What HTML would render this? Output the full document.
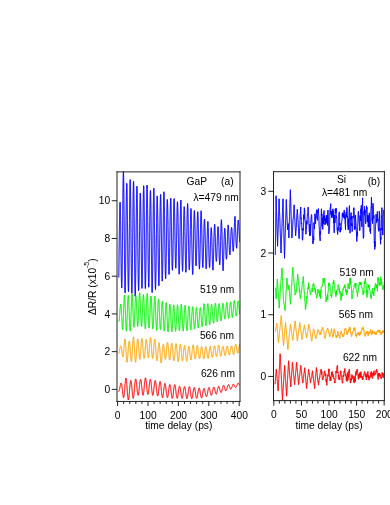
<!DOCTYPE html>
<html><head><meta charset="utf-8"><title>figure</title>
<style>
html,body{margin:0;padding:0;background:#fff;}
body{width:390px;height:505px;overflow:hidden;}
svg{display:block;}
svg text{font-family:"Liberation Sans",sans-serif;font-size:10.25px;fill:#000;}
.ax line,.ax rect{stroke:#222;stroke-width:1.0;}
.tx{will-change:transform;}
</style></head><body>
<svg width="390" height="505" viewBox="0 0 390 505">
<rect width="390" height="505" fill="#fff"/>
<defs>
<clipPath id="cl"><rect x="117.20" y="171.70" width="122.90" height="229.75"/></clipPath>
<clipPath id="cr"><rect x="273.50" y="171.70" width="110.90" height="228.90"/></clipPath>
</defs>
<g clip-path="url(#cl)">
<path d="M118.77,277.20 L118.92,266.95 L119.07,255.10 L119.23,242.60 L119.38,230.43 L119.53,219.56 L119.68,210.85 L119.84,204.98 L119.99,202.40 L120.14,202.21 L120.29,205.20 L120.45,211.52 L120.60,220.67 L120.75,231.92 L120.90,244.36 L121.06,256.92 L121.21,268.54 L121.36,278.15 L121.51,284.87 L121.67,287.99 L121.82,287.36 L121.97,282.72 L122.12,274.14 L122.28,262.15 L122.43,247.58 L122.58,231.49 L122.73,215.10 L122.89,199.70 L123.04,186.52 L123.19,176.67 L123.34,171.00 L123.50,171.25 L123.65,177.05 L123.80,187.12 L123.95,200.66 L124.11,216.62 L124.26,233.74 L124.41,250.68 L124.56,266.12 L124.72,278.88 L124.87,287.99 L125.02,292.78 L125.17,292.77 L125.33,288.04 L125.48,279.17 L125.63,266.96 L125.78,252.41 L125.94,236.75 L126.09,221.24 L126.24,207.14 L126.39,195.58 L126.55,187.46 L126.70,183.41 L126.85,183.41 L127.00,187.33 L127.16,195.29 L127.31,206.64 L127.46,220.47 L127.61,235.68 L127.77,251.04 L127.92,265.32 L128.07,277.35 L128.22,286.18 L128.38,291.07 L128.53,291.67 L128.68,287.95 L128.83,280.10 L128.99,268.73 L129.14,254.73 L129.29,239.20 L129.44,223.38 L129.59,208.53 L129.75,195.83 L129.90,186.32 L130.05,180.76 L130.21,179.67 L130.36,183.25 L130.51,191.06 L130.66,202.48 L130.81,216.59 L130.97,232.29 L131.12,248.32 L131.27,263.40 L131.43,276.34 L131.58,286.11 L131.73,291.94 L131.88,293.38 L132.03,290.36 L132.19,283.08 L132.34,272.11 L132.49,258.35 L132.65,242.89 L132.80,226.98 L132.95,211.90 L133.10,198.85 L133.25,188.91 L133.41,182.86 L133.56,181.22 L133.71,184.26 L133.87,191.61 L134.02,202.67 L134.17,216.59 L134.32,232.26 L134.47,248.44 L134.63,263.86 L134.78,277.29 L134.93,287.70 L135.09,294.25 L135.24,296.45 L135.39,293.76 L135.54,286.83 L135.69,276.24 L135.85,262.86 L136.00,247.79 L136.15,232.23 L136.31,217.42 L136.46,204.54 L136.61,194.60 L136.76,188.35 L136.91,186.25 L137.07,188.52 L137.22,194.85 L137.37,204.69 L137.53,217.24 L137.68,231.45 L137.83,246.19 L137.98,260.28 L138.13,272.61 L138.29,282.22 L138.44,288.37 L138.59,290.61 L138.75,288.97 L138.90,283.48 L139.05,274.61 L139.20,263.08 L139.36,249.86 L139.51,236.01 L139.66,222.66 L139.81,210.86 L139.97,201.55 L140.12,195.46 L140.27,193.07 L140.42,194.01 L140.57,198.60 L140.73,206.61 L140.88,217.39 L141.03,230.07 L141.19,243.64 L141.34,256.99 L141.49,269.03 L141.64,278.78 L141.80,285.43 L141.95,288.40 L142.10,287.51 L142.25,282.74 L142.41,274.38 L142.56,263.09 L142.71,249.72 L142.86,235.32 L143.01,221.03 L143.17,207.97 L143.32,197.20 L143.47,189.57 L143.62,185.71 L143.78,186.14 L143.93,190.75 L144.08,199.06 L144.24,210.41 L144.39,223.90 L144.54,238.44 L144.69,252.88 L144.84,266.06 L145.00,276.93 L145.15,284.62 L145.30,288.50 L145.46,288.22 L145.61,283.80 L145.76,275.64 L145.91,264.39 L146.06,250.93 L146.22,236.35 L146.37,221.80 L146.52,208.43 L146.68,197.33 L146.83,189.35 L146.98,185.14 L147.13,185.16 L147.28,189.41 L147.44,197.39 L147.59,208.43 L147.74,221.66 L147.90,236.01 L148.05,250.33 L148.20,263.50 L148.35,274.49 L148.50,282.43 L148.66,286.72 L148.81,287.18 L148.96,283.85 L149.12,276.84 L149.27,266.73 L149.42,254.35 L149.57,240.71 L149.72,226.92 L149.88,214.09 L150.03,203.27 L150.18,195.35 L150.34,190.97 L150.49,190.40 L150.64,193.57 L150.79,200.50 L150.94,210.67 L151.10,223.28 L151.25,237.35 L151.40,251.77 L151.56,265.38 L151.71,277.11 L151.86,285.99 L152.01,291.31 L152.16,292.53 L152.32,289.35 L152.47,282.30 L152.62,271.93 L152.78,259.06 L152.93,244.72 L153.08,230.04 L153.23,216.18 L153.38,204.25 L153.54,195.18 L153.69,189.68 L153.84,188.25 L154.00,191.30 L154.15,198.17 L154.30,208.29 L154.45,220.84 L154.61,234.81 L154.76,249.06 L154.91,262.49 L155.06,274.03 L155.22,282.80 L155.37,288.13 L155.52,289.64 L155.67,287.22 L155.82,281.14 L155.98,271.94 L156.13,260.39 L156.28,247.45 L156.44,234.16 L156.59,221.58 L156.74,210.73 L156.89,202.45 L157.05,197.38 L157.20,195.88 L157.35,197.64 L157.50,202.91 L157.66,211.25 L157.81,221.97 L157.96,234.21 L158.11,246.97 L158.26,259.23 L158.42,269.99 L158.57,278.41 L158.72,283.79 L158.88,285.71 L159.03,283.99 L159.18,278.78 L159.33,270.52 L159.49,259.84 L159.64,247.61 L159.79,234.78 L159.94,222.38 L160.09,211.38 L160.25,202.64 L160.40,196.84 L160.55,194.43 L160.71,195.52 L160.86,200.05 L161.01,207.65 L161.16,217.69 L161.31,229.36 L161.47,241.70 L161.62,253.72 L161.77,264.45 L161.93,273.01 L162.08,278.73 L162.23,281.12 L162.38,280.08 L162.53,275.61 L162.69,268.05 L162.84,257.99 L162.99,246.21 L163.15,233.65 L163.30,221.30 L163.45,210.15 L163.60,201.07 L163.75,194.77 L163.91,191.77 L164.06,192.60 L164.21,197.01 L164.37,204.48 L164.52,214.40 L164.67,225.94 L164.82,238.20 L164.97,250.19 L165.13,260.98 L165.28,269.74 L165.43,275.78 L165.59,278.68 L165.74,278.20 L165.89,274.43 L166.04,267.76 L166.19,258.77 L166.35,248.20 L166.50,236.93 L166.65,225.86 L166.81,215.88 L166.96,207.77 L167.11,202.16 L167.26,199.47 L167.41,199.67 L167.57,202.73 L167.72,208.57 L167.87,216.73 L168.03,226.52 L168.18,237.16 L168.33,247.77 L168.48,257.52 L168.63,265.60 L168.79,271.38 L168.94,274.38 L169.09,274.38 L169.25,271.36 L169.40,265.57 L169.55,257.47 L169.70,247.71 L169.86,237.06 L170.01,226.37 L170.16,216.47 L170.31,208.14 L170.47,202.03 L170.62,198.61 L170.77,198.16 L170.92,200.72 L171.07,206.01 L171.23,213.58 L171.38,222.81 L171.53,232.94 L171.69,243.17 L171.84,252.66 L171.99,260.66 L172.14,266.53 L172.30,269.81 L172.45,270.28 L172.60,267.94 L172.75,262.93 L172.91,255.65 L173.06,246.69 L173.21,236.76 L173.36,226.66 L173.51,217.18 L173.67,209.08 L173.82,203.00 L173.97,199.41 L174.12,198.61 L174.28,200.72 L174.43,205.45 L174.58,212.43 L174.74,221.07 L174.89,230.67 L175.04,240.48 L175.19,249.70 L175.34,257.61 L175.50,263.60 L175.65,267.19 L175.80,268.17 L175.95,266.76 L176.11,262.75 L176.26,256.47 L176.41,248.43 L176.56,239.29 L176.72,229.79 L176.87,220.70 L177.02,212.77 L177.18,206.65 L177.33,202.87 L177.48,201.73 L177.63,203.16 L177.78,207.28 L177.94,213.80 L178.09,222.23 L178.24,231.92 L178.40,242.10 L178.55,251.98 L178.70,260.76 L178.85,267.73 L179.00,272.34 L179.16,274.18 L179.31,272.72 L179.46,268.43 L179.62,261.67 L179.77,252.97 L179.92,243.01 L180.07,232.59 L180.22,222.53 L180.38,213.63 L180.53,206.58 L180.68,201.94 L180.84,200.06 L180.99,201.42 L181.14,205.58 L181.29,212.17 L181.44,220.62 L181.60,230.25 L181.75,240.29 L181.90,249.94 L182.06,258.44 L182.21,265.15 L182.36,269.55 L182.51,271.33 L182.67,270.53 L182.82,267.15 L182.97,261.44 L183.12,253.90 L183.28,245.15 L183.43,235.91 L183.58,226.94 L183.73,218.95 L183.88,212.60 L184.04,208.39 L184.19,206.66 L184.34,207.21 L184.50,210.20 L184.65,215.54 L184.80,222.80 L184.95,231.41 L185.11,240.69 L185.26,249.89 L185.41,258.26 L185.56,265.14 L185.72,269.96 L185.87,272.30 L186.02,271.87 L186.17,268.72 L186.32,263.16 L186.48,255.61 L186.63,246.66 L186.78,237.01 L186.94,227.43 L187.09,218.67 L187.24,211.42 L187.39,206.26 L187.55,203.57 L187.70,203.80 L187.85,206.85 L188.00,212.29 L188.16,219.68 L188.31,228.41 L188.46,237.77 L188.61,247.03 L188.76,255.44 L188.92,262.36 L189.07,267.25 L189.22,269.75 L189.38,269.85 L189.53,267.57 L189.68,262.95 L189.83,256.39 L189.99,248.41 L190.14,239.67 L190.29,230.90 L190.44,222.81 L190.59,216.06 L190.75,211.21 L190.90,208.66 L191.05,208.58 L191.20,210.97 L191.36,215.73 L191.51,222.51 L191.66,230.79 L191.81,239.91 L191.97,249.18 L192.12,257.85 L192.27,265.24 L192.43,270.77 L192.58,274.01 L192.73,274.50 L192.88,271.99 L193.03,267.13 L193.19,260.32 L193.34,252.13 L193.49,243.21 L193.64,234.27 L193.80,226.01 L193.95,219.07 L194.10,213.95 L194.25,211.04 L194.41,210.50 L194.56,212.30 L194.71,216.29 L194.87,222.09 L195.02,229.20 L195.17,237.03 L195.32,244.93 L195.47,252.25 L195.63,258.41 L195.78,262.92 L195.93,265.45 L196.09,265.89 L196.24,264.59 L196.39,261.20 L196.54,256.01 L196.69,249.43 L196.85,241.98 L197.00,234.27 L197.15,226.93 L197.31,220.54 L197.46,215.64 L197.61,212.62 L197.76,211.74 L197.92,212.99 L198.07,216.39 L198.22,221.68 L198.37,228.45 L198.53,236.19 L198.68,244.26 L198.83,252.05 L198.98,258.91 L199.13,264.31 L199.29,267.80 L199.44,269.10 L199.59,267.88 L199.75,264.44 L199.90,259.06 L200.05,252.17 L200.20,244.30 L200.36,236.10 L200.51,228.20 L200.66,221.23 L200.81,215.74 L200.97,212.18 L201.12,210.80 L201.27,212.10 L201.42,215.61 L201.57,220.99 L201.73,227.79 L201.88,235.48 L202.03,243.43 L202.19,251.02 L202.34,257.66 L202.49,262.86 L202.64,266.24 L202.80,267.57 L202.95,266.91 L203.10,264.25 L203.25,259.83 L203.41,254.04 L203.56,247.38 L203.71,240.40 L203.86,233.67 L204.01,227.75 L204.17,223.12 L204.32,220.15 L204.47,219.06 L204.62,219.74 L204.78,222.27 L204.93,226.52 L205.08,232.16 L205.24,238.74 L205.39,245.74 L205.54,252.60 L205.69,258.80 L205.84,263.83 L206.00,267.31 L206.15,268.98 L206.30,268.60 L206.45,266.28 L206.61,262.26 L206.76,256.86 L206.91,250.54 L207.06,243.81 L207.22,237.19 L207.37,231.23 L207.52,226.39 L207.68,223.05 L207.83,221.47 L207.98,221.86 L208.13,224.15 L208.28,228.07 L208.44,233.28 L208.59,239.36 L208.74,245.83 L208.89,252.17 L209.05,257.88 L209.20,262.54 L209.35,265.80 L209.50,267.42 L209.66,267.42 L209.81,265.82 L209.96,262.68 L210.12,258.29 L210.27,253.00 L210.42,247.28 L210.57,241.59 L210.72,236.40 L210.88,232.13 L211.03,229.15 L211.18,227.69 L211.33,227.68 L211.49,229.08 L211.64,232.05 L211.79,236.36 L211.94,241.69 L212.10,247.62 L212.25,253.67 L212.40,259.36 L212.56,264.23 L212.71,267.87 L212.86,269.97 L213.01,270.16 L213.17,268.24 L213.32,264.72 L213.47,259.86 L213.62,254.06 L213.78,247.75 L213.93,241.42 L214.08,235.56 L214.23,230.60 L214.38,226.91 L214.54,224.73 L214.69,224.28 L214.84,225.67 L215.00,228.53 L215.15,232.59 L215.30,237.50 L215.45,242.82 L215.61,248.11 L215.76,252.93 L215.91,256.92 L216.06,259.75 L216.22,261.22 L216.37,261.36 L216.52,260.51 L216.67,258.30 L216.82,254.92 L216.98,250.64 L217.13,245.81 L217.28,240.84 L217.44,236.12 L217.59,232.04 L217.74,228.95 L217.89,227.11 L218.05,226.61 L218.20,227.21 L218.35,229.25 L218.50,232.60 L218.66,237.00 L218.81,242.13 L218.96,247.57 L219.11,252.88 L219.26,257.63 L219.42,261.40 L219.57,263.85 L219.72,264.77 L219.88,264.13 L220.03,261.83 L220.18,258.01 L220.33,252.94 L220.49,247.00 L220.64,240.64 L220.79,234.37 L220.94,228.70 L221.09,224.12 L221.25,221.01 L221.40,219.67 L221.55,220.92 L221.70,224.03 L221.86,228.75 L222.01,234.71 L222.16,241.47 L222.31,248.51 L222.47,255.29 L222.62,261.30 L222.77,266.10 L222.93,269.32 L223.08,270.75 L223.23,269.62 L223.38,266.68 L223.53,262.32 L223.69,256.94 L223.84,251.00 L223.99,245.01 L224.14,239.42 L224.30,234.68 L224.45,231.11 L224.60,228.95 L224.75,228.29 L224.91,228.67 L225.06,230.34 L225.21,233.20 L225.37,236.99 L225.52,241.36 L225.67,245.91 L225.82,250.26 L225.97,254.04 L226.13,256.93 L226.28,258.70 L226.43,259.19 L226.58,258.62 L226.74,256.88 L226.89,253.99 L227.04,250.18 L227.19,245.73 L227.35,241.00 L227.50,236.33 L227.65,232.10 L227.81,228.62 L227.96,226.16 L228.11,224.90 L228.26,225.10 L228.42,226.65 L228.57,229.29 L228.72,232.80 L228.87,236.86 L229.03,241.15 L229.18,245.32 L229.33,249.03 L229.48,252.01 L229.63,254.01 L229.79,254.92 L229.94,254.68 L230.09,253.33 L230.25,251.00 L230.40,247.88 L230.55,244.25 L230.70,240.39 L230.86,236.61 L231.01,233.22 L231.16,230.48 L231.31,228.58 L231.47,227.66 L231.62,227.46 L231.77,227.96 L231.92,229.45 L232.07,231.81 L232.23,234.85 L232.38,238.29 L232.53,241.85 L232.69,245.22 L232.84,248.08 L232.99,250.16 L233.14,251.25 L233.30,251.21 L233.45,250.00 L233.60,247.65 L233.75,244.30 L233.91,240.15 L234.06,235.52 L234.21,230.73 L234.36,226.14 L234.51,222.11 L234.67,218.95 L234.82,216.92 L234.97,216.39 L235.12,217.64 L235.28,220.09 L235.43,223.53 L235.58,227.66 L235.74,232.15 L235.89,236.64 L236.04,240.76 L236.19,244.20 L236.34,246.71 L236.50,248.09 L236.65,248.25 L236.80,247.14 L236.95,244.95 L237.11,241.89 L237.26,238.23 L237.41,234.26 L237.56,230.31 L237.72,226.69 L237.87,223.67 L238.02,221.48 L238.18,220.26 L238.33,220.05 L238.48,220.69 L238.63,222.27 L238.78,224.64 L238.94,227.59 L239.09,230.87 L239.24,234.18 L239.39,237.27 L239.55,239.88 L239.70,241.80" fill="none" stroke="#0000ff" stroke-width="0.6" stroke-linejoin="round" stroke-linecap="round"/><path d="M118.77,277.20 L118.92,266.95 L119.07,255.10 L119.23,242.60 L119.38,230.43 L119.53,219.56 L119.68,210.85 L119.84,204.98 L119.99,202.40 L120.14,202.21 L120.29,205.20 L120.45,211.52 L120.60,220.67 L120.75,231.92 L120.90,244.36 L121.06,256.92 L121.21,268.54 L121.36,278.15 L121.51,284.87 L121.67,287.99 L121.82,287.36 L121.97,282.72 L122.12,274.14 L122.28,262.15 L122.43,247.58 L122.58,231.49 L122.73,215.10 L122.89,199.70 L123.04,186.52 L123.19,176.67 L123.34,171.00 L123.50,171.25 L123.65,177.05 L123.80,187.12 L123.95,200.66 L124.11,216.62 L124.26,233.74 L124.41,250.68 L124.56,266.12 L124.72,278.88 L124.87,287.99 L125.02,292.78 L125.17,292.77 L125.33,288.04 L125.48,279.17 L125.63,266.96 L125.78,252.41 L125.94,236.75 L126.09,221.24 L126.24,207.14 L126.39,195.58 L126.55,187.46 L126.70,183.41 L126.85,183.41 L127.00,187.33 L127.16,195.29 L127.31,206.64 L127.46,220.47 L127.61,235.68 L127.77,251.04 L127.92,265.32 L128.07,277.35 L128.22,286.18 L128.38,291.07 L128.53,291.67 L128.68,287.95 L128.83,280.10 L128.99,268.73 L129.14,254.73 L129.29,239.20 L129.44,223.38 L129.59,208.53 L129.75,195.83 L129.90,186.32 L130.05,180.76 L130.21,179.67 L130.36,183.25 L130.51,191.06 L130.66,202.48 L130.81,216.59 L130.97,232.29 L131.12,248.32 L131.27,263.40 L131.43,276.34 L131.58,286.11 L131.73,291.94 L131.88,293.38 L132.03,290.36 L132.19,283.08 L132.34,272.11 L132.49,258.35 L132.65,242.89 L132.80,226.98 L132.95,211.90 L133.10,198.85 L133.25,188.91 L133.41,182.86 L133.56,181.22 L133.71,184.26 L133.87,191.61 L134.02,202.67 L134.17,216.59 L134.32,232.26 L134.47,248.44 L134.63,263.86 L134.78,277.29 L134.93,287.70 L135.09,294.25 L135.24,296.45 L135.39,293.76 L135.54,286.83 L135.69,276.24 L135.85,262.86 L136.00,247.79 L136.15,232.23 L136.31,217.42 L136.46,204.54 L136.61,194.60 L136.76,188.35 L136.91,186.25 L137.07,188.52 L137.22,194.85 L137.37,204.69 L137.53,217.24 L137.68,231.45 L137.83,246.19 L137.98,260.28 L138.13,272.61 L138.29,282.22 L138.44,288.37 L138.59,290.61 L138.75,288.97 L138.90,283.48 L139.05,274.61 L139.20,263.08 L139.36,249.86 L139.51,236.01 L139.66,222.66 L139.81,210.86 L139.97,201.55 L140.12,195.46 L140.27,193.07 L140.42,194.01 L140.57,198.60 L140.73,206.61 L140.88,217.39 L141.03,230.07 L141.19,243.64 L141.34,256.99 L141.49,269.03 L141.64,278.78 L141.80,285.43 L141.95,288.40 L142.10,287.51 L142.25,282.74 L142.41,274.38 L142.56,263.09 L142.71,249.72 L142.86,235.32 L143.01,221.03 L143.17,207.97 L143.32,197.20 L143.47,189.57 L143.62,185.71 L143.78,186.14 L143.93,190.75 L144.08,199.06 L144.24,210.41 L144.39,223.90 L144.54,238.44 L144.69,252.88 L144.84,266.06 L145.00,276.93 L145.15,284.62 L145.30,288.50 L145.46,288.22 L145.61,283.80 L145.76,275.64 L145.91,264.39 L146.06,250.93 L146.22,236.35 L146.37,221.80 L146.52,208.43 L146.68,197.33 L146.83,189.35 L146.98,185.14 L147.13,185.16 L147.28,189.41 L147.44,197.39 L147.59,208.43 L147.74,221.66 L147.90,236.01 L148.05,250.33 L148.20,263.50 L148.35,274.49 L148.50,282.43 L148.66,286.72 L148.81,287.18 L148.96,283.85 L149.12,276.84 L149.27,266.73 L149.42,254.35 L149.57,240.71 L149.72,226.92 L149.88,214.09 L150.03,203.27 L150.18,195.35 L150.34,190.97 L150.49,190.40 L150.64,193.57 L150.79,200.50 L150.94,210.67 L151.10,223.28 L151.25,237.35 L151.40,251.77 L151.56,265.38 L151.71,277.11 L151.86,285.99 L152.01,291.31 L152.16,292.53 L152.32,289.35 L152.47,282.30 L152.62,271.93 L152.78,259.06 L152.93,244.72 L153.08,230.04 L153.23,216.18 L153.38,204.25 L153.54,195.18 L153.69,189.68 L153.84,188.25 L154.00,191.30 L154.15,198.17 L154.30,208.29 L154.45,220.84 L154.61,234.81 L154.76,249.06 L154.91,262.49 L155.06,274.03 L155.22,282.80 L155.37,288.13 L155.52,289.64 L155.67,287.22 L155.82,281.14 L155.98,271.94 L156.13,260.39 L156.28,247.45 L156.44,234.16 L156.59,221.58 L156.74,210.73 L156.89,202.45 L157.05,197.38 L157.20,195.88 L157.35,197.64 L157.50,202.91 L157.66,211.25 L157.81,221.97 L157.96,234.21 L158.11,246.97 L158.26,259.23 L158.42,269.99 L158.57,278.41 L158.72,283.79 L158.88,285.71 L159.03,283.99 L159.18,278.78 L159.33,270.52 L159.49,259.84 L159.64,247.61 L159.79,234.78 L159.94,222.38 L160.09,211.38 L160.25,202.64 L160.40,196.84 L160.55,194.43 L160.71,195.52 L160.86,200.05 L161.01,207.65 L161.16,217.69 L161.31,229.36 L161.47,241.70 L161.62,253.72 L161.77,264.45 L161.93,273.01 L162.08,278.73 L162.23,281.12 L162.38,280.08 L162.53,275.61 L162.69,268.05 L162.84,257.99 L162.99,246.21 L163.15,233.65 L163.30,221.30 L163.45,210.15 L163.60,201.07 L163.75,194.77 L163.91,191.77 L164.06,192.60 L164.21,197.01 L164.37,204.48 L164.52,214.40 L164.67,225.94 L164.82,238.20 L164.97,250.19 L165.13,260.98 L165.28,269.74 L165.43,275.78 L165.59,278.68 L165.74,278.20 L165.89,274.43 L166.04,267.76 L166.19,258.77 L166.35,248.20 L166.50,236.93 L166.65,225.86 L166.81,215.88 L166.96,207.77 L167.11,202.16 L167.26,199.47 L167.41,199.67 L167.57,202.73 L167.72,208.57 L167.87,216.73 L168.03,226.52 L168.18,237.16 L168.33,247.77 L168.48,257.52 L168.63,265.60 L168.79,271.38 L168.94,274.38 L169.09,274.38 L169.25,271.36 L169.40,265.57 L169.55,257.47 L169.70,247.71 L169.86,237.06 L170.01,226.37 L170.16,216.47 L170.31,208.14 L170.47,202.03 L170.62,198.61 L170.77,198.16 L170.92,200.72 L171.07,206.01 L171.23,213.58 L171.38,222.81 L171.53,232.94 L171.69,243.17 L171.84,252.66 L171.99,260.66 L172.14,266.53 L172.30,269.81 L172.45,270.28 L172.60,267.94 L172.75,262.93 L172.91,255.65 L173.06,246.69 L173.21,236.76 L173.36,226.66 L173.51,217.18 L173.67,209.08 L173.82,203.00 L173.97,199.41 L174.12,198.61 L174.28,200.72 L174.43,205.45 L174.58,212.43 L174.74,221.07 L174.89,230.67 L175.04,240.48 L175.19,249.70 L175.34,257.61 L175.50,263.60 L175.65,267.19 L175.80,268.17 L175.95,266.76 L176.11,262.75 L176.26,256.47 L176.41,248.43 L176.56,239.29 L176.72,229.79 L176.87,220.70 L177.02,212.77 L177.18,206.65 L177.33,202.87 L177.48,201.73 L177.63,203.16 L177.78,207.28 L177.94,213.80 L178.09,222.23 L178.24,231.92 L178.40,242.10 L178.55,251.98 L178.70,260.76 L178.85,267.73 L179.00,272.34 L179.16,274.18 L179.31,272.72 L179.46,268.43 L179.62,261.67 L179.77,252.97 L179.92,243.01 L180.07,232.59 L180.22,222.53 L180.38,213.63 L180.53,206.58 L180.68,201.94 L180.84,200.06 L180.99,201.42 L181.14,205.58 L181.29,212.17 L181.44,220.62 L181.60,230.25 L181.75,240.29 L181.90,249.94 L182.06,258.44 L182.21,265.15 L182.36,269.55 L182.51,271.33 L182.67,270.53 L182.82,267.15 L182.97,261.44 L183.12,253.90 L183.28,245.15 L183.43,235.91 L183.58,226.94 L183.73,218.95 L183.88,212.60 L184.04,208.39 L184.19,206.66 L184.34,207.21 L184.50,210.20 L184.65,215.54 L184.80,222.80 L184.95,231.41 L185.11,240.69 L185.26,249.89 L185.41,258.26 L185.56,265.14 L185.72,269.96 L185.87,272.30 L186.02,271.87 L186.17,268.72 L186.32,263.16 L186.48,255.61 L186.63,246.66 L186.78,237.01 L186.94,227.43 L187.09,218.67 L187.24,211.42 L187.39,206.26 L187.55,203.57 L187.70,203.80 L187.85,206.85 L188.00,212.29 L188.16,219.68 L188.31,228.41 L188.46,237.77 L188.61,247.03 L188.76,255.44 L188.92,262.36 L189.07,267.25 L189.22,269.75 L189.38,269.85 L189.53,267.57 L189.68,262.95 L189.83,256.39 L189.99,248.41 L190.14,239.67 L190.29,230.90 L190.44,222.81 L190.59,216.06 L190.75,211.21 L190.90,208.66 L191.05,208.58 L191.20,210.97 L191.36,215.73 L191.51,222.51 L191.66,230.79 L191.81,239.91 L191.97,249.18 L192.12,257.85 L192.27,265.24 L192.43,270.77 L192.58,274.01 L192.73,274.50 L192.88,271.99 L193.03,267.13 L193.19,260.32 L193.34,252.13 L193.49,243.21 L193.64,234.27 L193.80,226.01 L193.95,219.07 L194.10,213.95 L194.25,211.04 L194.41,210.50 L194.56,212.30 L194.71,216.29 L194.87,222.09 L195.02,229.20 L195.17,237.03 L195.32,244.93 L195.47,252.25 L195.63,258.41 L195.78,262.92 L195.93,265.45 L196.09,265.89 L196.24,264.59 L196.39,261.20 L196.54,256.01 L196.69,249.43 L196.85,241.98 L197.00,234.27 L197.15,226.93 L197.31,220.54 L197.46,215.64 L197.61,212.62 L197.76,211.74 L197.92,212.99 L198.07,216.39 L198.22,221.68 L198.37,228.45 L198.53,236.19 L198.68,244.26 L198.83,252.05 L198.98,258.91 L199.13,264.31 L199.29,267.80 L199.44,269.10 L199.59,267.88 L199.75,264.44 L199.90,259.06 L200.05,252.17 L200.20,244.30 L200.36,236.10 L200.51,228.20 L200.66,221.23 L200.81,215.74 L200.97,212.18 L201.12,210.80 L201.27,212.10 L201.42,215.61 L201.57,220.99 L201.73,227.79 L201.88,235.48 L202.03,243.43 L202.19,251.02 L202.34,257.66 L202.49,262.86 L202.64,266.24 L202.80,267.57 L202.95,266.91 L203.10,264.25 L203.25,259.83 L203.41,254.04 L203.56,247.38 L203.71,240.40 L203.86,233.67 L204.01,227.75 L204.17,223.12 L204.32,220.15 L204.47,219.06 L204.62,219.74 L204.78,222.27 L204.93,226.52 L205.08,232.16 L205.24,238.74 L205.39,245.74 L205.54,252.60 L205.69,258.80 L205.84,263.83 L206.00,267.31 L206.15,268.98 L206.30,268.60 L206.45,266.28 L206.61,262.26 L206.76,256.86 L206.91,250.54 L207.06,243.81 L207.22,237.19 L207.37,231.23 L207.52,226.39 L207.68,223.05 L207.83,221.47 L207.98,221.86 L208.13,224.15 L208.28,228.07 L208.44,233.28 L208.59,239.36 L208.74,245.83 L208.89,252.17 L209.05,257.88 L209.20,262.54 L209.35,265.80 L209.50,267.42 L209.66,267.42 L209.81,265.82 L209.96,262.68 L210.12,258.29 L210.27,253.00 L210.42,247.28 L210.57,241.59 L210.72,236.40 L210.88,232.13 L211.03,229.15 L211.18,227.69 L211.33,227.68 L211.49,229.08 L211.64,232.05 L211.79,236.36 L211.94,241.69 L212.10,247.62 L212.25,253.67 L212.40,259.36 L212.56,264.23 L212.71,267.87 L212.86,269.97 L213.01,270.16 L213.17,268.24 L213.32,264.72 L213.47,259.86 L213.62,254.06 L213.78,247.75 L213.93,241.42 L214.08,235.56 L214.23,230.60 L214.38,226.91 L214.54,224.73 L214.69,224.28 L214.84,225.67 L215.00,228.53 L215.15,232.59 L215.30,237.50 L215.45,242.82 L215.61,248.11 L215.76,252.93 L215.91,256.92 L216.06,259.75 L216.22,261.22 L216.37,261.36 L216.52,260.51 L216.67,258.30 L216.82,254.92 L216.98,250.64 L217.13,245.81 L217.28,240.84 L217.44,236.12 L217.59,232.04 L217.74,228.95 L217.89,227.11 L218.05,226.61 L218.20,227.21 L218.35,229.25 L218.50,232.60 L218.66,237.00 L218.81,242.13 L218.96,247.57 L219.11,252.88 L219.26,257.63 L219.42,261.40 L219.57,263.85 L219.72,264.77 L219.88,264.13 L220.03,261.83 L220.18,258.01 L220.33,252.94 L220.49,247.00 L220.64,240.64 L220.79,234.37 L220.94,228.70 L221.09,224.12 L221.25,221.01 L221.40,219.67 L221.55,220.92 L221.70,224.03 L221.86,228.75 L222.01,234.71 L222.16,241.47 L222.31,248.51 L222.47,255.29 L222.62,261.30 L222.77,266.10 L222.93,269.32 L223.08,270.75 L223.23,269.62 L223.38,266.68 L223.53,262.32 L223.69,256.94 L223.84,251.00 L223.99,245.01 L224.14,239.42 L224.30,234.68 L224.45,231.11 L224.60,228.95 L224.75,228.29 L224.91,228.67 L225.06,230.34 L225.21,233.20 L225.37,236.99 L225.52,241.36 L225.67,245.91 L225.82,250.26 L225.97,254.04 L226.13,256.93 L226.28,258.70 L226.43,259.19 L226.58,258.62 L226.74,256.88 L226.89,253.99 L227.04,250.18 L227.19,245.73 L227.35,241.00 L227.50,236.33 L227.65,232.10 L227.81,228.62 L227.96,226.16 L228.11,224.90 L228.26,225.10 L228.42,226.65 L228.57,229.29 L228.72,232.80 L228.87,236.86 L229.03,241.15 L229.18,245.32 L229.33,249.03 L229.48,252.01 L229.63,254.01 L229.79,254.92 L229.94,254.68 L230.09,253.33 L230.25,251.00 L230.40,247.88 L230.55,244.25 L230.70,240.39 L230.86,236.61 L231.01,233.22 L231.16,230.48 L231.31,228.58 L231.47,227.66 L231.62,227.46 L231.77,227.96 L231.92,229.45 L232.07,231.81 L232.23,234.85 L232.38,238.29 L232.53,241.85 L232.69,245.22 L232.84,248.08 L232.99,250.16 L233.14,251.25 L233.30,251.21 L233.45,250.00 L233.60,247.65 L233.75,244.30 L233.91,240.15 L234.06,235.52 L234.21,230.73 L234.36,226.14 L234.51,222.11 L234.67,218.95 L234.82,216.92 L234.97,216.39 L235.12,217.64 L235.28,220.09 L235.43,223.53 L235.58,227.66 L235.74,232.15 L235.89,236.64 L236.04,240.76 L236.19,244.20 L236.34,246.71 L236.50,248.09 L236.65,248.25 L236.80,247.14 L236.95,244.95 L237.11,241.89 L237.26,238.23 L237.41,234.26 L237.56,230.31 L237.72,226.69 L237.87,223.67 L238.02,221.48 L238.18,220.26 L238.33,220.05 L238.48,220.69 L238.63,222.27 L238.78,224.64 L238.94,227.59 L239.09,230.87 L239.24,234.18 L239.39,237.27 L239.55,239.88 L239.70,241.80" fill="none" stroke="#0000ff" stroke-width="0.6" stroke-linejoin="round" stroke-linecap="round"/>
<path d="M118.77,321.17 L118.92,321.27 L119.07,320.86 L119.23,319.91 L119.38,318.47 L119.53,316.64 L119.68,314.53 L119.84,312.28 L119.99,310.04 L120.14,307.99 L120.29,306.26 L120.45,304.99 L120.60,304.30 L120.75,304.10 L120.90,304.39 L121.06,305.41 L121.21,307.12 L121.36,309.46 L121.51,312.30 L121.67,315.46 L121.82,318.76 L121.97,321.97 L122.12,324.86 L122.28,327.23 L122.43,328.89 L122.58,329.67 L122.73,329.23 L122.89,327.82 L123.04,325.49 L123.19,322.37 L123.34,318.62 L123.50,314.47 L123.65,310.16 L123.80,305.95 L123.95,302.12 L124.11,298.92 L124.26,296.55 L124.41,295.19 L124.56,295.16 L124.72,296.41 L124.87,298.70 L125.02,301.90 L125.17,305.80 L125.33,310.15 L125.48,314.70 L125.63,319.14 L125.78,323.21 L125.94,326.63 L126.09,329.20 L126.24,330.74 L126.39,331.16 L126.55,330.38 L126.70,328.51 L126.85,325.67 L127.00,322.03 L127.16,317.83 L127.31,313.34 L127.46,308.85 L127.61,304.64 L127.77,300.98 L127.92,298.10 L128.07,296.18 L128.22,295.36 L128.38,295.62 L128.53,297.00 L128.68,299.41 L128.83,302.71 L128.99,306.68 L129.14,311.07 L129.29,315.61 L129.44,319.99 L129.59,323.95 L129.75,327.22 L129.90,329.60 L130.05,330.93 L130.21,331.06 L130.36,329.94 L130.51,327.74 L130.66,324.60 L130.81,320.72 L130.97,316.34 L131.12,311.75 L131.27,307.21 L131.43,303.02 L131.58,299.44 L131.73,296.68 L131.88,294.90 L132.03,294.20 L132.19,294.72 L132.34,296.31 L132.49,298.86 L132.65,302.17 L132.80,306.04 L132.95,310.20 L133.10,314.39 L133.25,318.33 L133.41,321.78 L133.56,324.52 L133.71,326.38 L133.87,327.26 L134.02,327.17 L134.17,326.12 L134.32,324.12 L134.47,321.32 L134.63,317.88 L134.78,314.05 L134.93,310.05 L135.09,306.16 L135.24,302.61 L135.39,299.63 L135.54,297.40 L135.69,296.07 L135.85,295.70 L136.00,296.15 L136.15,297.57 L136.31,299.87 L136.46,302.89 L136.61,306.44 L136.76,310.30 L136.91,314.22 L137.07,317.93 L137.22,321.20 L137.37,323.82 L137.53,325.59 L137.68,326.41 L137.83,326.24 L137.98,325.05 L138.13,322.91 L138.29,319.94 L138.44,316.32 L138.59,312.27 L138.75,308.05 L138.90,303.91 L139.05,300.13 L139.20,296.93 L139.36,294.54 L139.51,293.09 L139.66,292.73 L139.81,293.60 L139.97,295.48 L140.12,298.25 L140.27,301.74 L140.42,305.72 L140.57,309.94 L140.73,314.13 L140.88,318.03 L141.03,321.40 L141.19,324.02 L141.34,325.74 L141.49,326.45 L141.64,326.19 L141.80,324.93 L141.95,322.73 L142.10,319.74 L142.25,316.14 L142.41,312.18 L142.56,308.11 L142.71,304.19 L142.86,300.69 L143.01,297.82 L143.17,295.79 L143.32,294.72 L143.47,294.64 L143.62,295.54 L143.78,297.45 L143.93,300.26 L144.08,303.79 L144.24,307.83 L144.39,312.12 L144.54,316.40 L144.69,320.38 L144.84,323.83 L145.00,326.51 L145.15,328.24 L145.30,328.91 L145.46,328.35 L145.61,326.71 L145.76,324.09 L145.91,320.66 L146.06,316.63 L146.22,312.25 L146.37,307.81 L146.52,303.58 L146.68,299.82 L146.83,296.79 L146.98,294.66 L147.13,293.57 L147.28,293.68 L147.44,294.95 L147.59,297.23 L147.74,300.37 L147.90,304.18 L148.05,308.39 L148.20,312.75 L148.35,316.98 L148.50,320.81 L148.66,324.02 L148.81,326.39 L148.96,327.79 L149.12,328.15 L149.27,327.51 L149.42,325.85 L149.57,323.30 L149.72,320.02 L149.88,316.23 L150.03,312.17 L150.18,308.12 L150.34,304.33 L150.49,301.05 L150.64,298.48 L150.79,296.79 L150.94,296.09 L151.10,296.35 L151.25,297.60 L151.40,299.78 L151.56,302.78 L151.71,306.38 L151.86,310.38 L152.01,314.51 L152.16,318.52 L152.32,322.15 L152.47,325.16 L152.62,327.37 L152.78,328.64 L152.93,328.89 L153.08,328.11 L153.23,326.34 L153.38,323.69 L153.54,320.32 L153.69,316.44 L153.84,312.31 L154.00,308.19 L154.15,304.34 L154.30,301.02 L154.45,298.43 L154.61,296.75 L154.76,296.09 L154.91,296.60 L155.06,298.17 L155.22,300.67 L155.37,303.96 L155.52,307.83 L155.67,312.03 L155.82,316.30 L155.98,320.38 L156.13,324.02 L156.28,326.98 L156.44,329.10 L156.59,330.24 L156.74,330.30 L156.89,329.28 L157.05,327.31 L157.20,324.52 L157.35,321.10 L157.50,317.28 L157.66,313.30 L157.81,309.42 L157.96,305.89 L158.11,302.94 L158.26,300.74 L158.42,299.44 L158.57,299.11 L158.72,299.72 L158.88,301.27 L159.03,303.66 L159.18,306.73 L159.33,310.28 L159.49,314.09 L159.64,317.90 L159.79,321.49 L159.94,324.63 L160.09,327.12 L160.25,328.82 L160.40,329.61 L160.55,329.53 L160.71,328.55 L160.86,326.71 L161.01,324.14 L161.16,321.00 L161.31,317.50 L161.47,313.86 L161.62,310.33 L161.77,307.13 L161.93,304.47 L162.08,302.52 L162.23,301.41 L162.38,301.21 L162.53,301.92 L162.69,303.52 L162.84,305.91 L162.99,308.94 L163.15,312.42 L163.30,316.14 L163.45,319.86 L163.60,323.35 L163.75,326.40 L163.91,328.80 L164.06,330.42 L164.21,331.14 L164.37,330.92 L164.52,329.78 L164.67,327.81 L164.82,325.13 L164.97,321.92 L165.13,318.40 L165.28,314.78 L165.43,311.30 L165.59,308.19 L165.74,305.64 L165.89,303.81 L166.04,302.84 L166.19,302.77 L166.35,303.61 L166.50,305.32 L166.65,307.78 L166.81,310.84 L166.96,314.30 L167.11,317.96 L167.26,321.57 L167.41,324.91 L167.57,327.77 L167.72,329.98 L167.87,331.39 L168.03,331.93 L168.18,331.54 L168.33,330.26 L168.48,328.20 L168.63,325.48 L168.79,322.29 L168.94,318.83 L169.09,315.32 L169.25,311.99 L169.40,309.06 L169.55,306.70 L169.70,305.07 L169.86,304.27 L170.01,304.33 L170.16,305.25 L170.31,306.99 L170.47,309.43 L170.62,312.41 L170.77,315.76 L170.92,319.24 L171.07,322.65 L171.23,325.77 L171.38,328.41 L171.53,330.38 L171.69,331.58 L171.84,331.93 L171.99,331.39 L172.14,330.01 L172.30,327.89 L172.45,325.17 L172.60,322.03 L172.75,318.65 L172.91,315.27 L173.06,312.09 L173.21,309.32 L173.36,307.12 L173.51,305.65 L173.67,304.99 L173.82,305.14 L173.97,306.12 L174.12,307.88 L174.28,310.29 L174.43,313.21 L174.58,316.44 L174.74,319.78 L174.89,323.01 L175.04,325.94 L175.19,328.37 L175.34,330.14 L175.50,331.15 L175.65,331.33 L175.80,330.67 L175.95,329.21 L176.11,327.05 L176.26,324.31 L176.41,321.18 L176.56,317.85 L176.72,314.54 L176.87,311.45 L177.02,308.78 L177.18,306.70 L177.33,305.33 L177.48,304.77 L177.63,305.04 L177.78,306.12 L177.94,307.95 L178.09,310.41 L178.24,313.34 L178.40,316.56 L178.55,319.86 L178.70,323.02 L178.85,325.85 L179.00,328.16 L179.16,329.80 L179.31,330.67 L179.46,330.74 L179.62,329.98 L179.77,328.44 L179.92,326.21 L180.07,323.42 L180.22,320.25 L180.38,316.91 L180.53,313.60 L180.68,310.54 L180.84,307.92 L180.99,305.92 L181.14,304.64 L181.29,304.20 L181.44,304.67 L181.60,305.96 L181.75,308.00 L181.90,310.64 L182.06,313.73 L182.21,317.07 L182.36,320.45 L182.51,323.64 L182.67,326.47 L182.82,328.74 L182.97,330.31 L183.12,331.10 L183.28,331.03 L183.43,330.12 L183.58,328.44 L183.73,326.11 L183.88,323.28 L184.04,320.13 L184.19,316.86 L184.34,313.68 L184.50,310.80 L184.65,308.39 L184.80,306.62 L184.95,305.58 L185.11,305.34 L185.26,305.90 L185.41,307.24 L185.56,309.27 L185.72,311.86 L185.87,314.84 L186.02,318.02 L186.17,321.21 L186.32,324.19 L186.48,326.79 L186.63,328.83 L186.78,330.19 L186.94,330.78 L187.09,330.56 L187.24,329.55 L187.39,327.83 L187.55,325.50 L187.70,322.72 L187.85,319.66 L188.00,316.52 L188.16,313.50 L188.31,310.79 L188.46,308.56 L188.61,306.95 L188.76,306.06 L188.92,305.94 L189.07,306.61 L189.22,308.01 L189.38,310.04 L189.53,312.58 L189.68,315.46 L189.83,318.50 L189.99,321.50 L190.14,324.27 L190.29,326.64 L190.44,328.47 L190.59,329.62 L190.75,330.05 L190.90,329.71 L191.05,328.64 L191.20,326.91 L191.36,324.63 L191.51,321.95 L191.66,319.05 L191.81,316.11 L191.97,313.31 L192.12,310.84 L192.27,308.84 L192.43,307.44 L192.58,306.73 L192.73,306.75 L192.88,307.50 L193.03,308.91 L193.19,310.90 L193.34,313.33 L193.49,316.05 L193.64,318.88 L193.80,321.64 L193.95,324.16 L194.10,326.28 L194.25,327.87 L194.41,328.83 L194.56,329.10 L194.71,328.67 L194.87,327.56 L195.02,325.87 L195.17,323.70 L195.32,321.19 L195.47,318.50 L195.63,315.80 L195.78,313.28 L195.93,311.07 L196.09,309.33 L196.24,308.16 L196.39,307.62 L196.54,307.73 L196.69,308.48 L196.85,309.83 L197.00,311.69 L197.15,313.95 L197.31,316.45 L197.46,319.03 L197.61,321.54 L197.76,323.79 L197.92,325.67 L198.07,327.03 L198.22,327.81 L198.37,327.95 L198.53,327.43 L198.68,326.30 L198.83,324.63 L198.98,322.53 L199.13,320.13 L199.29,317.59 L199.44,315.06 L199.59,312.71 L199.75,310.68 L199.90,309.09 L200.05,308.05 L200.20,307.61 L200.36,307.67 L200.51,308.32 L200.66,309.55 L200.81,311.29 L200.97,313.41 L201.12,315.78 L201.27,318.25 L201.42,320.64 L201.57,322.81 L201.73,324.59 L201.88,325.87 L202.03,326.56 L202.19,326.59 L202.34,325.97 L202.49,324.70 L202.64,322.86 L202.80,320.54 L202.95,317.89 L203.10,315.06 L203.25,312.22 L203.41,309.56 L203.56,307.25 L203.71,305.41 L203.86,304.18 L204.01,303.64 L204.17,303.96 L204.32,304.99 L204.47,306.65 L204.62,308.82 L204.78,311.38 L204.93,314.15 L205.08,316.96 L205.24,319.63 L205.39,321.98 L205.54,323.88 L205.69,325.19 L205.84,325.84 L206.00,325.77 L206.15,325.00 L206.30,323.57 L206.45,321.59 L206.61,319.18 L206.76,316.49 L206.91,313.70 L207.06,310.97 L207.22,308.49 L207.37,306.40 L207.52,304.84 L207.68,303.90 L207.83,303.64 L207.98,304.09 L208.13,305.19 L208.28,306.88 L208.44,309.03 L208.59,311.52 L208.74,314.17 L208.89,316.82 L209.05,319.30 L209.20,321.45 L209.35,323.14 L209.50,324.26 L209.66,324.75 L209.81,324.56 L209.96,323.72 L210.12,322.29 L210.27,320.36 L210.42,318.06 L210.57,315.54 L210.72,312.96 L210.88,310.47 L211.03,308.25 L211.18,306.41 L211.33,305.09 L211.49,304.34 L211.64,304.21 L211.79,304.65 L211.94,305.69 L212.10,307.26 L212.25,309.24 L212.40,311.52 L212.56,313.94 L212.71,316.35 L212.86,318.58 L213.01,320.50 L213.17,321.98 L213.32,322.92 L213.47,323.26 L213.62,322.98 L213.78,322.09 L213.93,320.65 L214.08,318.74 L214.23,316.48 L214.38,314.02 L214.54,311.50 L214.69,309.09 L214.84,306.93 L215.00,305.16 L215.15,303.89 L215.30,303.19 L215.45,303.13 L215.61,303.73 L215.76,304.90 L215.91,306.57 L216.06,308.61 L216.22,310.90 L216.37,313.29 L216.52,315.62 L216.67,317.75 L216.82,319.54 L216.98,320.89 L217.13,321.70 L217.28,321.93 L217.44,321.58 L217.59,320.66 L217.74,319.24 L217.89,317.41 L218.05,315.29 L218.20,313.01 L218.35,310.72 L218.50,308.56 L218.66,306.68 L218.81,305.17 L218.96,304.15 L219.11,303.67 L219.26,303.72 L219.42,304.32 L219.57,305.43 L219.72,306.98 L219.88,308.87 L220.03,310.98 L220.18,313.16 L220.33,315.28 L220.49,317.20 L220.64,318.80 L220.79,319.98 L220.94,320.65 L221.09,320.78 L221.25,320.34 L221.40,319.37 L221.55,317.95 L221.70,316.16 L221.86,314.11 L222.01,311.93 L222.16,309.76 L222.31,307.74 L222.47,305.98 L222.62,304.60 L222.77,303.68 L222.93,303.27 L223.08,303.38 L223.23,304.01 L223.38,305.11 L223.53,306.61 L223.69,308.41 L223.84,310.38 L223.99,312.41 L224.14,314.35 L224.30,316.09 L224.45,317.51 L224.60,318.51 L224.75,319.04 L224.91,319.06 L225.06,318.60 L225.21,317.65 L225.37,316.27 L225.52,314.55 L225.67,312.60 L225.82,310.53 L225.97,308.48 L226.13,306.57 L226.28,304.93 L226.43,303.66 L226.58,302.83 L226.74,302.50 L226.89,302.69 L227.04,303.38 L227.19,304.52 L227.35,306.05 L227.50,307.86 L227.65,309.84 L227.81,311.85 L227.96,313.77 L228.11,315.48 L228.26,316.86 L228.42,317.82 L228.57,318.30 L228.72,318.27 L228.87,317.73 L229.03,316.70 L229.18,315.26 L229.33,313.50 L229.48,311.52 L229.63,309.44 L229.79,307.41 L229.94,305.53 L230.09,303.95 L230.25,302.74 L230.40,301.99 L230.55,301.74 L230.70,301.99 L230.86,302.73 L231.01,303.93 L231.16,305.50 L231.31,307.34 L231.47,309.33 L231.62,311.35 L231.77,313.26 L231.92,314.93 L232.07,316.27 L232.23,317.17 L232.38,317.57 L232.53,317.43 L232.69,316.76 L232.84,315.62 L232.99,314.06 L233.14,312.20 L233.30,310.13 L233.45,308.00 L233.60,305.93 L233.75,304.06 L233.91,302.48 L234.06,301.31 L234.21,300.61 L234.36,300.44 L234.51,300.84 L234.67,301.72 L234.82,303.02 L234.97,304.65 L235.12,306.52 L235.28,308.48 L235.43,310.42 L235.58,312.20 L235.74,313.73 L235.89,314.90 L236.04,315.64 L236.19,315.90 L236.34,315.70 L236.50,315.02 L236.65,313.92 L236.80,312.47 L236.95,310.76 L237.11,308.90 L237.26,307.01 L237.41,305.20 L237.56,303.60 L237.72,302.29 L237.87,301.37 L238.02,300.87 L238.18,300.83 L238.33,301.22 L238.48,302.04 L238.63,303.23 L238.78,304.73 L238.94,306.41 L239.09,308.19 L239.24,309.94 L239.39,311.55 L239.55,312.91 L239.70,313.94" fill="none" stroke="#00f400" stroke-width="0.6" stroke-linejoin="round" stroke-linecap="round"/><path d="M118.77,321.17 L118.92,321.27 L119.07,320.86 L119.23,319.91 L119.38,318.47 L119.53,316.64 L119.68,314.53 L119.84,312.28 L119.99,310.04 L120.14,307.99 L120.29,306.26 L120.45,304.99 L120.60,304.30 L120.75,304.10 L120.90,304.39 L121.06,305.41 L121.21,307.12 L121.36,309.46 L121.51,312.30 L121.67,315.46 L121.82,318.76 L121.97,321.97 L122.12,324.86 L122.28,327.23 L122.43,328.89 L122.58,329.67 L122.73,329.23 L122.89,327.82 L123.04,325.49 L123.19,322.37 L123.34,318.62 L123.50,314.47 L123.65,310.16 L123.80,305.95 L123.95,302.12 L124.11,298.92 L124.26,296.55 L124.41,295.19 L124.56,295.16 L124.72,296.41 L124.87,298.70 L125.02,301.90 L125.17,305.80 L125.33,310.15 L125.48,314.70 L125.63,319.14 L125.78,323.21 L125.94,326.63 L126.09,329.20 L126.24,330.74 L126.39,331.16 L126.55,330.38 L126.70,328.51 L126.85,325.67 L127.00,322.03 L127.16,317.83 L127.31,313.34 L127.46,308.85 L127.61,304.64 L127.77,300.98 L127.92,298.10 L128.07,296.18 L128.22,295.36 L128.38,295.62 L128.53,297.00 L128.68,299.41 L128.83,302.71 L128.99,306.68 L129.14,311.07 L129.29,315.61 L129.44,319.99 L129.59,323.95 L129.75,327.22 L129.90,329.60 L130.05,330.93 L130.21,331.06 L130.36,329.94 L130.51,327.74 L130.66,324.60 L130.81,320.72 L130.97,316.34 L131.12,311.75 L131.27,307.21 L131.43,303.02 L131.58,299.44 L131.73,296.68 L131.88,294.90 L132.03,294.20 L132.19,294.72 L132.34,296.31 L132.49,298.86 L132.65,302.17 L132.80,306.04 L132.95,310.20 L133.10,314.39 L133.25,318.33 L133.41,321.78 L133.56,324.52 L133.71,326.38 L133.87,327.26 L134.02,327.17 L134.17,326.12 L134.32,324.12 L134.47,321.32 L134.63,317.88 L134.78,314.05 L134.93,310.05 L135.09,306.16 L135.24,302.61 L135.39,299.63 L135.54,297.40 L135.69,296.07 L135.85,295.70 L136.00,296.15 L136.15,297.57 L136.31,299.87 L136.46,302.89 L136.61,306.44 L136.76,310.30 L136.91,314.22 L137.07,317.93 L137.22,321.20 L137.37,323.82 L137.53,325.59 L137.68,326.41 L137.83,326.24 L137.98,325.05 L138.13,322.91 L138.29,319.94 L138.44,316.32 L138.59,312.27 L138.75,308.05 L138.90,303.91 L139.05,300.13 L139.20,296.93 L139.36,294.54 L139.51,293.09 L139.66,292.73 L139.81,293.60 L139.97,295.48 L140.12,298.25 L140.27,301.74 L140.42,305.72 L140.57,309.94 L140.73,314.13 L140.88,318.03 L141.03,321.40 L141.19,324.02 L141.34,325.74 L141.49,326.45 L141.64,326.19 L141.80,324.93 L141.95,322.73 L142.10,319.74 L142.25,316.14 L142.41,312.18 L142.56,308.11 L142.71,304.19 L142.86,300.69 L143.01,297.82 L143.17,295.79 L143.32,294.72 L143.47,294.64 L143.62,295.54 L143.78,297.45 L143.93,300.26 L144.08,303.79 L144.24,307.83 L144.39,312.12 L144.54,316.40 L144.69,320.38 L144.84,323.83 L145.00,326.51 L145.15,328.24 L145.30,328.91 L145.46,328.35 L145.61,326.71 L145.76,324.09 L145.91,320.66 L146.06,316.63 L146.22,312.25 L146.37,307.81 L146.52,303.58 L146.68,299.82 L146.83,296.79 L146.98,294.66 L147.13,293.57 L147.28,293.68 L147.44,294.95 L147.59,297.23 L147.74,300.37 L147.90,304.18 L148.05,308.39 L148.20,312.75 L148.35,316.98 L148.50,320.81 L148.66,324.02 L148.81,326.39 L148.96,327.79 L149.12,328.15 L149.27,327.51 L149.42,325.85 L149.57,323.30 L149.72,320.02 L149.88,316.23 L150.03,312.17 L150.18,308.12 L150.34,304.33 L150.49,301.05 L150.64,298.48 L150.79,296.79 L150.94,296.09 L151.10,296.35 L151.25,297.60 L151.40,299.78 L151.56,302.78 L151.71,306.38 L151.86,310.38 L152.01,314.51 L152.16,318.52 L152.32,322.15 L152.47,325.16 L152.62,327.37 L152.78,328.64 L152.93,328.89 L153.08,328.11 L153.23,326.34 L153.38,323.69 L153.54,320.32 L153.69,316.44 L153.84,312.31 L154.00,308.19 L154.15,304.34 L154.30,301.02 L154.45,298.43 L154.61,296.75 L154.76,296.09 L154.91,296.60 L155.06,298.17 L155.22,300.67 L155.37,303.96 L155.52,307.83 L155.67,312.03 L155.82,316.30 L155.98,320.38 L156.13,324.02 L156.28,326.98 L156.44,329.10 L156.59,330.24 L156.74,330.30 L156.89,329.28 L157.05,327.31 L157.20,324.52 L157.35,321.10 L157.50,317.28 L157.66,313.30 L157.81,309.42 L157.96,305.89 L158.11,302.94 L158.26,300.74 L158.42,299.44 L158.57,299.11 L158.72,299.72 L158.88,301.27 L159.03,303.66 L159.18,306.73 L159.33,310.28 L159.49,314.09 L159.64,317.90 L159.79,321.49 L159.94,324.63 L160.09,327.12 L160.25,328.82 L160.40,329.61 L160.55,329.53 L160.71,328.55 L160.86,326.71 L161.01,324.14 L161.16,321.00 L161.31,317.50 L161.47,313.86 L161.62,310.33 L161.77,307.13 L161.93,304.47 L162.08,302.52 L162.23,301.41 L162.38,301.21 L162.53,301.92 L162.69,303.52 L162.84,305.91 L162.99,308.94 L163.15,312.42 L163.30,316.14 L163.45,319.86 L163.60,323.35 L163.75,326.40 L163.91,328.80 L164.06,330.42 L164.21,331.14 L164.37,330.92 L164.52,329.78 L164.67,327.81 L164.82,325.13 L164.97,321.92 L165.13,318.40 L165.28,314.78 L165.43,311.30 L165.59,308.19 L165.74,305.64 L165.89,303.81 L166.04,302.84 L166.19,302.77 L166.35,303.61 L166.50,305.32 L166.65,307.78 L166.81,310.84 L166.96,314.30 L167.11,317.96 L167.26,321.57 L167.41,324.91 L167.57,327.77 L167.72,329.98 L167.87,331.39 L168.03,331.93 L168.18,331.54 L168.33,330.26 L168.48,328.20 L168.63,325.48 L168.79,322.29 L168.94,318.83 L169.09,315.32 L169.25,311.99 L169.40,309.06 L169.55,306.70 L169.70,305.07 L169.86,304.27 L170.01,304.33 L170.16,305.25 L170.31,306.99 L170.47,309.43 L170.62,312.41 L170.77,315.76 L170.92,319.24 L171.07,322.65 L171.23,325.77 L171.38,328.41 L171.53,330.38 L171.69,331.58 L171.84,331.93 L171.99,331.39 L172.14,330.01 L172.30,327.89 L172.45,325.17 L172.60,322.03 L172.75,318.65 L172.91,315.27 L173.06,312.09 L173.21,309.32 L173.36,307.12 L173.51,305.65 L173.67,304.99 L173.82,305.14 L173.97,306.12 L174.12,307.88 L174.28,310.29 L174.43,313.21 L174.58,316.44 L174.74,319.78 L174.89,323.01 L175.04,325.94 L175.19,328.37 L175.34,330.14 L175.50,331.15 L175.65,331.33 L175.80,330.67 L175.95,329.21 L176.11,327.05 L176.26,324.31 L176.41,321.18 L176.56,317.85 L176.72,314.54 L176.87,311.45 L177.02,308.78 L177.18,306.70 L177.33,305.33 L177.48,304.77 L177.63,305.04 L177.78,306.12 L177.94,307.95 L178.09,310.41 L178.24,313.34 L178.40,316.56 L178.55,319.86 L178.70,323.02 L178.85,325.85 L179.00,328.16 L179.16,329.80 L179.31,330.67 L179.46,330.74 L179.62,329.98 L179.77,328.44 L179.92,326.21 L180.07,323.42 L180.22,320.25 L180.38,316.91 L180.53,313.60 L180.68,310.54 L180.84,307.92 L180.99,305.92 L181.14,304.64 L181.29,304.20 L181.44,304.67 L181.60,305.96 L181.75,308.00 L181.90,310.64 L182.06,313.73 L182.21,317.07 L182.36,320.45 L182.51,323.64 L182.67,326.47 L182.82,328.74 L182.97,330.31 L183.12,331.10 L183.28,331.03 L183.43,330.12 L183.58,328.44 L183.73,326.11 L183.88,323.28 L184.04,320.13 L184.19,316.86 L184.34,313.68 L184.50,310.80 L184.65,308.39 L184.80,306.62 L184.95,305.58 L185.11,305.34 L185.26,305.90 L185.41,307.24 L185.56,309.27 L185.72,311.86 L185.87,314.84 L186.02,318.02 L186.17,321.21 L186.32,324.19 L186.48,326.79 L186.63,328.83 L186.78,330.19 L186.94,330.78 L187.09,330.56 L187.24,329.55 L187.39,327.83 L187.55,325.50 L187.70,322.72 L187.85,319.66 L188.00,316.52 L188.16,313.50 L188.31,310.79 L188.46,308.56 L188.61,306.95 L188.76,306.06 L188.92,305.94 L189.07,306.61 L189.22,308.01 L189.38,310.04 L189.53,312.58 L189.68,315.46 L189.83,318.50 L189.99,321.50 L190.14,324.27 L190.29,326.64 L190.44,328.47 L190.59,329.62 L190.75,330.05 L190.90,329.71 L191.05,328.64 L191.20,326.91 L191.36,324.63 L191.51,321.95 L191.66,319.05 L191.81,316.11 L191.97,313.31 L192.12,310.84 L192.27,308.84 L192.43,307.44 L192.58,306.73 L192.73,306.75 L192.88,307.50 L193.03,308.91 L193.19,310.90 L193.34,313.33 L193.49,316.05 L193.64,318.88 L193.80,321.64 L193.95,324.16 L194.10,326.28 L194.25,327.87 L194.41,328.83 L194.56,329.10 L194.71,328.67 L194.87,327.56 L195.02,325.87 L195.17,323.70 L195.32,321.19 L195.47,318.50 L195.63,315.80 L195.78,313.28 L195.93,311.07 L196.09,309.33 L196.24,308.16 L196.39,307.62 L196.54,307.73 L196.69,308.48 L196.85,309.83 L197.00,311.69 L197.15,313.95 L197.31,316.45 L197.46,319.03 L197.61,321.54 L197.76,323.79 L197.92,325.67 L198.07,327.03 L198.22,327.81 L198.37,327.95 L198.53,327.43 L198.68,326.30 L198.83,324.63 L198.98,322.53 L199.13,320.13 L199.29,317.59 L199.44,315.06 L199.59,312.71 L199.75,310.68 L199.90,309.09 L200.05,308.05 L200.20,307.61 L200.36,307.67 L200.51,308.32 L200.66,309.55 L200.81,311.29 L200.97,313.41 L201.12,315.78 L201.27,318.25 L201.42,320.64 L201.57,322.81 L201.73,324.59 L201.88,325.87 L202.03,326.56 L202.19,326.59 L202.34,325.97 L202.49,324.70 L202.64,322.86 L202.80,320.54 L202.95,317.89 L203.10,315.06 L203.25,312.22 L203.41,309.56 L203.56,307.25 L203.71,305.41 L203.86,304.18 L204.01,303.64 L204.17,303.96 L204.32,304.99 L204.47,306.65 L204.62,308.82 L204.78,311.38 L204.93,314.15 L205.08,316.96 L205.24,319.63 L205.39,321.98 L205.54,323.88 L205.69,325.19 L205.84,325.84 L206.00,325.77 L206.15,325.00 L206.30,323.57 L206.45,321.59 L206.61,319.18 L206.76,316.49 L206.91,313.70 L207.06,310.97 L207.22,308.49 L207.37,306.40 L207.52,304.84 L207.68,303.90 L207.83,303.64 L207.98,304.09 L208.13,305.19 L208.28,306.88 L208.44,309.03 L208.59,311.52 L208.74,314.17 L208.89,316.82 L209.05,319.30 L209.20,321.45 L209.35,323.14 L209.50,324.26 L209.66,324.75 L209.81,324.56 L209.96,323.72 L210.12,322.29 L210.27,320.36 L210.42,318.06 L210.57,315.54 L210.72,312.96 L210.88,310.47 L211.03,308.25 L211.18,306.41 L211.33,305.09 L211.49,304.34 L211.64,304.21 L211.79,304.65 L211.94,305.69 L212.10,307.26 L212.25,309.24 L212.40,311.52 L212.56,313.94 L212.71,316.35 L212.86,318.58 L213.01,320.50 L213.17,321.98 L213.32,322.92 L213.47,323.26 L213.62,322.98 L213.78,322.09 L213.93,320.65 L214.08,318.74 L214.23,316.48 L214.38,314.02 L214.54,311.50 L214.69,309.09 L214.84,306.93 L215.00,305.16 L215.15,303.89 L215.30,303.19 L215.45,303.13 L215.61,303.73 L215.76,304.90 L215.91,306.57 L216.06,308.61 L216.22,310.90 L216.37,313.29 L216.52,315.62 L216.67,317.75 L216.82,319.54 L216.98,320.89 L217.13,321.70 L217.28,321.93 L217.44,321.58 L217.59,320.66 L217.74,319.24 L217.89,317.41 L218.05,315.29 L218.20,313.01 L218.35,310.72 L218.50,308.56 L218.66,306.68 L218.81,305.17 L218.96,304.15 L219.11,303.67 L219.26,303.72 L219.42,304.32 L219.57,305.43 L219.72,306.98 L219.88,308.87 L220.03,310.98 L220.18,313.16 L220.33,315.28 L220.49,317.20 L220.64,318.80 L220.79,319.98 L220.94,320.65 L221.09,320.78 L221.25,320.34 L221.40,319.37 L221.55,317.95 L221.70,316.16 L221.86,314.11 L222.01,311.93 L222.16,309.76 L222.31,307.74 L222.47,305.98 L222.62,304.60 L222.77,303.68 L222.93,303.27 L223.08,303.38 L223.23,304.01 L223.38,305.11 L223.53,306.61 L223.69,308.41 L223.84,310.38 L223.99,312.41 L224.14,314.35 L224.30,316.09 L224.45,317.51 L224.60,318.51 L224.75,319.04 L224.91,319.06 L225.06,318.60 L225.21,317.65 L225.37,316.27 L225.52,314.55 L225.67,312.60 L225.82,310.53 L225.97,308.48 L226.13,306.57 L226.28,304.93 L226.43,303.66 L226.58,302.83 L226.74,302.50 L226.89,302.69 L227.04,303.38 L227.19,304.52 L227.35,306.05 L227.50,307.86 L227.65,309.84 L227.81,311.85 L227.96,313.77 L228.11,315.48 L228.26,316.86 L228.42,317.82 L228.57,318.30 L228.72,318.27 L228.87,317.73 L229.03,316.70 L229.18,315.26 L229.33,313.50 L229.48,311.52 L229.63,309.44 L229.79,307.41 L229.94,305.53 L230.09,303.95 L230.25,302.74 L230.40,301.99 L230.55,301.74 L230.70,301.99 L230.86,302.73 L231.01,303.93 L231.16,305.50 L231.31,307.34 L231.47,309.33 L231.62,311.35 L231.77,313.26 L231.92,314.93 L232.07,316.27 L232.23,317.17 L232.38,317.57 L232.53,317.43 L232.69,316.76 L232.84,315.62 L232.99,314.06 L233.14,312.20 L233.30,310.13 L233.45,308.00 L233.60,305.93 L233.75,304.06 L233.91,302.48 L234.06,301.31 L234.21,300.61 L234.36,300.44 L234.51,300.84 L234.67,301.72 L234.82,303.02 L234.97,304.65 L235.12,306.52 L235.28,308.48 L235.43,310.42 L235.58,312.20 L235.74,313.73 L235.89,314.90 L236.04,315.64 L236.19,315.90 L236.34,315.70 L236.50,315.02 L236.65,313.92 L236.80,312.47 L236.95,310.76 L237.11,308.90 L237.26,307.01 L237.41,305.20 L237.56,303.60 L237.72,302.29 L237.87,301.37 L238.02,300.87 L238.18,300.83 L238.33,301.22 L238.48,302.04 L238.63,303.23 L238.78,304.73 L238.94,306.41 L239.09,308.19 L239.24,309.94 L239.39,311.55 L239.55,312.91 L239.70,313.94" fill="none" stroke="#00f400" stroke-width="0.6" stroke-linejoin="round" stroke-linecap="round"/>
<path d="M118.77,353.42 L118.92,353.16 L119.07,352.72 L119.23,352.13 L119.38,351.41 L119.53,350.60 L119.68,349.74 L119.84,348.87 L119.99,348.06 L120.14,347.33 L120.29,346.74 L120.45,346.32 L120.60,346.11 L120.75,345.98 L120.90,345.98 L121.06,346.23 L121.21,346.74 L121.36,347.49 L121.51,348.46 L121.67,349.60 L121.82,350.85 L121.97,352.14 L122.12,353.41 L122.28,354.58 L122.43,355.57 L122.58,356.32 L122.73,356.76 L122.89,356.90 L123.04,356.69 L123.19,356.09 L123.34,355.11 L123.50,353.77 L123.65,352.14 L123.80,350.28 L123.95,348.28 L124.11,346.23 L124.26,344.26 L124.41,342.45 L124.56,340.92 L124.72,339.77 L124.87,339.06 L125.02,339.06 L125.17,339.71 L125.33,340.87 L125.48,342.48 L125.63,344.47 L125.78,346.76 L125.94,349.24 L126.09,351.79 L126.24,354.28 L126.39,356.61 L126.55,358.66 L126.70,360.33 L126.85,361.53 L127.00,362.20 L127.16,362.19 L127.31,361.54 L127.46,360.38 L127.61,358.77 L127.77,356.81 L127.92,354.58 L128.07,352.22 L128.22,349.84 L128.38,347.56 L128.53,345.50 L128.68,343.75 L128.83,342.41 L128.99,341.54 L129.14,341.18 L129.29,341.19 L129.44,341.65 L129.59,342.60 L129.75,344.01 L129.90,345.80 L130.05,347.89 L130.21,350.16 L130.36,352.51 L130.51,354.79 L130.66,356.90 L130.81,358.72 L130.97,360.16 L131.12,361.11 L131.27,361.54 L131.43,361.44 L131.58,360.79 L131.73,359.59 L131.88,357.89 L132.03,355.76 L132.19,353.31 L132.34,350.64 L132.49,347.90 L132.65,345.21 L132.80,342.72 L132.95,340.53 L133.10,338.78 L133.25,337.55 L133.41,336.91 L133.56,337.06 L133.71,337.89 L133.87,339.31 L134.02,341.23 L134.17,343.56 L134.32,346.20 L134.47,348.99 L134.63,351.82 L134.78,354.53 L134.93,356.99 L135.09,359.09 L135.24,360.72 L135.39,361.80 L135.54,362.29 L135.69,362.06 L135.85,361.20 L136.00,359.80 L136.15,357.93 L136.31,355.69 L136.46,353.21 L136.61,350.60 L136.76,348.00 L136.91,345.53 L137.07,343.33 L137.22,341.50 L137.37,340.11 L137.53,339.24 L137.68,338.91 L137.83,339.07 L137.98,339.75 L138.13,340.92 L138.29,342.53 L138.44,344.47 L138.59,346.65 L138.75,348.96 L138.90,351.27 L139.05,353.46 L139.20,355.43 L139.36,357.07 L139.51,358.30 L139.66,359.06 L139.81,359.31 L139.97,359.10 L140.12,358.41 L140.27,357.24 L140.42,355.65 L140.57,353.73 L140.73,351.57 L140.88,349.28 L141.03,346.97 L141.19,344.75 L141.34,342.75 L141.49,341.05 L141.64,339.75 L141.80,338.90 L141.95,338.55 L142.10,338.75 L142.25,339.46 L142.41,340.63 L142.56,342.20 L142.71,344.09 L142.86,346.20 L143.01,348.43 L143.17,350.66 L143.32,352.78 L143.47,354.69 L143.62,356.28 L143.78,357.49 L143.93,358.26 L144.08,358.54 L144.24,358.33 L144.39,357.64 L144.54,356.51 L144.69,355.00 L144.84,353.18 L145.00,351.16 L145.15,349.04 L145.30,346.91 L145.46,344.89 L145.61,343.08 L145.76,341.58 L145.91,340.44 L146.06,339.73 L146.22,339.48 L146.37,339.61 L146.52,340.18 L146.68,341.19 L146.83,342.58 L146.98,344.28 L147.13,346.21 L147.28,348.26 L147.44,350.33 L147.59,352.31 L147.74,354.09 L147.90,355.60 L148.05,356.74 L148.20,357.45 L148.35,357.69 L148.50,357.51 L148.66,356.85 L148.81,355.74 L148.96,354.22 L149.12,352.37 L149.27,350.27 L149.42,348.04 L149.57,345.78 L149.72,343.60 L149.88,341.61 L150.03,339.92 L150.18,338.62 L150.34,337.77 L150.49,337.41 L150.64,337.71 L150.79,338.53 L150.94,339.81 L151.10,341.49 L151.25,343.49 L151.40,345.71 L151.56,348.05 L151.71,350.37 L151.86,352.58 L152.01,354.56 L152.16,356.21 L152.32,357.46 L152.47,358.25 L152.62,358.54 L152.78,358.37 L152.93,357.71 L153.08,356.58 L153.23,355.06 L153.38,353.21 L153.54,351.14 L153.69,348.95 L153.84,346.77 L154.00,344.69 L154.15,342.83 L154.30,341.29 L154.45,340.15 L154.61,339.47 L154.76,339.30 L154.91,339.68 L155.06,340.57 L155.22,341.91 L155.37,343.64 L155.52,345.68 L155.67,347.93 L155.82,350.27 L155.98,352.61 L156.13,354.82 L156.28,356.80 L156.44,358.45 L156.59,359.71 L156.74,360.50 L156.89,360.81 L157.05,360.62 L157.20,359.94 L157.35,358.83 L157.50,357.33 L157.66,355.54 L157.81,353.55 L157.96,351.47 L158.11,349.40 L158.26,347.46 L158.42,345.75 L158.57,344.35 L158.72,343.34 L158.88,342.78 L159.03,342.70 L159.18,343.03 L159.33,343.84 L159.49,345.08 L159.64,346.71 L159.79,348.63 L159.94,350.76 L160.09,353.00 L160.25,355.23 L160.40,357.35 L160.55,359.25 L160.71,360.84 L160.86,362.05 L161.01,362.80 L161.16,363.05 L161.31,362.62 L161.47,361.72 L161.62,360.42 L161.77,358.77 L161.93,356.87 L162.08,354.82 L162.23,352.71 L162.38,350.67 L162.53,348.77 L162.69,347.12 L162.84,345.80 L162.99,344.85 L163.15,344.31 L163.30,344.20 L163.45,344.40 L163.60,345.01 L163.75,345.99 L163.91,347.29 L164.06,348.82 L164.21,350.51 L164.37,352.26 L164.52,353.98 L164.67,355.58 L164.82,356.97 L164.97,358.09 L165.13,358.87 L165.28,359.27 L165.43,359.30 L165.59,359.05 L165.74,358.41 L165.89,357.39 L166.04,356.05 L166.19,354.45 L166.35,352.67 L166.50,350.78 L166.65,348.90 L166.81,347.10 L166.96,345.49 L167.11,344.14 L167.26,343.13 L167.41,342.51 L167.57,342.33 L167.72,342.66 L167.87,343.41 L168.03,344.55 L168.18,346.02 L168.33,347.74 L168.48,349.64 L168.63,351.61 L168.79,353.56 L168.94,355.39 L169.09,357.01 L169.25,358.35 L169.40,359.33 L169.55,359.90 L169.70,360.05 L169.86,359.75 L170.01,359.04 L170.16,357.95 L170.31,356.53 L170.47,354.85 L170.62,353.01 L170.77,351.09 L170.92,349.20 L171.07,347.42 L171.23,345.86 L171.38,344.59 L171.53,343.68 L171.69,343.17 L171.84,343.09 L171.99,343.44 L172.14,344.21 L172.30,345.37 L172.45,346.85 L172.60,348.58 L172.75,350.48 L172.91,352.46 L173.06,354.41 L173.21,356.23 L173.36,357.84 L173.51,359.16 L173.67,360.12 L173.82,360.68 L173.97,360.80 L174.12,360.48 L174.28,359.75 L174.43,358.63 L174.58,357.18 L174.74,355.48 L174.89,353.61 L175.04,351.67 L175.19,349.76 L175.34,347.97 L175.50,346.40 L175.65,345.13 L175.80,344.22 L175.95,343.72 L176.11,343.66 L176.26,344.05 L176.41,344.86 L176.56,346.05 L176.72,347.58 L176.87,349.36 L177.02,351.31 L177.18,353.32 L177.33,355.31 L177.48,357.16 L177.63,358.80 L177.78,360.13 L177.94,361.09 L178.09,361.63 L178.24,361.71 L178.40,361.30 L178.55,360.46 L178.70,359.25 L178.85,357.72 L179.00,355.95 L179.16,354.04 L179.31,352.07 L179.46,350.15 L179.62,348.38 L179.77,346.83 L179.92,345.60 L180.07,344.73 L180.22,344.27 L180.38,344.25 L180.53,344.66 L180.68,345.48 L180.84,346.65 L180.99,348.12 L181.14,349.81 L181.29,351.63 L181.44,353.50 L181.60,355.31 L181.75,356.97 L181.90,358.41 L182.06,359.56 L182.21,360.35 L182.36,360.76 L182.51,360.78 L182.67,360.44 L182.82,359.71 L182.97,358.64 L183.12,357.28 L183.28,355.71 L183.43,354.01 L183.58,352.25 L183.73,350.54 L183.88,348.96 L184.04,347.59 L184.19,346.50 L184.34,345.75 L184.50,345.37 L184.65,345.39 L184.80,345.79 L184.95,346.57 L185.11,347.68 L185.26,349.08 L185.41,350.69 L185.56,352.43 L185.72,354.21 L185.87,355.95 L186.02,357.56 L186.17,358.97 L186.32,360.09 L186.48,360.88 L186.63,361.31 L186.78,361.31 L186.94,360.88 L187.09,360.10 L187.24,359.00 L187.39,357.63 L187.55,356.08 L187.70,354.41 L187.85,352.72 L188.00,351.09 L188.16,349.60 L188.31,348.32 L188.46,347.32 L188.61,346.64 L188.76,346.31 L188.92,346.29 L189.07,346.60 L189.22,347.25 L189.38,348.21 L189.53,349.43 L189.68,350.84 L189.83,352.38 L189.99,353.95 L190.14,355.48 L190.29,356.90 L190.44,358.12 L190.59,359.08 L190.75,359.73 L190.90,360.03 L191.05,359.98 L191.20,359.57 L191.36,358.82 L191.51,357.75 L191.66,356.42 L191.81,354.90 L191.97,353.25 L192.12,351.56 L192.27,349.91 L192.43,348.38 L192.58,347.05 L192.73,345.98 L192.88,345.23 L193.03,344.83 L193.19,344.84 L193.34,345.25 L193.49,346.00 L193.64,347.06 L193.80,348.36 L193.95,349.85 L194.10,351.44 L194.25,353.05 L194.41,354.60 L194.56,356.02 L194.71,357.23 L194.87,358.17 L195.02,358.80 L195.17,359.09 L195.32,359.04 L195.47,358.64 L195.63,357.92 L195.78,356.91 L195.93,355.66 L196.09,354.24 L196.24,352.71 L196.39,351.17 L196.54,349.68 L196.69,348.31 L196.85,347.15 L197.00,346.24 L197.15,345.63 L197.31,345.35 L197.46,345.43 L197.61,345.85 L197.76,346.59 L197.92,347.60 L198.07,348.83 L198.22,350.22 L198.37,351.70 L198.53,353.19 L198.68,354.62 L198.83,355.92 L198.98,357.02 L199.13,357.88 L199.29,358.46 L199.44,358.72 L199.59,358.67 L199.75,358.32 L199.90,357.68 L200.05,356.77 L200.20,355.66 L200.36,354.39 L200.51,353.03 L200.66,351.66 L200.81,350.35 L200.97,349.15 L201.12,348.14 L201.27,347.37 L201.42,346.86 L201.57,346.65 L201.73,346.73 L201.88,347.09 L202.03,347.74 L202.19,348.64 L202.34,349.76 L202.49,351.04 L202.64,352.41 L202.80,353.80 L202.95,355.15 L203.10,356.38 L203.25,357.44 L203.41,358.27 L203.56,358.83 L203.71,359.09 L203.86,359.01 L204.01,358.61 L204.17,357.92 L204.32,356.98 L204.47,355.83 L204.62,354.54 L204.78,353.17 L204.93,351.78 L205.08,350.45 L205.24,349.24 L205.39,348.22 L205.54,347.42 L205.69,346.90 L205.84,346.66 L206.00,346.73 L206.15,347.09 L206.30,347.72 L206.45,348.61 L206.61,349.69 L206.76,350.92 L206.91,352.23 L207.06,353.55 L207.22,354.81 L207.37,355.96 L207.52,356.93 L207.68,357.68 L207.83,358.16 L207.98,358.35 L208.13,358.24 L208.28,357.84 L208.44,357.16 L208.59,356.24 L208.74,355.13 L208.89,353.87 L209.05,352.55 L209.20,351.21 L209.35,349.92 L209.50,348.76 L209.66,347.77 L209.81,347.01 L209.96,346.50 L210.12,346.28 L210.27,346.36 L210.42,346.72 L210.57,347.35 L210.72,348.21 L210.88,349.27 L211.03,350.45 L211.18,351.71 L211.33,352.98 L211.49,354.19 L211.64,355.29 L211.79,356.20 L211.94,356.90 L212.10,357.34 L212.25,357.51 L212.40,357.38 L212.56,356.97 L212.71,356.31 L212.86,355.41 L213.01,354.33 L213.17,353.12 L213.32,351.84 L213.47,350.56 L213.62,349.33 L213.78,348.22 L213.93,347.28 L214.08,346.56 L214.23,346.10 L214.38,345.90 L214.54,345.97 L214.69,346.32 L214.84,346.92 L215.00,347.75 L215.15,348.76 L215.30,349.90 L215.45,351.11 L215.61,352.33 L215.76,353.50 L215.91,354.55 L216.06,355.43 L216.22,356.10 L216.37,356.51 L216.52,356.66 L216.67,356.53 L216.82,356.13 L216.98,355.47 L217.13,354.57 L217.28,353.50 L217.44,352.28 L217.59,351.00 L217.74,349.70 L217.89,348.46 L218.05,347.33 L218.20,346.38 L218.35,345.64 L218.50,345.16 L218.66,344.96 L218.81,345.12 L218.96,345.57 L219.11,346.27 L219.26,347.19 L219.42,348.28 L219.57,349.49 L219.72,350.75 L219.88,352.00 L220.03,353.17 L220.18,354.22 L220.33,355.09 L220.49,355.74 L220.64,356.14 L220.79,356.28 L220.94,356.14 L221.09,355.75 L221.25,355.12 L221.40,354.29 L221.55,353.31 L221.70,352.22 L221.86,351.09 L222.01,349.97 L222.16,348.93 L222.31,348.00 L222.47,347.24 L222.62,346.68 L222.77,346.36 L222.93,346.28 L223.08,346.38 L223.23,346.73 L223.38,347.29 L223.53,348.05 L223.69,348.96 L223.84,349.98 L223.99,351.05 L224.14,352.12 L224.30,353.13 L224.45,354.04 L224.60,354.80 L224.75,355.36 L224.91,355.70 L225.06,355.81 L225.21,355.65 L225.37,355.26 L225.52,354.65 L225.67,353.85 L225.82,352.91 L225.97,351.86 L226.13,350.77 L226.28,349.68 L226.43,348.65 L226.58,347.72 L226.74,346.96 L226.89,346.38 L227.04,346.02 L227.19,345.90 L227.35,346.03 L227.50,346.39 L227.65,346.95 L227.81,347.70 L227.96,348.59 L228.11,349.57 L228.26,350.59 L228.42,351.60 L228.57,352.56 L228.72,353.40 L228.87,354.09 L229.03,354.59 L229.18,354.89 L229.33,354.96 L229.48,354.82 L229.63,354.45 L229.79,353.89 L229.94,353.16 L230.09,352.28 L230.25,351.32 L230.40,350.31 L230.55,349.30 L230.70,348.36 L230.86,347.51 L231.01,346.82 L231.16,346.30 L231.31,345.99 L231.47,345.89 L231.62,345.97 L231.77,346.27 L231.92,346.77 L232.07,347.46 L232.23,348.29 L232.38,349.23 L232.53,350.23 L232.69,351.23 L232.84,352.18 L232.99,353.04 L233.14,353.75 L233.30,354.28 L233.45,354.59 L233.60,354.66 L233.75,354.46 L233.91,354.02 L234.06,353.37 L234.21,352.53 L234.36,351.54 L234.51,350.45 L234.67,349.31 L234.82,348.17 L234.97,347.10 L235.12,346.14 L235.28,345.33 L235.43,344.72 L235.58,344.34 L235.74,344.20 L235.89,344.36 L236.04,344.75 L236.19,345.34 L236.34,346.12 L236.50,347.03 L236.65,348.03 L236.80,349.06 L236.95,350.08 L237.11,351.02 L237.26,351.84 L237.41,352.51 L237.56,352.97 L237.72,353.22 L237.87,353.25 L238.02,353.06 L238.18,352.66 L238.33,352.05 L238.48,351.28 L238.63,350.37 L238.78,349.38 L238.94,348.35 L239.09,347.34 L239.24,346.39 L239.39,345.56 L239.55,344.87 L239.70,344.38" fill="none" stroke="#ffa500" stroke-width="0.6" stroke-linejoin="round" stroke-linecap="round"/><path d="M118.77,353.42 L118.92,353.16 L119.07,352.72 L119.23,352.13 L119.38,351.41 L119.53,350.60 L119.68,349.74 L119.84,348.87 L119.99,348.06 L120.14,347.33 L120.29,346.74 L120.45,346.32 L120.60,346.11 L120.75,345.98 L120.90,345.98 L121.06,346.23 L121.21,346.74 L121.36,347.49 L121.51,348.46 L121.67,349.60 L121.82,350.85 L121.97,352.14 L122.12,353.41 L122.28,354.58 L122.43,355.57 L122.58,356.32 L122.73,356.76 L122.89,356.90 L123.04,356.69 L123.19,356.09 L123.34,355.11 L123.50,353.77 L123.65,352.14 L123.80,350.28 L123.95,348.28 L124.11,346.23 L124.26,344.26 L124.41,342.45 L124.56,340.92 L124.72,339.77 L124.87,339.06 L125.02,339.06 L125.17,339.71 L125.33,340.87 L125.48,342.48 L125.63,344.47 L125.78,346.76 L125.94,349.24 L126.09,351.79 L126.24,354.28 L126.39,356.61 L126.55,358.66 L126.70,360.33 L126.85,361.53 L127.00,362.20 L127.16,362.19 L127.31,361.54 L127.46,360.38 L127.61,358.77 L127.77,356.81 L127.92,354.58 L128.07,352.22 L128.22,349.84 L128.38,347.56 L128.53,345.50 L128.68,343.75 L128.83,342.41 L128.99,341.54 L129.14,341.18 L129.29,341.19 L129.44,341.65 L129.59,342.60 L129.75,344.01 L129.90,345.80 L130.05,347.89 L130.21,350.16 L130.36,352.51 L130.51,354.79 L130.66,356.90 L130.81,358.72 L130.97,360.16 L131.12,361.11 L131.27,361.54 L131.43,361.44 L131.58,360.79 L131.73,359.59 L131.88,357.89 L132.03,355.76 L132.19,353.31 L132.34,350.64 L132.49,347.90 L132.65,345.21 L132.80,342.72 L132.95,340.53 L133.10,338.78 L133.25,337.55 L133.41,336.91 L133.56,337.06 L133.71,337.89 L133.87,339.31 L134.02,341.23 L134.17,343.56 L134.32,346.20 L134.47,348.99 L134.63,351.82 L134.78,354.53 L134.93,356.99 L135.09,359.09 L135.24,360.72 L135.39,361.80 L135.54,362.29 L135.69,362.06 L135.85,361.20 L136.00,359.80 L136.15,357.93 L136.31,355.69 L136.46,353.21 L136.61,350.60 L136.76,348.00 L136.91,345.53 L137.07,343.33 L137.22,341.50 L137.37,340.11 L137.53,339.24 L137.68,338.91 L137.83,339.07 L137.98,339.75 L138.13,340.92 L138.29,342.53 L138.44,344.47 L138.59,346.65 L138.75,348.96 L138.90,351.27 L139.05,353.46 L139.20,355.43 L139.36,357.07 L139.51,358.30 L139.66,359.06 L139.81,359.31 L139.97,359.10 L140.12,358.41 L140.27,357.24 L140.42,355.65 L140.57,353.73 L140.73,351.57 L140.88,349.28 L141.03,346.97 L141.19,344.75 L141.34,342.75 L141.49,341.05 L141.64,339.75 L141.80,338.90 L141.95,338.55 L142.10,338.75 L142.25,339.46 L142.41,340.63 L142.56,342.20 L142.71,344.09 L142.86,346.20 L143.01,348.43 L143.17,350.66 L143.32,352.78 L143.47,354.69 L143.62,356.28 L143.78,357.49 L143.93,358.26 L144.08,358.54 L144.24,358.33 L144.39,357.64 L144.54,356.51 L144.69,355.00 L144.84,353.18 L145.00,351.16 L145.15,349.04 L145.30,346.91 L145.46,344.89 L145.61,343.08 L145.76,341.58 L145.91,340.44 L146.06,339.73 L146.22,339.48 L146.37,339.61 L146.52,340.18 L146.68,341.19 L146.83,342.58 L146.98,344.28 L147.13,346.21 L147.28,348.26 L147.44,350.33 L147.59,352.31 L147.74,354.09 L147.90,355.60 L148.05,356.74 L148.20,357.45 L148.35,357.69 L148.50,357.51 L148.66,356.85 L148.81,355.74 L148.96,354.22 L149.12,352.37 L149.27,350.27 L149.42,348.04 L149.57,345.78 L149.72,343.60 L149.88,341.61 L150.03,339.92 L150.18,338.62 L150.34,337.77 L150.49,337.41 L150.64,337.71 L150.79,338.53 L150.94,339.81 L151.10,341.49 L151.25,343.49 L151.40,345.71 L151.56,348.05 L151.71,350.37 L151.86,352.58 L152.01,354.56 L152.16,356.21 L152.32,357.46 L152.47,358.25 L152.62,358.54 L152.78,358.37 L152.93,357.71 L153.08,356.58 L153.23,355.06 L153.38,353.21 L153.54,351.14 L153.69,348.95 L153.84,346.77 L154.00,344.69 L154.15,342.83 L154.30,341.29 L154.45,340.15 L154.61,339.47 L154.76,339.30 L154.91,339.68 L155.06,340.57 L155.22,341.91 L155.37,343.64 L155.52,345.68 L155.67,347.93 L155.82,350.27 L155.98,352.61 L156.13,354.82 L156.28,356.80 L156.44,358.45 L156.59,359.71 L156.74,360.50 L156.89,360.81 L157.05,360.62 L157.20,359.94 L157.35,358.83 L157.50,357.33 L157.66,355.54 L157.81,353.55 L157.96,351.47 L158.11,349.40 L158.26,347.46 L158.42,345.75 L158.57,344.35 L158.72,343.34 L158.88,342.78 L159.03,342.70 L159.18,343.03 L159.33,343.84 L159.49,345.08 L159.64,346.71 L159.79,348.63 L159.94,350.76 L160.09,353.00 L160.25,355.23 L160.40,357.35 L160.55,359.25 L160.71,360.84 L160.86,362.05 L161.01,362.80 L161.16,363.05 L161.31,362.62 L161.47,361.72 L161.62,360.42 L161.77,358.77 L161.93,356.87 L162.08,354.82 L162.23,352.71 L162.38,350.67 L162.53,348.77 L162.69,347.12 L162.84,345.80 L162.99,344.85 L163.15,344.31 L163.30,344.20 L163.45,344.40 L163.60,345.01 L163.75,345.99 L163.91,347.29 L164.06,348.82 L164.21,350.51 L164.37,352.26 L164.52,353.98 L164.67,355.58 L164.82,356.97 L164.97,358.09 L165.13,358.87 L165.28,359.27 L165.43,359.30 L165.59,359.05 L165.74,358.41 L165.89,357.39 L166.04,356.05 L166.19,354.45 L166.35,352.67 L166.50,350.78 L166.65,348.90 L166.81,347.10 L166.96,345.49 L167.11,344.14 L167.26,343.13 L167.41,342.51 L167.57,342.33 L167.72,342.66 L167.87,343.41 L168.03,344.55 L168.18,346.02 L168.33,347.74 L168.48,349.64 L168.63,351.61 L168.79,353.56 L168.94,355.39 L169.09,357.01 L169.25,358.35 L169.40,359.33 L169.55,359.90 L169.70,360.05 L169.86,359.75 L170.01,359.04 L170.16,357.95 L170.31,356.53 L170.47,354.85 L170.62,353.01 L170.77,351.09 L170.92,349.20 L171.07,347.42 L171.23,345.86 L171.38,344.59 L171.53,343.68 L171.69,343.17 L171.84,343.09 L171.99,343.44 L172.14,344.21 L172.30,345.37 L172.45,346.85 L172.60,348.58 L172.75,350.48 L172.91,352.46 L173.06,354.41 L173.21,356.23 L173.36,357.84 L173.51,359.16 L173.67,360.12 L173.82,360.68 L173.97,360.80 L174.12,360.48 L174.28,359.75 L174.43,358.63 L174.58,357.18 L174.74,355.48 L174.89,353.61 L175.04,351.67 L175.19,349.76 L175.34,347.97 L175.50,346.40 L175.65,345.13 L175.80,344.22 L175.95,343.72 L176.11,343.66 L176.26,344.05 L176.41,344.86 L176.56,346.05 L176.72,347.58 L176.87,349.36 L177.02,351.31 L177.18,353.32 L177.33,355.31 L177.48,357.16 L177.63,358.80 L177.78,360.13 L177.94,361.09 L178.09,361.63 L178.24,361.71 L178.40,361.30 L178.55,360.46 L178.70,359.25 L178.85,357.72 L179.00,355.95 L179.16,354.04 L179.31,352.07 L179.46,350.15 L179.62,348.38 L179.77,346.83 L179.92,345.60 L180.07,344.73 L180.22,344.27 L180.38,344.25 L180.53,344.66 L180.68,345.48 L180.84,346.65 L180.99,348.12 L181.14,349.81 L181.29,351.63 L181.44,353.50 L181.60,355.31 L181.75,356.97 L181.90,358.41 L182.06,359.56 L182.21,360.35 L182.36,360.76 L182.51,360.78 L182.67,360.44 L182.82,359.71 L182.97,358.64 L183.12,357.28 L183.28,355.71 L183.43,354.01 L183.58,352.25 L183.73,350.54 L183.88,348.96 L184.04,347.59 L184.19,346.50 L184.34,345.75 L184.50,345.37 L184.65,345.39 L184.80,345.79 L184.95,346.57 L185.11,347.68 L185.26,349.08 L185.41,350.69 L185.56,352.43 L185.72,354.21 L185.87,355.95 L186.02,357.56 L186.17,358.97 L186.32,360.09 L186.48,360.88 L186.63,361.31 L186.78,361.31 L186.94,360.88 L187.09,360.10 L187.24,359.00 L187.39,357.63 L187.55,356.08 L187.70,354.41 L187.85,352.72 L188.00,351.09 L188.16,349.60 L188.31,348.32 L188.46,347.32 L188.61,346.64 L188.76,346.31 L188.92,346.29 L189.07,346.60 L189.22,347.25 L189.38,348.21 L189.53,349.43 L189.68,350.84 L189.83,352.38 L189.99,353.95 L190.14,355.48 L190.29,356.90 L190.44,358.12 L190.59,359.08 L190.75,359.73 L190.90,360.03 L191.05,359.98 L191.20,359.57 L191.36,358.82 L191.51,357.75 L191.66,356.42 L191.81,354.90 L191.97,353.25 L192.12,351.56 L192.27,349.91 L192.43,348.38 L192.58,347.05 L192.73,345.98 L192.88,345.23 L193.03,344.83 L193.19,344.84 L193.34,345.25 L193.49,346.00 L193.64,347.06 L193.80,348.36 L193.95,349.85 L194.10,351.44 L194.25,353.05 L194.41,354.60 L194.56,356.02 L194.71,357.23 L194.87,358.17 L195.02,358.80 L195.17,359.09 L195.32,359.04 L195.47,358.64 L195.63,357.92 L195.78,356.91 L195.93,355.66 L196.09,354.24 L196.24,352.71 L196.39,351.17 L196.54,349.68 L196.69,348.31 L196.85,347.15 L197.00,346.24 L197.15,345.63 L197.31,345.35 L197.46,345.43 L197.61,345.85 L197.76,346.59 L197.92,347.60 L198.07,348.83 L198.22,350.22 L198.37,351.70 L198.53,353.19 L198.68,354.62 L198.83,355.92 L198.98,357.02 L199.13,357.88 L199.29,358.46 L199.44,358.72 L199.59,358.67 L199.75,358.32 L199.90,357.68 L200.05,356.77 L200.20,355.66 L200.36,354.39 L200.51,353.03 L200.66,351.66 L200.81,350.35 L200.97,349.15 L201.12,348.14 L201.27,347.37 L201.42,346.86 L201.57,346.65 L201.73,346.73 L201.88,347.09 L202.03,347.74 L202.19,348.64 L202.34,349.76 L202.49,351.04 L202.64,352.41 L202.80,353.80 L202.95,355.15 L203.10,356.38 L203.25,357.44 L203.41,358.27 L203.56,358.83 L203.71,359.09 L203.86,359.01 L204.01,358.61 L204.17,357.92 L204.32,356.98 L204.47,355.83 L204.62,354.54 L204.78,353.17 L204.93,351.78 L205.08,350.45 L205.24,349.24 L205.39,348.22 L205.54,347.42 L205.69,346.90 L205.84,346.66 L206.00,346.73 L206.15,347.09 L206.30,347.72 L206.45,348.61 L206.61,349.69 L206.76,350.92 L206.91,352.23 L207.06,353.55 L207.22,354.81 L207.37,355.96 L207.52,356.93 L207.68,357.68 L207.83,358.16 L207.98,358.35 L208.13,358.24 L208.28,357.84 L208.44,357.16 L208.59,356.24 L208.74,355.13 L208.89,353.87 L209.05,352.55 L209.20,351.21 L209.35,349.92 L209.50,348.76 L209.66,347.77 L209.81,347.01 L209.96,346.50 L210.12,346.28 L210.27,346.36 L210.42,346.72 L210.57,347.35 L210.72,348.21 L210.88,349.27 L211.03,350.45 L211.18,351.71 L211.33,352.98 L211.49,354.19 L211.64,355.29 L211.79,356.20 L211.94,356.90 L212.10,357.34 L212.25,357.51 L212.40,357.38 L212.56,356.97 L212.71,356.31 L212.86,355.41 L213.01,354.33 L213.17,353.12 L213.32,351.84 L213.47,350.56 L213.62,349.33 L213.78,348.22 L213.93,347.28 L214.08,346.56 L214.23,346.10 L214.38,345.90 L214.54,345.97 L214.69,346.32 L214.84,346.92 L215.00,347.75 L215.15,348.76 L215.30,349.90 L215.45,351.11 L215.61,352.33 L215.76,353.50 L215.91,354.55 L216.06,355.43 L216.22,356.10 L216.37,356.51 L216.52,356.66 L216.67,356.53 L216.82,356.13 L216.98,355.47 L217.13,354.57 L217.28,353.50 L217.44,352.28 L217.59,351.00 L217.74,349.70 L217.89,348.46 L218.05,347.33 L218.20,346.38 L218.35,345.64 L218.50,345.16 L218.66,344.96 L218.81,345.12 L218.96,345.57 L219.11,346.27 L219.26,347.19 L219.42,348.28 L219.57,349.49 L219.72,350.75 L219.88,352.00 L220.03,353.17 L220.18,354.22 L220.33,355.09 L220.49,355.74 L220.64,356.14 L220.79,356.28 L220.94,356.14 L221.09,355.75 L221.25,355.12 L221.40,354.29 L221.55,353.31 L221.70,352.22 L221.86,351.09 L222.01,349.97 L222.16,348.93 L222.31,348.00 L222.47,347.24 L222.62,346.68 L222.77,346.36 L222.93,346.28 L223.08,346.38 L223.23,346.73 L223.38,347.29 L223.53,348.05 L223.69,348.96 L223.84,349.98 L223.99,351.05 L224.14,352.12 L224.30,353.13 L224.45,354.04 L224.60,354.80 L224.75,355.36 L224.91,355.70 L225.06,355.81 L225.21,355.65 L225.37,355.26 L225.52,354.65 L225.67,353.85 L225.82,352.91 L225.97,351.86 L226.13,350.77 L226.28,349.68 L226.43,348.65 L226.58,347.72 L226.74,346.96 L226.89,346.38 L227.04,346.02 L227.19,345.90 L227.35,346.03 L227.50,346.39 L227.65,346.95 L227.81,347.70 L227.96,348.59 L228.11,349.57 L228.26,350.59 L228.42,351.60 L228.57,352.56 L228.72,353.40 L228.87,354.09 L229.03,354.59 L229.18,354.89 L229.33,354.96 L229.48,354.82 L229.63,354.45 L229.79,353.89 L229.94,353.16 L230.09,352.28 L230.25,351.32 L230.40,350.31 L230.55,349.30 L230.70,348.36 L230.86,347.51 L231.01,346.82 L231.16,346.30 L231.31,345.99 L231.47,345.89 L231.62,345.97 L231.77,346.27 L231.92,346.77 L232.07,347.46 L232.23,348.29 L232.38,349.23 L232.53,350.23 L232.69,351.23 L232.84,352.18 L232.99,353.04 L233.14,353.75 L233.30,354.28 L233.45,354.59 L233.60,354.66 L233.75,354.46 L233.91,354.02 L234.06,353.37 L234.21,352.53 L234.36,351.54 L234.51,350.45 L234.67,349.31 L234.82,348.17 L234.97,347.10 L235.12,346.14 L235.28,345.33 L235.43,344.72 L235.58,344.34 L235.74,344.20 L235.89,344.36 L236.04,344.75 L236.19,345.34 L236.34,346.12 L236.50,347.03 L236.65,348.03 L236.80,349.06 L236.95,350.08 L237.11,351.02 L237.26,351.84 L237.41,352.51 L237.56,352.97 L237.72,353.22 L237.87,353.25 L238.02,353.06 L238.18,352.66 L238.33,352.05 L238.48,351.28 L238.63,350.37 L238.78,349.38 L238.94,348.35 L239.09,347.34 L239.24,346.39 L239.39,345.56 L239.55,344.87 L239.70,344.38" fill="none" stroke="#ffa500" stroke-width="0.6" stroke-linejoin="round" stroke-linecap="round"/>
<path d="M118.77,391.31 L118.92,391.27 L119.07,391.06 L119.23,390.69 L119.38,390.18 L119.53,389.53 L119.68,388.77 L119.84,387.94 L119.99,387.08 L120.14,386.21 L120.29,385.37 L120.45,384.62 L120.60,383.98 L120.75,383.49 L120.90,383.18 L121.06,383.07 L121.21,383.03 L121.36,383.21 L121.51,383.64 L121.67,384.31 L121.82,385.21 L121.97,386.30 L122.12,387.56 L122.28,388.93 L122.43,390.38 L122.58,391.85 L122.73,393.27 L122.89,394.58 L123.04,395.73 L123.19,396.66 L123.34,397.33 L123.50,397.70 L123.65,397.60 L123.80,397.17 L123.95,396.41 L124.11,395.33 L124.26,393.98 L124.41,392.40 L124.56,390.64 L124.72,388.76 L124.87,386.84 L125.02,384.95 L125.17,383.15 L125.33,381.54 L125.48,380.16 L125.63,379.07 L125.78,378.34 L125.94,377.98 L126.09,378.26 L126.24,378.93 L126.39,379.97 L126.55,381.34 L126.70,382.99 L126.85,384.87 L127.00,386.90 L127.16,389.01 L127.31,391.11 L127.46,393.14 L127.61,395.01 L127.77,396.66 L127.92,398.03 L128.07,399.06 L128.22,399.73 L128.38,400.00 L128.53,399.75 L128.68,399.12 L128.83,398.13 L128.99,396.83 L129.14,395.28 L129.29,393.52 L129.44,391.64 L129.59,389.72 L129.75,387.81 L129.90,386.00 L130.05,384.36 L130.21,382.95 L130.36,381.82 L130.51,381.00 L130.66,380.54 L130.81,380.43 L130.97,380.56 L131.12,381.05 L131.27,381.87 L131.43,382.99 L131.58,384.37 L131.73,385.95 L131.88,387.66 L132.03,389.45 L132.19,391.23 L132.34,392.94 L132.49,394.52 L132.65,395.90 L132.80,397.01 L132.95,397.83 L133.10,398.32 L133.25,398.45 L133.41,398.17 L133.56,397.55 L133.71,396.59 L133.87,395.34 L134.02,393.85 L134.17,392.17 L134.32,390.36 L134.47,388.49 L134.63,386.63 L134.78,384.85 L134.93,383.21 L135.09,381.77 L135.24,380.59 L135.39,379.70 L135.54,379.14 L135.69,378.92 L135.85,379.11 L136.00,379.63 L136.15,380.46 L136.31,381.56 L136.46,382.88 L136.61,384.36 L136.76,385.95 L136.91,387.59 L137.07,389.20 L137.22,390.73 L137.37,392.11 L137.53,393.30 L137.68,394.24 L137.83,394.91 L137.98,395.28 L138.13,395.34 L138.29,395.18 L138.44,394.73 L138.59,393.98 L138.75,392.99 L138.90,391.77 L139.05,390.39 L139.20,388.90 L139.36,387.34 L139.51,385.79 L139.66,384.31 L139.81,382.94 L139.97,381.75 L140.12,380.77 L140.27,380.06 L140.42,379.62 L140.57,379.49 L140.73,379.59 L140.88,379.99 L141.03,380.68 L141.19,381.63 L141.34,382.80 L141.49,384.16 L141.64,385.64 L141.80,387.20 L141.95,388.77 L142.10,390.28 L142.25,391.69 L142.41,392.92 L142.56,393.94 L142.71,394.71 L142.86,395.18 L143.01,395.34 L143.17,395.15 L143.32,394.65 L143.47,393.85 L143.62,392.78 L143.78,391.48 L143.93,389.99 L144.08,388.37 L144.24,386.68 L144.39,384.99 L144.54,383.35 L144.69,381.84 L144.84,380.50 L145.00,379.39 L145.15,378.55 L145.30,378.01 L145.46,377.79 L145.61,378.00 L145.76,378.53 L145.91,379.36 L146.06,380.45 L146.22,381.76 L146.37,383.24 L146.52,384.83 L146.68,386.47 L146.83,388.09 L146.98,389.64 L147.13,391.06 L147.28,392.29 L147.44,393.28 L147.59,394.01 L147.74,394.45 L147.90,394.58 L148.05,394.45 L148.20,394.02 L148.35,393.31 L148.50,392.34 L148.66,391.16 L148.81,389.82 L148.96,388.36 L149.12,386.85 L149.27,385.34 L149.42,383.89 L149.57,382.57 L149.72,381.42 L149.88,380.48 L150.03,379.80 L150.18,379.40 L150.34,379.30 L150.49,379.48 L150.64,379.96 L150.79,380.72 L150.94,381.73 L151.10,382.94 L151.25,384.32 L151.40,385.82 L151.56,387.37 L151.71,388.91 L151.86,390.40 L152.01,391.77 L152.16,392.97 L152.32,393.96 L152.47,394.70 L152.62,395.17 L152.78,395.34 L152.93,395.21 L153.08,394.80 L153.23,394.11 L153.38,393.17 L153.54,392.03 L153.69,390.73 L153.84,389.31 L154.00,387.84 L154.15,386.37 L154.30,384.96 L154.45,383.66 L154.61,382.53 L154.76,381.62 L154.91,380.94 L155.06,380.54 L155.22,380.43 L155.37,380.61 L155.52,381.08 L155.67,381.82 L155.82,382.80 L155.98,383.99 L156.13,385.34 L156.28,386.80 L156.44,388.31 L156.59,389.82 L156.74,391.27 L156.89,392.61 L157.05,393.78 L157.20,394.75 L157.35,395.47 L157.50,395.92 L157.66,396.09 L157.81,396.00 L157.96,395.62 L158.11,394.97 L158.26,394.07 L158.42,392.97 L158.57,391.71 L158.72,390.33 L158.88,388.89 L159.03,387.44 L159.18,386.06 L159.33,384.78 L159.49,383.66 L159.64,382.75 L159.79,382.07 L159.94,381.68 L160.09,381.56 L160.25,381.77 L160.40,382.26 L160.55,383.03 L160.71,384.04 L160.86,385.26 L161.01,386.63 L161.16,388.12 L161.31,389.67 L161.47,391.21 L161.62,392.69 L161.77,394.06 L161.93,395.27 L162.08,396.26 L162.23,397.02 L162.38,397.50 L162.53,397.70 L162.69,397.55 L162.84,397.12 L162.99,396.43 L163.15,395.51 L163.30,394.39 L163.45,393.12 L163.60,391.75 L163.75,390.34 L163.91,388.94 L164.06,387.60 L164.21,386.39 L164.37,385.34 L164.52,384.49 L164.67,383.88 L164.82,383.53 L164.97,383.45 L165.13,383.62 L165.28,384.06 L165.43,384.75 L165.59,385.66 L165.74,386.75 L165.89,387.99 L166.04,389.33 L166.19,390.72 L166.35,392.09 L166.50,393.41 L166.65,394.62 L166.81,395.67 L166.96,396.54 L167.11,397.17 L167.26,397.57 L167.41,397.70 L167.57,397.59 L167.72,397.22 L167.87,396.62 L168.03,395.79 L168.18,394.79 L168.33,393.64 L168.48,392.39 L168.63,391.09 L168.79,389.80 L168.94,388.56 L169.09,387.42 L169.25,386.42 L169.40,385.62 L169.55,385.03 L169.70,384.68 L169.86,384.58 L170.01,384.71 L170.16,385.10 L170.31,385.73 L170.47,386.57 L170.62,387.61 L170.77,388.79 L170.92,390.08 L171.07,391.42 L171.23,392.77 L171.38,394.07 L171.53,395.28 L171.69,396.34 L171.84,397.22 L171.99,397.88 L172.14,398.30 L172.30,398.45 L172.45,398.32 L172.60,397.92 L172.75,397.28 L172.91,396.41 L173.06,395.36 L173.21,394.16 L173.36,392.86 L173.51,391.51 L173.67,390.15 L173.82,388.85 L173.97,387.66 L174.12,386.61 L174.28,385.75 L174.43,385.11 L174.58,384.72 L174.74,384.58 L174.89,384.77 L175.04,385.21 L175.19,385.90 L175.34,386.79 L175.50,387.86 L175.65,389.07 L175.80,390.37 L175.95,391.70 L176.11,393.02 L176.26,394.29 L176.41,395.44 L176.56,396.45 L176.72,397.27 L176.87,397.87 L177.02,398.24 L177.18,398.36 L177.33,398.23 L177.48,397.87 L177.63,397.28 L177.78,396.50 L177.94,395.55 L178.09,394.48 L178.24,393.32 L178.40,392.13 L178.55,390.95 L178.70,389.82 L178.85,388.80 L179.00,387.91 L179.16,387.20 L179.31,386.69 L179.46,386.40 L179.62,386.34 L179.77,386.46 L179.92,386.81 L180.07,387.38 L180.22,388.13 L180.38,389.05 L180.53,390.09 L180.68,391.22 L180.84,392.39 L180.99,393.56 L181.14,394.68 L181.29,395.71 L181.44,396.61 L181.60,397.36 L181.75,397.91 L181.90,398.24 L182.06,398.36 L182.21,398.25 L182.36,397.92 L182.51,397.39 L182.67,396.66 L182.82,395.77 L182.97,394.75 L183.12,393.65 L183.28,392.50 L183.43,391.36 L183.58,390.26 L183.73,389.24 L183.88,388.35 L184.04,387.63 L184.19,387.09 L184.34,386.76 L184.50,386.66 L184.65,386.77 L184.80,387.11 L184.95,387.66 L185.11,388.40 L185.26,389.30 L185.41,390.33 L185.56,391.45 L185.72,392.61 L185.87,393.78 L186.02,394.91 L186.17,395.94 L186.32,396.86 L186.48,397.61 L186.63,398.17 L186.78,398.52 L186.94,398.64 L187.09,398.53 L187.24,398.18 L187.39,397.63 L187.55,396.89 L187.70,395.98 L187.85,394.94 L188.00,393.82 L188.16,392.65 L188.31,391.48 L188.46,390.36 L188.61,389.32 L188.76,388.41 L188.92,387.67 L189.07,387.11 L189.22,386.77 L189.38,386.66 L189.53,386.80 L189.68,387.17 L189.83,387.74 L189.99,388.50 L190.14,389.42 L190.29,390.47 L190.44,391.59 L190.59,392.76 L190.75,393.91 L190.90,395.02 L191.05,396.04 L191.20,396.93 L191.36,397.66 L191.51,398.20 L191.66,398.53 L191.81,398.64 L191.97,398.52 L192.12,398.19 L192.27,397.65 L192.43,396.93 L192.58,396.07 L192.73,395.09 L192.88,394.03 L193.03,392.93 L193.19,391.84 L193.34,390.81 L193.49,389.86 L193.64,389.03 L193.80,388.36 L193.95,387.88 L194.10,387.59 L194.25,387.51 L194.41,387.63 L194.56,387.95 L194.71,388.47 L194.87,389.16 L195.02,390.00 L195.17,390.94 L195.32,391.97 L195.47,393.03 L195.63,394.08 L195.78,395.09 L195.93,396.02 L196.09,396.82 L196.24,397.48 L196.39,397.97 L196.54,398.26 L196.69,398.36 L196.85,398.24 L197.00,397.93 L197.15,397.43 L197.31,396.77 L197.46,395.97 L197.61,395.06 L197.76,394.08 L197.92,393.06 L198.07,392.05 L198.22,391.08 L198.37,390.20 L198.53,389.43 L198.68,388.80 L198.83,388.34 L198.98,388.06 L199.13,387.98 L199.29,388.09 L199.44,388.39 L199.59,388.87 L199.75,389.50 L199.90,390.28 L200.05,391.15 L200.20,392.10 L200.36,393.07 L200.51,394.05 L200.66,394.98 L200.81,395.83 L200.97,396.58 L201.12,397.18 L201.27,397.63 L201.42,397.90 L201.57,397.98 L201.73,397.85 L201.88,397.53 L202.03,397.04 L202.19,396.41 L202.34,395.65 L202.49,394.80 L202.64,393.89 L202.80,392.96 L202.95,392.03 L203.10,391.15 L203.25,390.35 L203.41,389.65 L203.56,389.09 L203.71,388.68 L203.86,388.43 L204.01,388.36 L204.17,388.42 L204.32,388.64 L204.47,389.03 L204.62,389.55 L204.78,390.20 L204.93,390.94 L205.08,391.74 L205.24,392.57 L205.39,393.39 L205.54,394.19 L205.69,394.91 L205.84,395.54 L206.00,396.04 L206.15,396.41 L206.30,396.62 L206.45,396.66 L206.61,396.53 L206.76,396.25 L206.91,395.80 L207.06,395.22 L207.22,394.53 L207.37,393.75 L207.52,392.90 L207.68,392.02 L207.83,391.15 L207.98,390.31 L208.13,389.54 L208.28,388.87 L208.44,388.31 L208.59,387.88 L208.74,387.62 L208.89,387.51 L209.05,387.57 L209.20,387.80 L209.35,388.17 L209.50,388.68 L209.66,389.29 L209.81,389.99 L209.96,390.75 L210.12,391.53 L210.27,392.31 L210.42,393.05 L210.57,393.72 L210.72,394.31 L210.88,394.78 L211.03,395.11 L211.18,395.30 L211.33,395.34 L211.49,395.23 L211.64,394.96 L211.79,394.56 L211.94,394.03 L212.10,393.39 L212.25,392.67 L212.40,391.90 L212.56,391.10 L212.71,390.31 L212.86,389.55 L213.01,388.85 L213.17,388.24 L213.32,387.74 L213.47,387.36 L213.62,387.12 L213.78,387.04 L213.93,387.09 L214.08,387.29 L214.23,387.62 L214.38,388.07 L214.54,388.63 L214.69,389.27 L214.84,389.96 L215.00,390.68 L215.15,391.39 L215.30,392.07 L215.45,392.70 L215.61,393.24 L215.76,393.68 L215.91,393.99 L216.06,394.17 L216.22,394.21 L216.37,394.08 L216.52,393.82 L216.67,393.42 L216.82,392.91 L216.98,392.30 L217.13,391.62 L217.28,390.90 L217.44,390.15 L217.59,389.40 L217.74,388.69 L217.89,388.04 L218.05,387.47 L218.20,387.00 L218.35,386.65 L218.50,386.43 L218.66,386.34 L218.81,386.37 L218.96,386.54 L219.11,386.83 L219.26,387.23 L219.42,387.72 L219.57,388.28 L219.72,388.88 L219.88,389.51 L220.03,390.13 L220.18,390.73 L220.33,391.27 L220.49,391.73 L220.64,392.10 L220.79,392.36 L220.94,392.50 L221.09,392.51 L221.25,392.39 L221.40,392.15 L221.55,391.79 L221.70,391.33 L221.86,390.78 L222.01,390.17 L222.16,389.51 L222.31,388.84 L222.47,388.16 L222.62,387.52 L222.77,386.92 L222.93,386.40 L223.08,385.97 L223.23,385.64 L223.38,385.43 L223.53,385.34 L223.69,385.38 L223.84,385.53 L223.99,385.80 L224.14,386.16 L224.30,386.60 L224.45,387.10 L224.60,387.65 L224.75,388.20 L224.91,388.75 L225.06,389.28 L225.21,389.75 L225.37,390.15 L225.52,390.47 L225.67,390.69 L225.82,390.81 L225.97,390.81 L226.13,390.70 L226.28,390.49 L226.43,390.18 L226.58,389.77 L226.74,389.30 L226.89,388.77 L227.04,388.20 L227.19,387.62 L227.35,387.05 L227.50,386.50 L227.65,386.00 L227.81,385.56 L227.96,385.19 L228.11,384.92 L228.26,384.75 L228.42,384.68 L228.57,384.71 L228.72,384.85 L228.87,385.07 L229.03,385.38 L229.18,385.75 L229.33,386.16 L229.48,386.61 L229.63,387.08 L229.79,387.53 L229.94,387.96 L230.09,388.35 L230.25,388.67 L230.40,388.93 L230.55,389.10 L230.70,389.19 L230.86,389.19 L231.01,389.09 L231.16,388.90 L231.31,388.64 L231.47,388.30 L231.62,387.91 L231.77,387.48 L231.92,387.02 L232.07,386.54 L232.23,386.08 L232.38,385.64 L232.53,385.24 L232.69,384.89 L232.84,384.61 L232.99,384.40 L233.14,384.26 L233.30,384.21 L233.45,384.22 L233.60,384.30 L233.75,384.46 L233.91,384.68 L234.06,384.95 L234.21,385.26 L234.36,385.60 L234.51,385.95 L234.67,386.29 L234.82,386.61 L234.97,386.91 L235.12,387.15 L235.28,387.34 L235.43,387.47 L235.58,387.52 L235.74,387.51 L235.89,387.41 L236.04,387.24 L236.19,387.01 L236.34,386.73 L236.50,386.40 L236.65,386.03 L236.80,385.65 L236.95,385.25 L237.11,384.87 L237.26,384.50 L237.41,384.17 L237.56,383.88 L237.72,383.63 L237.87,383.45 L238.02,383.32 L238.18,383.26 L238.33,383.27 L238.48,383.34 L238.63,383.46 L238.78,383.62 L238.94,383.82 L239.09,384.05 L239.24,384.30 L239.39,384.55 L239.55,384.79 L239.70,385.01" fill="none" stroke="#ff0000" stroke-width="0.6" stroke-linejoin="round" stroke-linecap="round"/><path d="M118.77,391.31 L118.92,391.27 L119.07,391.06 L119.23,390.69 L119.38,390.18 L119.53,389.53 L119.68,388.77 L119.84,387.94 L119.99,387.08 L120.14,386.21 L120.29,385.37 L120.45,384.62 L120.60,383.98 L120.75,383.49 L120.90,383.18 L121.06,383.07 L121.21,383.03 L121.36,383.21 L121.51,383.64 L121.67,384.31 L121.82,385.21 L121.97,386.30 L122.12,387.56 L122.28,388.93 L122.43,390.38 L122.58,391.85 L122.73,393.27 L122.89,394.58 L123.04,395.73 L123.19,396.66 L123.34,397.33 L123.50,397.70 L123.65,397.60 L123.80,397.17 L123.95,396.41 L124.11,395.33 L124.26,393.98 L124.41,392.40 L124.56,390.64 L124.72,388.76 L124.87,386.84 L125.02,384.95 L125.17,383.15 L125.33,381.54 L125.48,380.16 L125.63,379.07 L125.78,378.34 L125.94,377.98 L126.09,378.26 L126.24,378.93 L126.39,379.97 L126.55,381.34 L126.70,382.99 L126.85,384.87 L127.00,386.90 L127.16,389.01 L127.31,391.11 L127.46,393.14 L127.61,395.01 L127.77,396.66 L127.92,398.03 L128.07,399.06 L128.22,399.73 L128.38,400.00 L128.53,399.75 L128.68,399.12 L128.83,398.13 L128.99,396.83 L129.14,395.28 L129.29,393.52 L129.44,391.64 L129.59,389.72 L129.75,387.81 L129.90,386.00 L130.05,384.36 L130.21,382.95 L130.36,381.82 L130.51,381.00 L130.66,380.54 L130.81,380.43 L130.97,380.56 L131.12,381.05 L131.27,381.87 L131.43,382.99 L131.58,384.37 L131.73,385.95 L131.88,387.66 L132.03,389.45 L132.19,391.23 L132.34,392.94 L132.49,394.52 L132.65,395.90 L132.80,397.01 L132.95,397.83 L133.10,398.32 L133.25,398.45 L133.41,398.17 L133.56,397.55 L133.71,396.59 L133.87,395.34 L134.02,393.85 L134.17,392.17 L134.32,390.36 L134.47,388.49 L134.63,386.63 L134.78,384.85 L134.93,383.21 L135.09,381.77 L135.24,380.59 L135.39,379.70 L135.54,379.14 L135.69,378.92 L135.85,379.11 L136.00,379.63 L136.15,380.46 L136.31,381.56 L136.46,382.88 L136.61,384.36 L136.76,385.95 L136.91,387.59 L137.07,389.20 L137.22,390.73 L137.37,392.11 L137.53,393.30 L137.68,394.24 L137.83,394.91 L137.98,395.28 L138.13,395.34 L138.29,395.18 L138.44,394.73 L138.59,393.98 L138.75,392.99 L138.90,391.77 L139.05,390.39 L139.20,388.90 L139.36,387.34 L139.51,385.79 L139.66,384.31 L139.81,382.94 L139.97,381.75 L140.12,380.77 L140.27,380.06 L140.42,379.62 L140.57,379.49 L140.73,379.59 L140.88,379.99 L141.03,380.68 L141.19,381.63 L141.34,382.80 L141.49,384.16 L141.64,385.64 L141.80,387.20 L141.95,388.77 L142.10,390.28 L142.25,391.69 L142.41,392.92 L142.56,393.94 L142.71,394.71 L142.86,395.18 L143.01,395.34 L143.17,395.15 L143.32,394.65 L143.47,393.85 L143.62,392.78 L143.78,391.48 L143.93,389.99 L144.08,388.37 L144.24,386.68 L144.39,384.99 L144.54,383.35 L144.69,381.84 L144.84,380.50 L145.00,379.39 L145.15,378.55 L145.30,378.01 L145.46,377.79 L145.61,378.00 L145.76,378.53 L145.91,379.36 L146.06,380.45 L146.22,381.76 L146.37,383.24 L146.52,384.83 L146.68,386.47 L146.83,388.09 L146.98,389.64 L147.13,391.06 L147.28,392.29 L147.44,393.28 L147.59,394.01 L147.74,394.45 L147.90,394.58 L148.05,394.45 L148.20,394.02 L148.35,393.31 L148.50,392.34 L148.66,391.16 L148.81,389.82 L148.96,388.36 L149.12,386.85 L149.27,385.34 L149.42,383.89 L149.57,382.57 L149.72,381.42 L149.88,380.48 L150.03,379.80 L150.18,379.40 L150.34,379.30 L150.49,379.48 L150.64,379.96 L150.79,380.72 L150.94,381.73 L151.10,382.94 L151.25,384.32 L151.40,385.82 L151.56,387.37 L151.71,388.91 L151.86,390.40 L152.01,391.77 L152.16,392.97 L152.32,393.96 L152.47,394.70 L152.62,395.17 L152.78,395.34 L152.93,395.21 L153.08,394.80 L153.23,394.11 L153.38,393.17 L153.54,392.03 L153.69,390.73 L153.84,389.31 L154.00,387.84 L154.15,386.37 L154.30,384.96 L154.45,383.66 L154.61,382.53 L154.76,381.62 L154.91,380.94 L155.06,380.54 L155.22,380.43 L155.37,380.61 L155.52,381.08 L155.67,381.82 L155.82,382.80 L155.98,383.99 L156.13,385.34 L156.28,386.80 L156.44,388.31 L156.59,389.82 L156.74,391.27 L156.89,392.61 L157.05,393.78 L157.20,394.75 L157.35,395.47 L157.50,395.92 L157.66,396.09 L157.81,396.00 L157.96,395.62 L158.11,394.97 L158.26,394.07 L158.42,392.97 L158.57,391.71 L158.72,390.33 L158.88,388.89 L159.03,387.44 L159.18,386.06 L159.33,384.78 L159.49,383.66 L159.64,382.75 L159.79,382.07 L159.94,381.68 L160.09,381.56 L160.25,381.77 L160.40,382.26 L160.55,383.03 L160.71,384.04 L160.86,385.26 L161.01,386.63 L161.16,388.12 L161.31,389.67 L161.47,391.21 L161.62,392.69 L161.77,394.06 L161.93,395.27 L162.08,396.26 L162.23,397.02 L162.38,397.50 L162.53,397.70 L162.69,397.55 L162.84,397.12 L162.99,396.43 L163.15,395.51 L163.30,394.39 L163.45,393.12 L163.60,391.75 L163.75,390.34 L163.91,388.94 L164.06,387.60 L164.21,386.39 L164.37,385.34 L164.52,384.49 L164.67,383.88 L164.82,383.53 L164.97,383.45 L165.13,383.62 L165.28,384.06 L165.43,384.75 L165.59,385.66 L165.74,386.75 L165.89,387.99 L166.04,389.33 L166.19,390.72 L166.35,392.09 L166.50,393.41 L166.65,394.62 L166.81,395.67 L166.96,396.54 L167.11,397.17 L167.26,397.57 L167.41,397.70 L167.57,397.59 L167.72,397.22 L167.87,396.62 L168.03,395.79 L168.18,394.79 L168.33,393.64 L168.48,392.39 L168.63,391.09 L168.79,389.80 L168.94,388.56 L169.09,387.42 L169.25,386.42 L169.40,385.62 L169.55,385.03 L169.70,384.68 L169.86,384.58 L170.01,384.71 L170.16,385.10 L170.31,385.73 L170.47,386.57 L170.62,387.61 L170.77,388.79 L170.92,390.08 L171.07,391.42 L171.23,392.77 L171.38,394.07 L171.53,395.28 L171.69,396.34 L171.84,397.22 L171.99,397.88 L172.14,398.30 L172.30,398.45 L172.45,398.32 L172.60,397.92 L172.75,397.28 L172.91,396.41 L173.06,395.36 L173.21,394.16 L173.36,392.86 L173.51,391.51 L173.67,390.15 L173.82,388.85 L173.97,387.66 L174.12,386.61 L174.28,385.75 L174.43,385.11 L174.58,384.72 L174.74,384.58 L174.89,384.77 L175.04,385.21 L175.19,385.90 L175.34,386.79 L175.50,387.86 L175.65,389.07 L175.80,390.37 L175.95,391.70 L176.11,393.02 L176.26,394.29 L176.41,395.44 L176.56,396.45 L176.72,397.27 L176.87,397.87 L177.02,398.24 L177.18,398.36 L177.33,398.23 L177.48,397.87 L177.63,397.28 L177.78,396.50 L177.94,395.55 L178.09,394.48 L178.24,393.32 L178.40,392.13 L178.55,390.95 L178.70,389.82 L178.85,388.80 L179.00,387.91 L179.16,387.20 L179.31,386.69 L179.46,386.40 L179.62,386.34 L179.77,386.46 L179.92,386.81 L180.07,387.38 L180.22,388.13 L180.38,389.05 L180.53,390.09 L180.68,391.22 L180.84,392.39 L180.99,393.56 L181.14,394.68 L181.29,395.71 L181.44,396.61 L181.60,397.36 L181.75,397.91 L181.90,398.24 L182.06,398.36 L182.21,398.25 L182.36,397.92 L182.51,397.39 L182.67,396.66 L182.82,395.77 L182.97,394.75 L183.12,393.65 L183.28,392.50 L183.43,391.36 L183.58,390.26 L183.73,389.24 L183.88,388.35 L184.04,387.63 L184.19,387.09 L184.34,386.76 L184.50,386.66 L184.65,386.77 L184.80,387.11 L184.95,387.66 L185.11,388.40 L185.26,389.30 L185.41,390.33 L185.56,391.45 L185.72,392.61 L185.87,393.78 L186.02,394.91 L186.17,395.94 L186.32,396.86 L186.48,397.61 L186.63,398.17 L186.78,398.52 L186.94,398.64 L187.09,398.53 L187.24,398.18 L187.39,397.63 L187.55,396.89 L187.70,395.98 L187.85,394.94 L188.00,393.82 L188.16,392.65 L188.31,391.48 L188.46,390.36 L188.61,389.32 L188.76,388.41 L188.92,387.67 L189.07,387.11 L189.22,386.77 L189.38,386.66 L189.53,386.80 L189.68,387.17 L189.83,387.74 L189.99,388.50 L190.14,389.42 L190.29,390.47 L190.44,391.59 L190.59,392.76 L190.75,393.91 L190.90,395.02 L191.05,396.04 L191.20,396.93 L191.36,397.66 L191.51,398.20 L191.66,398.53 L191.81,398.64 L191.97,398.52 L192.12,398.19 L192.27,397.65 L192.43,396.93 L192.58,396.07 L192.73,395.09 L192.88,394.03 L193.03,392.93 L193.19,391.84 L193.34,390.81 L193.49,389.86 L193.64,389.03 L193.80,388.36 L193.95,387.88 L194.10,387.59 L194.25,387.51 L194.41,387.63 L194.56,387.95 L194.71,388.47 L194.87,389.16 L195.02,390.00 L195.17,390.94 L195.32,391.97 L195.47,393.03 L195.63,394.08 L195.78,395.09 L195.93,396.02 L196.09,396.82 L196.24,397.48 L196.39,397.97 L196.54,398.26 L196.69,398.36 L196.85,398.24 L197.00,397.93 L197.15,397.43 L197.31,396.77 L197.46,395.97 L197.61,395.06 L197.76,394.08 L197.92,393.06 L198.07,392.05 L198.22,391.08 L198.37,390.20 L198.53,389.43 L198.68,388.80 L198.83,388.34 L198.98,388.06 L199.13,387.98 L199.29,388.09 L199.44,388.39 L199.59,388.87 L199.75,389.50 L199.90,390.28 L200.05,391.15 L200.20,392.10 L200.36,393.07 L200.51,394.05 L200.66,394.98 L200.81,395.83 L200.97,396.58 L201.12,397.18 L201.27,397.63 L201.42,397.90 L201.57,397.98 L201.73,397.85 L201.88,397.53 L202.03,397.04 L202.19,396.41 L202.34,395.65 L202.49,394.80 L202.64,393.89 L202.80,392.96 L202.95,392.03 L203.10,391.15 L203.25,390.35 L203.41,389.65 L203.56,389.09 L203.71,388.68 L203.86,388.43 L204.01,388.36 L204.17,388.42 L204.32,388.64 L204.47,389.03 L204.62,389.55 L204.78,390.20 L204.93,390.94 L205.08,391.74 L205.24,392.57 L205.39,393.39 L205.54,394.19 L205.69,394.91 L205.84,395.54 L206.00,396.04 L206.15,396.41 L206.30,396.62 L206.45,396.66 L206.61,396.53 L206.76,396.25 L206.91,395.80 L207.06,395.22 L207.22,394.53 L207.37,393.75 L207.52,392.90 L207.68,392.02 L207.83,391.15 L207.98,390.31 L208.13,389.54 L208.28,388.87 L208.44,388.31 L208.59,387.88 L208.74,387.62 L208.89,387.51 L209.05,387.57 L209.20,387.80 L209.35,388.17 L209.50,388.68 L209.66,389.29 L209.81,389.99 L209.96,390.75 L210.12,391.53 L210.27,392.31 L210.42,393.05 L210.57,393.72 L210.72,394.31 L210.88,394.78 L211.03,395.11 L211.18,395.30 L211.33,395.34 L211.49,395.23 L211.64,394.96 L211.79,394.56 L211.94,394.03 L212.10,393.39 L212.25,392.67 L212.40,391.90 L212.56,391.10 L212.71,390.31 L212.86,389.55 L213.01,388.85 L213.17,388.24 L213.32,387.74 L213.47,387.36 L213.62,387.12 L213.78,387.04 L213.93,387.09 L214.08,387.29 L214.23,387.62 L214.38,388.07 L214.54,388.63 L214.69,389.27 L214.84,389.96 L215.00,390.68 L215.15,391.39 L215.30,392.07 L215.45,392.70 L215.61,393.24 L215.76,393.68 L215.91,393.99 L216.06,394.17 L216.22,394.21 L216.37,394.08 L216.52,393.82 L216.67,393.42 L216.82,392.91 L216.98,392.30 L217.13,391.62 L217.28,390.90 L217.44,390.15 L217.59,389.40 L217.74,388.69 L217.89,388.04 L218.05,387.47 L218.20,387.00 L218.35,386.65 L218.50,386.43 L218.66,386.34 L218.81,386.37 L218.96,386.54 L219.11,386.83 L219.26,387.23 L219.42,387.72 L219.57,388.28 L219.72,388.88 L219.88,389.51 L220.03,390.13 L220.18,390.73 L220.33,391.27 L220.49,391.73 L220.64,392.10 L220.79,392.36 L220.94,392.50 L221.09,392.51 L221.25,392.39 L221.40,392.15 L221.55,391.79 L221.70,391.33 L221.86,390.78 L222.01,390.17 L222.16,389.51 L222.31,388.84 L222.47,388.16 L222.62,387.52 L222.77,386.92 L222.93,386.40 L223.08,385.97 L223.23,385.64 L223.38,385.43 L223.53,385.34 L223.69,385.38 L223.84,385.53 L223.99,385.80 L224.14,386.16 L224.30,386.60 L224.45,387.10 L224.60,387.65 L224.75,388.20 L224.91,388.75 L225.06,389.28 L225.21,389.75 L225.37,390.15 L225.52,390.47 L225.67,390.69 L225.82,390.81 L225.97,390.81 L226.13,390.70 L226.28,390.49 L226.43,390.18 L226.58,389.77 L226.74,389.30 L226.89,388.77 L227.04,388.20 L227.19,387.62 L227.35,387.05 L227.50,386.50 L227.65,386.00 L227.81,385.56 L227.96,385.19 L228.11,384.92 L228.26,384.75 L228.42,384.68 L228.57,384.71 L228.72,384.85 L228.87,385.07 L229.03,385.38 L229.18,385.75 L229.33,386.16 L229.48,386.61 L229.63,387.08 L229.79,387.53 L229.94,387.96 L230.09,388.35 L230.25,388.67 L230.40,388.93 L230.55,389.10 L230.70,389.19 L230.86,389.19 L231.01,389.09 L231.16,388.90 L231.31,388.64 L231.47,388.30 L231.62,387.91 L231.77,387.48 L231.92,387.02 L232.07,386.54 L232.23,386.08 L232.38,385.64 L232.53,385.24 L232.69,384.89 L232.84,384.61 L232.99,384.40 L233.14,384.26 L233.30,384.21 L233.45,384.22 L233.60,384.30 L233.75,384.46 L233.91,384.68 L234.06,384.95 L234.21,385.26 L234.36,385.60 L234.51,385.95 L234.67,386.29 L234.82,386.61 L234.97,386.91 L235.12,387.15 L235.28,387.34 L235.43,387.47 L235.58,387.52 L235.74,387.51 L235.89,387.41 L236.04,387.24 L236.19,387.01 L236.34,386.73 L236.50,386.40 L236.65,386.03 L236.80,385.65 L236.95,385.25 L237.11,384.87 L237.26,384.50 L237.41,384.17 L237.56,383.88 L237.72,383.63 L237.87,383.45 L238.02,383.32 L238.18,383.26 L238.33,383.27 L238.48,383.34 L238.63,383.46 L238.78,383.62 L238.94,383.82 L239.09,384.05 L239.24,384.30 L239.39,384.55 L239.55,384.79 L239.70,385.01" fill="none" stroke="#ff0000" stroke-width="0.6" stroke-linejoin="round" stroke-linecap="round"/>
</g>
<g clip-path="url(#cr)">
<path d="M275.31,254.52 L275.51,238.92 L275.71,223.32 L275.91,207.72 L276.07,195.79 L276.31,204.06 L276.51,210.76 L276.71,217.46 L276.91,224.16 L277.11,230.86 L277.31,237.56 L277.57,246.24 L277.71,241.80 L277.91,235.50 L278.11,229.20 L278.31,222.90 L278.51,216.60 L278.71,210.30 L278.91,204.00 L279.08,198.80 L279.31,205.31 L279.51,210.85 L279.71,216.38 L279.91,221.92 L280.11,227.45 L280.31,233.04 L280.51,238.59 L280.71,244.11 L280.91,249.70 L281.04,253.02 L281.31,245.25 L281.51,239.79 L281.71,234.10 L281.91,228.67 L282.11,223.31 L282.31,217.48 L282.51,212.01 L282.71,206.38 L282.99,198.80 L283.11,203.23 L283.31,211.18 L283.51,219.31 L283.71,226.77 L283.91,235.21 L284.11,243.74 L284.31,251.25 L284.50,258.29 L284.71,251.26 L284.91,244.39 L285.11,237.95 L285.31,232.82 L285.51,225.39 L285.71,218.47 L285.91,212.48 L286.11,207.23 L286.31,199.55 L286.51,204.79 L286.71,210.15 L286.91,214.93 L287.11,219.44 L287.31,223.81 L287.51,229.67 L287.71,227.78 L287.91,226.29 L288.11,225.37 L288.27,223.65 L288.51,230.31 L288.71,235.16 L288.87,237.96 L289.11,230.37 L289.31,224.57 L289.51,216.53 L289.71,212.19 L289.91,205.04 L290.11,197.77 L290.37,189.77 L290.51,194.79 L290.71,200.55 L290.91,208.35 L291.11,215.24 L291.31,222.47 L291.51,224.52 L291.71,230.83 L291.88,237.96 L292.11,233.88 L292.31,231.81 L292.51,229.83 L292.71,226.16 L292.91,220.01 L293.11,219.43 L293.31,218.11 L293.51,214.33 L293.71,212.18 L293.91,207.80 L294.14,204.83 L294.31,208.10 L294.51,212.80 L294.71,217.25 L294.91,221.02 L295.11,225.00 L295.31,227.81 L295.51,233.64 L295.64,235.70 L295.91,231.63 L296.11,230.21 L296.31,227.18 L296.51,222.21 L296.71,218.02 L296.91,214.34 L297.11,213.12 L297.30,209.34 L297.51,212.94 L297.71,215.37 L297.91,219.37 L298.11,221.30 L298.31,227.20 L298.51,228.12 L298.71,234.82 L298.91,236.38 L299.11,238.71 L299.31,235.89 L299.51,228.24 L299.71,226.99 L299.91,224.26 L300.11,216.47 L300.31,214.01 L300.51,210.69 L300.61,208.59 L300.71,207.00 L300.91,214.16 L301.11,218.66 L301.31,217.82 L301.51,223.96 L301.71,223.12 L301.91,229.48 L302.11,228.76 L302.31,238.87 L302.57,240.22 L302.71,238.75 L302.91,234.04 L303.11,228.49 L303.31,230.32 L303.51,228.63 L303.71,214.75 L303.91,219.56 L304.11,217.09 L304.38,207.84 L304.51,211.13 L304.71,210.28 L304.91,219.64 L305.11,220.16 L305.31,222.42 L305.51,224.07 L305.71,232.81 L305.89,234.19 L306.11,233.84 L306.31,227.17 L306.51,228.25 L306.71,220.73 L306.91,224.35 L307.11,219.61 L307.31,216.47 L307.51,214.34 L307.71,215.05 L307.91,212.29 L308.14,207.08 L308.31,212.03 L308.51,214.55 L308.71,218.15 L308.91,223.77 L309.11,226.28 L309.31,231.62 L309.51,232.02 L309.65,235.70 L309.91,224.14 L310.11,233.94 L310.31,235.63 L310.51,227.18 L310.71,222.95 L310.91,220.49 L311.11,218.22 L311.31,216.36 L311.46,214.61 L311.71,215.66 L311.91,221.68 L312.11,223.89 L312.31,232.17 L312.51,234.15 L312.71,240.84 L312.96,243.98 L313.11,241.07 L313.31,242.08 L313.51,236.28 L313.71,240.18 L313.91,222.69 L314.11,224.02 L314.31,226.40 L314.51,229.07 L314.71,216.19 L314.92,213.86 L315.11,215.74 L315.31,216.59 L315.51,223.90 L315.67,220.64 L315.91,216.76 L316.11,217.78 L316.31,211.84 L316.43,211.60 L316.71,209.66 L316.91,217.08 L317.18,218.38 L317.31,219.09 L317.51,220.27 L317.71,213.66 L317.91,210.23 L318.11,212.80 L318.39,208.59 L318.51,211.74 L318.71,215.49 L318.91,217.83 L319.11,225.82 L319.31,226.60 L319.51,235.67 L319.71,236.44 L319.91,238.43 L320.18,240.87 L320.31,231.72 L320.51,234.68 L320.71,229.03 L320.91,225.43 L321.11,221.26 L321.31,211.09 L321.46,208.82 L321.71,215.80 L321.91,214.03 L322.11,226.25 L322.31,217.68 L322.51,219.34 L322.74,229.33 L322.91,220.65 L323.11,220.13 L323.31,216.06 L323.51,223.85 L323.77,212.67 L323.91,212.65 L324.11,210.59 L324.31,221.03 L324.51,216.51 L324.71,215.77 L324.91,224.97 L325.05,222.92 L325.31,223.60 L325.51,218.58 L325.71,224.03 L325.91,218.22 L326.11,222.39 L326.33,215.23 L326.51,218.07 L326.71,223.03 L326.91,218.94 L327.11,215.28 L327.23,220.36 L327.51,225.46 L327.71,211.95 L328.00,210.10 L328.11,212.38 L328.31,215.84 L328.51,222.93 L328.71,229.83 L328.90,233.82 L329.11,230.87 L329.31,229.12 L329.51,229.81 L329.71,219.45 L329.91,211.99 L330.11,208.75 L330.31,207.21 L330.44,207.54 L330.71,203.66 L330.91,214.36 L331.11,211.14 L331.31,213.42 L331.51,216.15 L331.72,217.79 L331.91,211.33 L332.11,211.88 L332.31,216.09 L332.51,214.49 L332.71,209.21 L333.00,208.82 L333.11,217.85 L333.31,210.70 L333.51,218.46 L333.71,223.13 L333.91,218.00 L334.03,230.62 L334.31,232.83 L334.51,223.67 L334.71,215.10 L334.91,223.05 L335.11,214.28 L335.31,208.82 L335.51,211.63 L335.71,209.02 L335.91,212.84 L336.11,208.04 L336.31,217.78 L336.59,216.51 L336.71,217.30 L336.91,222.67 L337.11,230.10 L337.31,230.22 L337.51,233.64 L337.62,234.46 L337.71,234.09 L337.91,227.54 L338.11,230.49 L338.31,230.27 L338.51,224.54 L338.71,222.18 L338.91,212.83 L339.15,212.67 L339.31,211.85 L339.51,212.73 L339.71,225.62 L339.91,223.12 L340.11,232.24 L340.31,227.16 L340.44,231.90 L340.71,228.06 L340.91,228.43 L341.11,229.90 L341.31,225.10 L341.51,224.06 L341.72,221.64 L341.91,220.34 L342.11,219.53 L342.31,213.32 L342.51,216.37 L342.71,213.98 L343.00,212.67 L343.11,213.36 L343.31,217.01 L343.51,214.24 L343.64,217.79 L343.91,214.21 L344.11,211.02 L344.28,210.10 L344.51,214.84 L344.71,218.96 L344.91,215.21 L345.11,223.72 L345.31,224.21 L345.51,229.70 L345.71,214.31 L345.91,214.54 L346.11,212.18 L346.31,212.27 L346.51,217.23 L346.71,209.03 L346.85,207.54 L347.11,209.21 L347.31,217.35 L347.51,215.96 L347.71,225.63 L347.91,225.76 L348.13,228.05 L348.31,230.03 L348.51,218.83 L348.71,229.21 L348.91,217.42 L349.11,213.28 L349.31,207.12 L349.41,205.62 L349.51,207.31 L349.71,215.37 L349.91,226.73 L350.05,233.18 L350.31,224.93 L350.51,225.01 L350.71,216.82 L350.91,218.29 L351.08,212.67 L351.31,219.59 L351.51,216.11 L351.71,226.09 L351.91,223.48 L352.11,231.55 L352.36,230.62 L352.51,229.36 L352.71,228.18 L352.91,216.37 L353.11,215.96 L353.31,218.09 L353.51,208.82 L353.71,209.78 L353.91,207.69 L354.11,211.35 L354.31,212.50 L354.51,217.29 L354.79,229.97 L354.91,226.14 L355.11,228.74 L355.31,218.36 L355.56,215.23 L355.71,219.52 L355.91,221.97 L356.11,226.52 L356.31,229.95 L356.51,234.02 L356.71,240.55 L356.85,241.51 L357.11,231.79 L357.31,236.22 L357.51,231.96 L357.71,223.79 L357.91,223.70 L358.11,214.02 L358.38,211.38 L358.51,211.26 L358.71,216.91 L358.91,218.59 L359.11,220.59 L359.31,222.74 L359.51,226.18 L359.67,230.62 L359.91,230.03 L360.11,215.56 L360.31,220.98 L360.51,215.32 L360.71,215.62 L360.95,208.82 L361.11,214.09 L361.31,205.41 L361.51,222.36 L361.71,225.36 L361.85,226.77 L362.11,216.33 L362.31,206.56 L362.58,197.87 L362.71,208.07 L362.91,213.52 L363.11,232.52 L363.36,238.34 L363.51,236.43 L363.71,237.07 L363.91,220.33 L364.11,211.13 L364.31,215.24 L364.54,206.36 L364.71,212.51 L364.91,212.60 L365.11,209.75 L365.31,217.23 L365.58,223.33 L365.71,223.76 L365.91,217.65 L366.11,214.92 L366.31,211.69 L366.51,205.74 L366.63,207.67 L366.91,208.70 L367.11,207.39 L367.31,221.98 L367.51,215.42 L367.71,221.30 L367.91,217.63 L368.19,224.64 L368.31,227.01 L368.51,215.42 L368.71,225.10 L368.91,220.18 L369.11,227.35 L369.31,212.82 L369.50,216.80 L369.71,220.59 L369.91,224.97 L370.11,231.61 L370.31,228.39 L370.54,233.78 L370.71,227.31 L370.91,210.59 L371.11,207.72 L371.31,204.74 L371.46,197.22 L371.71,207.41 L371.91,206.55 L372.11,220.28 L372.37,218.11 L372.51,223.59 L372.71,214.45 L372.91,203.21 L373.11,203.71 L373.31,205.63 L373.42,207.67 L373.51,215.19 L373.71,218.42 L373.91,215.37 L374.11,229.11 L374.31,242.75 L374.51,241.33 L374.72,249.44 L374.91,241.29 L375.11,246.94 L375.31,233.65 L375.51,226.15 L375.71,224.02 L375.91,217.31 L376.03,214.19 L376.31,214.80 L376.51,222.86 L376.68,219.42 L376.91,221.01 L377.11,217.53 L377.33,211.58 L377.51,213.54 L377.71,221.08 L377.91,218.95 L378.11,223.59 L378.31,228.44 L378.51,230.15 L378.64,228.55 L378.91,231.31 L379.11,222.86 L379.31,211.24 L379.55,214.19 L379.71,214.25 L379.91,229.97 L380.11,229.04 L380.31,237.65 L380.60,244.22 L380.71,237.53 L380.91,239.30 L381.11,228.18 L381.31,229.92 L381.51,216.40 L381.71,217.37 L381.90,207.67 L382.11,216.73 L382.31,217.16 L382.51,230.42 L382.71,228.44 L382.81,235.08 L382.91,228.67 L383.11,228.51 L383.31,216.79 L383.60,210.28" fill="none" stroke="#0000ff" stroke-width="0.6" stroke-linejoin="round" stroke-linecap="round"/><path d="M275.31,254.52 L275.51,238.92 L275.71,223.32 L275.91,207.72 L276.07,195.79 L276.31,204.06 L276.51,210.76 L276.71,217.46 L276.91,224.16 L277.11,230.86 L277.31,237.56 L277.57,246.24 L277.71,241.80 L277.91,235.50 L278.11,229.20 L278.31,222.90 L278.51,216.60 L278.71,210.30 L278.91,204.00 L279.08,198.80 L279.31,205.31 L279.51,210.85 L279.71,216.38 L279.91,221.92 L280.11,227.45 L280.31,233.04 L280.51,238.59 L280.71,244.11 L280.91,249.70 L281.04,253.02 L281.31,245.25 L281.51,239.79 L281.71,234.10 L281.91,228.67 L282.11,223.31 L282.31,217.48 L282.51,212.01 L282.71,206.38 L282.99,198.80 L283.11,203.23 L283.31,211.18 L283.51,219.31 L283.71,226.77 L283.91,235.21 L284.11,243.74 L284.31,251.25 L284.50,258.29 L284.71,251.26 L284.91,244.39 L285.11,237.95 L285.31,232.82 L285.51,225.39 L285.71,218.47 L285.91,212.48 L286.11,207.23 L286.31,199.55 L286.51,204.79 L286.71,210.15 L286.91,214.93 L287.11,219.44 L287.31,223.81 L287.51,229.67 L287.71,227.78 L287.91,226.29 L288.11,225.37 L288.27,223.65 L288.51,230.31 L288.71,235.16 L288.87,237.96 L289.11,230.37 L289.31,224.57 L289.51,216.53 L289.71,212.19 L289.91,205.04 L290.11,197.77 L290.37,189.77 L290.51,194.79 L290.71,200.55 L290.91,208.35 L291.11,215.24 L291.31,222.47 L291.51,224.52 L291.71,230.83 L291.88,237.96 L292.11,233.88 L292.31,231.81 L292.51,229.83 L292.71,226.16 L292.91,220.01 L293.11,219.43 L293.31,218.11 L293.51,214.33 L293.71,212.18 L293.91,207.80 L294.14,204.83 L294.31,208.10 L294.51,212.80 L294.71,217.25 L294.91,221.02 L295.11,225.00 L295.31,227.81 L295.51,233.64 L295.64,235.70 L295.91,231.63 L296.11,230.21 L296.31,227.18 L296.51,222.21 L296.71,218.02 L296.91,214.34 L297.11,213.12 L297.30,209.34 L297.51,212.94 L297.71,215.37 L297.91,219.37 L298.11,221.30 L298.31,227.20 L298.51,228.12 L298.71,234.82 L298.91,236.38 L299.11,238.71 L299.31,235.89 L299.51,228.24 L299.71,226.99 L299.91,224.26 L300.11,216.47 L300.31,214.01 L300.51,210.69 L300.61,208.59 L300.71,207.00 L300.91,214.16 L301.11,218.66 L301.31,217.82 L301.51,223.96 L301.71,223.12 L301.91,229.48 L302.11,228.76 L302.31,238.87 L302.57,240.22 L302.71,238.75 L302.91,234.04 L303.11,228.49 L303.31,230.32 L303.51,228.63 L303.71,214.75 L303.91,219.56 L304.11,217.09 L304.38,207.84 L304.51,211.13 L304.71,210.28 L304.91,219.64 L305.11,220.16 L305.31,222.42 L305.51,224.07 L305.71,232.81 L305.89,234.19 L306.11,233.84 L306.31,227.17 L306.51,228.25 L306.71,220.73 L306.91,224.35 L307.11,219.61 L307.31,216.47 L307.51,214.34 L307.71,215.05 L307.91,212.29 L308.14,207.08 L308.31,212.03 L308.51,214.55 L308.71,218.15 L308.91,223.77 L309.11,226.28 L309.31,231.62 L309.51,232.02 L309.65,235.70 L309.91,224.14 L310.11,233.94 L310.31,235.63 L310.51,227.18 L310.71,222.95 L310.91,220.49 L311.11,218.22 L311.31,216.36 L311.46,214.61 L311.71,215.66 L311.91,221.68 L312.11,223.89 L312.31,232.17 L312.51,234.15 L312.71,240.84 L312.96,243.98 L313.11,241.07 L313.31,242.08 L313.51,236.28 L313.71,240.18 L313.91,222.69 L314.11,224.02 L314.31,226.40 L314.51,229.07 L314.71,216.19 L314.92,213.86 L315.11,215.74 L315.31,216.59 L315.51,223.90 L315.67,220.64 L315.91,216.76 L316.11,217.78 L316.31,211.84 L316.43,211.60 L316.71,209.66 L316.91,217.08 L317.18,218.38 L317.31,219.09 L317.51,220.27 L317.71,213.66 L317.91,210.23 L318.11,212.80 L318.39,208.59 L318.51,211.74 L318.71,215.49 L318.91,217.83 L319.11,225.82 L319.31,226.60 L319.51,235.67 L319.71,236.44 L319.91,238.43 L320.18,240.87 L320.31,231.72 L320.51,234.68 L320.71,229.03 L320.91,225.43 L321.11,221.26 L321.31,211.09 L321.46,208.82 L321.71,215.80 L321.91,214.03 L322.11,226.25 L322.31,217.68 L322.51,219.34 L322.74,229.33 L322.91,220.65 L323.11,220.13 L323.31,216.06 L323.51,223.85 L323.77,212.67 L323.91,212.65 L324.11,210.59 L324.31,221.03 L324.51,216.51 L324.71,215.77 L324.91,224.97 L325.05,222.92 L325.31,223.60 L325.51,218.58 L325.71,224.03 L325.91,218.22 L326.11,222.39 L326.33,215.23 L326.51,218.07 L326.71,223.03 L326.91,218.94 L327.11,215.28 L327.23,220.36 L327.51,225.46 L327.71,211.95 L328.00,210.10 L328.11,212.38 L328.31,215.84 L328.51,222.93 L328.71,229.83 L328.90,233.82 L329.11,230.87 L329.31,229.12 L329.51,229.81 L329.71,219.45 L329.91,211.99 L330.11,208.75 L330.31,207.21 L330.44,207.54 L330.71,203.66 L330.91,214.36 L331.11,211.14 L331.31,213.42 L331.51,216.15 L331.72,217.79 L331.91,211.33 L332.11,211.88 L332.31,216.09 L332.51,214.49 L332.71,209.21 L333.00,208.82 L333.11,217.85 L333.31,210.70 L333.51,218.46 L333.71,223.13 L333.91,218.00 L334.03,230.62 L334.31,232.83 L334.51,223.67 L334.71,215.10 L334.91,223.05 L335.11,214.28 L335.31,208.82 L335.51,211.63 L335.71,209.02 L335.91,212.84 L336.11,208.04 L336.31,217.78 L336.59,216.51 L336.71,217.30 L336.91,222.67 L337.11,230.10 L337.31,230.22 L337.51,233.64 L337.62,234.46 L337.71,234.09 L337.91,227.54 L338.11,230.49 L338.31,230.27 L338.51,224.54 L338.71,222.18 L338.91,212.83 L339.15,212.67 L339.31,211.85 L339.51,212.73 L339.71,225.62 L339.91,223.12 L340.11,232.24 L340.31,227.16 L340.44,231.90 L340.71,228.06 L340.91,228.43 L341.11,229.90 L341.31,225.10 L341.51,224.06 L341.72,221.64 L341.91,220.34 L342.11,219.53 L342.31,213.32 L342.51,216.37 L342.71,213.98 L343.00,212.67 L343.11,213.36 L343.31,217.01 L343.51,214.24 L343.64,217.79 L343.91,214.21 L344.11,211.02 L344.28,210.10 L344.51,214.84 L344.71,218.96 L344.91,215.21 L345.11,223.72 L345.31,224.21 L345.51,229.70 L345.71,214.31 L345.91,214.54 L346.11,212.18 L346.31,212.27 L346.51,217.23 L346.71,209.03 L346.85,207.54 L347.11,209.21 L347.31,217.35 L347.51,215.96 L347.71,225.63 L347.91,225.76 L348.13,228.05 L348.31,230.03 L348.51,218.83 L348.71,229.21 L348.91,217.42 L349.11,213.28 L349.31,207.12 L349.41,205.62 L349.51,207.31 L349.71,215.37 L349.91,226.73 L350.05,233.18 L350.31,224.93 L350.51,225.01 L350.71,216.82 L350.91,218.29 L351.08,212.67 L351.31,219.59 L351.51,216.11 L351.71,226.09 L351.91,223.48 L352.11,231.55 L352.36,230.62 L352.51,229.36 L352.71,228.18 L352.91,216.37 L353.11,215.96 L353.31,218.09 L353.51,208.82 L353.71,209.78 L353.91,207.69 L354.11,211.35 L354.31,212.50 L354.51,217.29 L354.79,229.97 L354.91,226.14 L355.11,228.74 L355.31,218.36 L355.56,215.23 L355.71,219.52 L355.91,221.97 L356.11,226.52 L356.31,229.95 L356.51,234.02 L356.71,240.55 L356.85,241.51 L357.11,231.79 L357.31,236.22 L357.51,231.96 L357.71,223.79 L357.91,223.70 L358.11,214.02 L358.38,211.38 L358.51,211.26 L358.71,216.91 L358.91,218.59 L359.11,220.59 L359.31,222.74 L359.51,226.18 L359.67,230.62 L359.91,230.03 L360.11,215.56 L360.31,220.98 L360.51,215.32 L360.71,215.62 L360.95,208.82 L361.11,214.09 L361.31,205.41 L361.51,222.36 L361.71,225.36 L361.85,226.77 L362.11,216.33 L362.31,206.56 L362.58,197.87 L362.71,208.07 L362.91,213.52 L363.11,232.52 L363.36,238.34 L363.51,236.43 L363.71,237.07 L363.91,220.33 L364.11,211.13 L364.31,215.24 L364.54,206.36 L364.71,212.51 L364.91,212.60 L365.11,209.75 L365.31,217.23 L365.58,223.33 L365.71,223.76 L365.91,217.65 L366.11,214.92 L366.31,211.69 L366.51,205.74 L366.63,207.67 L366.91,208.70 L367.11,207.39 L367.31,221.98 L367.51,215.42 L367.71,221.30 L367.91,217.63 L368.19,224.64 L368.31,227.01 L368.51,215.42 L368.71,225.10 L368.91,220.18 L369.11,227.35 L369.31,212.82 L369.50,216.80 L369.71,220.59 L369.91,224.97 L370.11,231.61 L370.31,228.39 L370.54,233.78 L370.71,227.31 L370.91,210.59 L371.11,207.72 L371.31,204.74 L371.46,197.22 L371.71,207.41 L371.91,206.55 L372.11,220.28 L372.37,218.11 L372.51,223.59 L372.71,214.45 L372.91,203.21 L373.11,203.71 L373.31,205.63 L373.42,207.67 L373.51,215.19 L373.71,218.42 L373.91,215.37 L374.11,229.11 L374.31,242.75 L374.51,241.33 L374.72,249.44 L374.91,241.29 L375.11,246.94 L375.31,233.65 L375.51,226.15 L375.71,224.02 L375.91,217.31 L376.03,214.19 L376.31,214.80 L376.51,222.86 L376.68,219.42 L376.91,221.01 L377.11,217.53 L377.33,211.58 L377.51,213.54 L377.71,221.08 L377.91,218.95 L378.11,223.59 L378.31,228.44 L378.51,230.15 L378.64,228.55 L378.91,231.31 L379.11,222.86 L379.31,211.24 L379.55,214.19 L379.71,214.25 L379.91,229.97 L380.11,229.04 L380.31,237.65 L380.60,244.22 L380.71,237.53 L380.91,239.30 L381.11,228.18 L381.31,229.92 L381.51,216.40 L381.71,217.37 L381.90,207.67 L382.11,216.73 L382.31,217.16 L382.51,230.42 L382.71,228.44 L382.81,235.08 L382.91,228.67 L383.11,228.51 L383.31,216.79 L383.60,210.28" fill="none" stroke="#0000ff" stroke-width="0.6" stroke-linejoin="round" stroke-linecap="round"/>
<path d="M275.38,288.15 L275.65,291.93 L275.92,295.71 L276.15,298.92 L276.46,293.87 L276.73,289.49 L277.00,285.10 L277.38,278.92 L277.54,281.46 L277.81,285.73 L278.08,290.01 L278.35,294.28 L278.62,298.56 L278.89,302.83 L279.23,308.15 L279.43,304.84 L279.70,300.45 L279.97,296.07 L280.24,291.69 L280.46,288.15 L280.78,283.93 L281.05,280.44 L281.32,277.01 L281.59,273.36 L281.86,269.91 L282.00,268.15 L282.13,270.89 L282.40,276.63 L282.67,282.36 L282.94,287.85 L283.21,293.61 L283.54,300.46 L283.75,301.82 L284.02,303.49 L284.29,305.12 L284.56,306.81 L284.83,308.85 L285.08,310.46 L285.37,305.18 L285.64,301.16 L285.91,295.08 L286.18,291.11 L286.45,286.47 L286.72,282.08 L286.92,278.15 L287.26,281.54 L287.53,283.57 L287.80,286.42 L288.15,289.69 L288.34,288.77 L288.61,286.79 L288.92,285.08 L289.15,288.32 L289.42,290.47 L289.69,295.56 L289.96,298.83 L290.23,301.30 L290.46,304.31 L290.77,299.63 L291.04,295.00 L291.31,290.19 L291.58,286.39 L291.85,282.61 L292.12,277.47 L292.39,273.15 L292.77,267.38 L292.93,269.32 L293.20,272.90 L293.47,276.71 L293.74,278.65 L294.01,282.69 L294.28,285.72 L294.55,287.46 L294.82,291.74 L295.08,295.08 L295.36,294.08 L295.63,293.30 L295.90,292.75 L296.17,290.00 L296.31,291.23 L296.44,289.60 L296.71,285.69 L296.98,281.73 L297.25,280.11 L297.52,277.00 L297.69,274.31 L298.06,277.44 L298.33,281.50 L298.46,282.00 L298.60,282.86 L298.87,285.56 L299.14,286.73 L299.41,291.60 L299.68,289.73 L299.95,294.54 L300.22,297.62 L300.46,298.92 L300.76,294.38 L301.03,294.11 L301.30,292.05 L301.57,290.84 L301.84,289.13 L302.11,285.16 L302.38,281.90 L302.65,282.79 L302.92,280.46 L303.23,276.62 L303.46,279.43 L303.73,284.25 L304.00,288.16 L304.27,292.25 L304.54,295.69 L304.81,301.03 L305.08,301.05 L305.35,308.35 L305.54,309.69 L305.89,307.06 L306.16,303.94 L306.43,303.36 L306.70,296.44 L306.97,298.65 L307.24,295.28 L307.51,290.88 L307.78,290.62 L308.05,287.26 L308.32,288.87 L308.62,282.77 L308.86,287.00 L309.13,286.85 L309.40,287.01 L309.67,288.99 L309.94,291.16 L310.21,292.61 L310.46,295.08 L310.75,292.76 L311.02,292.32 L311.29,291.88 L311.56,290.61 L311.83,289.43 L312.10,288.17 L312.31,288.92 L312.64,291.75 L312.91,284.47 L313.18,284.23 L313.45,285.60 L313.72,283.44 L313.85,283.54 L313.99,285.01 L314.26,287.06 L314.53,289.26 L314.80,289.85 L315.07,288.35 L315.34,293.32 L315.61,289.87 L315.88,294.10 L316.15,294.86 L316.42,295.30 L316.62,298.15 L316.96,297.28 L317.23,294.42 L317.50,295.09 L317.77,289.11 L318.15,289.69 L318.31,291.96 L318.58,292.55 L318.85,293.08 L319.12,291.42 L319.39,294.80 L319.69,296.62 L319.93,292.37 L320.20,289.88 L320.47,298.61 L320.74,292.76 L321.01,292.86 L321.28,287.17 L321.54,286.62 L321.82,287.16 L322.09,286.42 L322.36,285.49 L322.63,283.61 L322.90,282.42 L323.17,278.16 L323.44,282.54 L323.71,281.44 L323.98,282.03 L324.25,278.62 L324.62,278.15 L324.79,284.27 L325.06,284.26 L325.33,286.90 L325.60,295.29 L325.87,296.77 L326.15,302.00 L326.41,297.96 L326.68,298.92 L326.95,298.45 L327.22,295.77 L327.49,294.58 L327.76,299.84 L328.03,291.83 L328.30,291.51 L328.57,283.04 L328.84,285.89 L329.23,282.77 L329.38,285.21 L329.65,284.67 L329.92,285.35 L330.19,289.47 L330.46,289.75 L330.73,290.88 L331.00,295.91 L331.23,295.08 L331.54,297.66 L331.85,295.08 L332.08,293.13 L332.35,288.79 L332.62,287.80 L332.89,285.55 L333.08,282.00 L333.43,283.67 L333.70,279.96 L333.97,282.47 L334.31,283.54 L334.51,286.00 L334.78,288.80 L335.05,291.76 L335.32,293.66 L335.59,292.27 L335.85,296.62 L336.13,293.38 L336.40,290.64 L336.67,294.81 L336.92,289.69 L337.21,289.46 L337.48,289.65 L337.75,290.05 L338.02,286.85 L338.29,284.70 L338.46,286.62 L338.83,286.58 L339.10,287.70 L339.37,291.52 L339.54,288.92 L339.91,293.45 L340.18,291.64 L340.45,297.10 L340.72,299.26 L341.08,300.46 L341.26,297.44 L341.53,297.96 L341.80,293.18 L342.07,296.12 L342.34,293.50 L342.62,292.77 L342.88,289.03 L343.15,289.24 L343.42,290.01 L343.69,287.36 L343.96,287.96 L344.15,286.62 L344.50,287.49 L344.77,284.57 L345.04,285.44 L345.38,285.85 L345.58,291.59 L345.85,289.61 L346.12,289.72 L346.39,293.54 L346.62,295.08 L346.93,290.03 L347.20,292.91 L347.47,289.37 L347.74,288.76 L348.01,286.38 L348.15,283.54 L348.28,284.97 L348.55,287.48 L348.82,287.27 L349.09,286.92 L349.23,288.92 L349.36,285.71 L349.63,284.50 L349.90,278.03 L350.17,284.31 L350.46,278.15 L350.71,278.15 L350.98,285.06 L351.25,286.23 L351.52,288.46 L351.79,295.99 L352.00,298.92 L352.33,296.08 L352.60,294.57 L352.87,294.19 L353.14,290.05 L353.38,289.69 L353.68,288.95 L353.95,287.87 L354.22,284.82 L354.62,283.54 L354.76,283.49 L355.03,286.09 L355.30,286.07 L355.57,287.22 L355.84,283.06 L356.15,288.92 L356.38,289.73 L356.65,291.18 L356.92,290.96 L357.19,292.72 L357.46,296.70 L357.69,293.54 L358.00,291.84 L358.27,291.39 L358.54,286.71 L358.81,285.08 L359.08,284.21 L359.23,284.31 L359.35,282.31 L359.62,284.49 L359.89,282.75 L360.16,284.42 L360.43,282.00 L360.77,285.08 L360.97,282.34 L361.24,285.13 L361.51,285.15 L361.78,286.80 L362.05,287.69 L362.31,289.69 L362.59,289.87 L362.86,293.56 L363.13,295.06 L363.40,294.60 L363.54,293.54 L363.67,291.67 L363.94,293.20 L364.21,284.78 L364.48,281.53 L364.75,283.95 L365.02,281.15 L365.38,278.15 L365.56,280.12 L365.83,283.85 L366.10,283.80 L366.37,288.16 L366.64,296.43 L366.92,297.38 L367.18,296.87 L367.45,290.59 L367.72,293.33 L367.99,284.47 L368.15,285.08 L368.53,285.05 L368.80,287.63 L369.07,285.39 L369.34,287.65 L369.69,289.69 L369.88,290.49 L370.15,291.65 L370.42,295.88 L370.69,296.93 L370.96,295.06 L371.23,298.92 L371.50,294.98 L371.77,294.24 L372.04,291.23 L372.31,288.92 L372.58,288.40 L372.85,291.99 L373.12,293.88 L373.39,291.97 L373.66,295.98 L373.85,295.08 L374.20,289.39 L374.47,287.66 L374.74,290.27 L375.01,285.75 L375.38,285.08 L375.55,283.35 L375.82,285.41 L376.09,285.09 L376.36,287.72 L376.63,284.55 L376.92,288.15 L377.17,285.75 L377.44,291.34 L377.71,283.24 L377.98,277.27 L378.25,280.75 L378.46,278.15 L378.79,281.44 L379.06,284.92 L379.33,284.08 L379.54,285.08 L379.87,282.37 L380.14,285.59 L380.41,283.06 L380.68,276.73 L380.95,280.98 L381.08,278.92 L381.22,279.23 L381.49,283.50 L381.76,281.84 L382.03,285.73 L382.30,285.94 L382.57,288.22 L382.84,288.40 L383.08,289.69 L383.38,286.98 L383.65,286.37 L383.85,285.08" fill="none" stroke="#00f400" stroke-width="0.6" stroke-linejoin="round" stroke-linecap="round"/><path d="M275.38,288.15 L275.65,291.93 L275.92,295.71 L276.15,298.92 L276.46,293.87 L276.73,289.49 L277.00,285.10 L277.38,278.92 L277.54,281.46 L277.81,285.73 L278.08,290.01 L278.35,294.28 L278.62,298.56 L278.89,302.83 L279.23,308.15 L279.43,304.84 L279.70,300.45 L279.97,296.07 L280.24,291.69 L280.46,288.15 L280.78,283.93 L281.05,280.44 L281.32,277.01 L281.59,273.36 L281.86,269.91 L282.00,268.15 L282.13,270.89 L282.40,276.63 L282.67,282.36 L282.94,287.85 L283.21,293.61 L283.54,300.46 L283.75,301.82 L284.02,303.49 L284.29,305.12 L284.56,306.81 L284.83,308.85 L285.08,310.46 L285.37,305.18 L285.64,301.16 L285.91,295.08 L286.18,291.11 L286.45,286.47 L286.72,282.08 L286.92,278.15 L287.26,281.54 L287.53,283.57 L287.80,286.42 L288.15,289.69 L288.34,288.77 L288.61,286.79 L288.92,285.08 L289.15,288.32 L289.42,290.47 L289.69,295.56 L289.96,298.83 L290.23,301.30 L290.46,304.31 L290.77,299.63 L291.04,295.00 L291.31,290.19 L291.58,286.39 L291.85,282.61 L292.12,277.47 L292.39,273.15 L292.77,267.38 L292.93,269.32 L293.20,272.90 L293.47,276.71 L293.74,278.65 L294.01,282.69 L294.28,285.72 L294.55,287.46 L294.82,291.74 L295.08,295.08 L295.36,294.08 L295.63,293.30 L295.90,292.75 L296.17,290.00 L296.31,291.23 L296.44,289.60 L296.71,285.69 L296.98,281.73 L297.25,280.11 L297.52,277.00 L297.69,274.31 L298.06,277.44 L298.33,281.50 L298.46,282.00 L298.60,282.86 L298.87,285.56 L299.14,286.73 L299.41,291.60 L299.68,289.73 L299.95,294.54 L300.22,297.62 L300.46,298.92 L300.76,294.38 L301.03,294.11 L301.30,292.05 L301.57,290.84 L301.84,289.13 L302.11,285.16 L302.38,281.90 L302.65,282.79 L302.92,280.46 L303.23,276.62 L303.46,279.43 L303.73,284.25 L304.00,288.16 L304.27,292.25 L304.54,295.69 L304.81,301.03 L305.08,301.05 L305.35,308.35 L305.54,309.69 L305.89,307.06 L306.16,303.94 L306.43,303.36 L306.70,296.44 L306.97,298.65 L307.24,295.28 L307.51,290.88 L307.78,290.62 L308.05,287.26 L308.32,288.87 L308.62,282.77 L308.86,287.00 L309.13,286.85 L309.40,287.01 L309.67,288.99 L309.94,291.16 L310.21,292.61 L310.46,295.08 L310.75,292.76 L311.02,292.32 L311.29,291.88 L311.56,290.61 L311.83,289.43 L312.10,288.17 L312.31,288.92 L312.64,291.75 L312.91,284.47 L313.18,284.23 L313.45,285.60 L313.72,283.44 L313.85,283.54 L313.99,285.01 L314.26,287.06 L314.53,289.26 L314.80,289.85 L315.07,288.35 L315.34,293.32 L315.61,289.87 L315.88,294.10 L316.15,294.86 L316.42,295.30 L316.62,298.15 L316.96,297.28 L317.23,294.42 L317.50,295.09 L317.77,289.11 L318.15,289.69 L318.31,291.96 L318.58,292.55 L318.85,293.08 L319.12,291.42 L319.39,294.80 L319.69,296.62 L319.93,292.37 L320.20,289.88 L320.47,298.61 L320.74,292.76 L321.01,292.86 L321.28,287.17 L321.54,286.62 L321.82,287.16 L322.09,286.42 L322.36,285.49 L322.63,283.61 L322.90,282.42 L323.17,278.16 L323.44,282.54 L323.71,281.44 L323.98,282.03 L324.25,278.62 L324.62,278.15 L324.79,284.27 L325.06,284.26 L325.33,286.90 L325.60,295.29 L325.87,296.77 L326.15,302.00 L326.41,297.96 L326.68,298.92 L326.95,298.45 L327.22,295.77 L327.49,294.58 L327.76,299.84 L328.03,291.83 L328.30,291.51 L328.57,283.04 L328.84,285.89 L329.23,282.77 L329.38,285.21 L329.65,284.67 L329.92,285.35 L330.19,289.47 L330.46,289.75 L330.73,290.88 L331.00,295.91 L331.23,295.08 L331.54,297.66 L331.85,295.08 L332.08,293.13 L332.35,288.79 L332.62,287.80 L332.89,285.55 L333.08,282.00 L333.43,283.67 L333.70,279.96 L333.97,282.47 L334.31,283.54 L334.51,286.00 L334.78,288.80 L335.05,291.76 L335.32,293.66 L335.59,292.27 L335.85,296.62 L336.13,293.38 L336.40,290.64 L336.67,294.81 L336.92,289.69 L337.21,289.46 L337.48,289.65 L337.75,290.05 L338.02,286.85 L338.29,284.70 L338.46,286.62 L338.83,286.58 L339.10,287.70 L339.37,291.52 L339.54,288.92 L339.91,293.45 L340.18,291.64 L340.45,297.10 L340.72,299.26 L341.08,300.46 L341.26,297.44 L341.53,297.96 L341.80,293.18 L342.07,296.12 L342.34,293.50 L342.62,292.77 L342.88,289.03 L343.15,289.24 L343.42,290.01 L343.69,287.36 L343.96,287.96 L344.15,286.62 L344.50,287.49 L344.77,284.57 L345.04,285.44 L345.38,285.85 L345.58,291.59 L345.85,289.61 L346.12,289.72 L346.39,293.54 L346.62,295.08 L346.93,290.03 L347.20,292.91 L347.47,289.37 L347.74,288.76 L348.01,286.38 L348.15,283.54 L348.28,284.97 L348.55,287.48 L348.82,287.27 L349.09,286.92 L349.23,288.92 L349.36,285.71 L349.63,284.50 L349.90,278.03 L350.17,284.31 L350.46,278.15 L350.71,278.15 L350.98,285.06 L351.25,286.23 L351.52,288.46 L351.79,295.99 L352.00,298.92 L352.33,296.08 L352.60,294.57 L352.87,294.19 L353.14,290.05 L353.38,289.69 L353.68,288.95 L353.95,287.87 L354.22,284.82 L354.62,283.54 L354.76,283.49 L355.03,286.09 L355.30,286.07 L355.57,287.22 L355.84,283.06 L356.15,288.92 L356.38,289.73 L356.65,291.18 L356.92,290.96 L357.19,292.72 L357.46,296.70 L357.69,293.54 L358.00,291.84 L358.27,291.39 L358.54,286.71 L358.81,285.08 L359.08,284.21 L359.23,284.31 L359.35,282.31 L359.62,284.49 L359.89,282.75 L360.16,284.42 L360.43,282.00 L360.77,285.08 L360.97,282.34 L361.24,285.13 L361.51,285.15 L361.78,286.80 L362.05,287.69 L362.31,289.69 L362.59,289.87 L362.86,293.56 L363.13,295.06 L363.40,294.60 L363.54,293.54 L363.67,291.67 L363.94,293.20 L364.21,284.78 L364.48,281.53 L364.75,283.95 L365.02,281.15 L365.38,278.15 L365.56,280.12 L365.83,283.85 L366.10,283.80 L366.37,288.16 L366.64,296.43 L366.92,297.38 L367.18,296.87 L367.45,290.59 L367.72,293.33 L367.99,284.47 L368.15,285.08 L368.53,285.05 L368.80,287.63 L369.07,285.39 L369.34,287.65 L369.69,289.69 L369.88,290.49 L370.15,291.65 L370.42,295.88 L370.69,296.93 L370.96,295.06 L371.23,298.92 L371.50,294.98 L371.77,294.24 L372.04,291.23 L372.31,288.92 L372.58,288.40 L372.85,291.99 L373.12,293.88 L373.39,291.97 L373.66,295.98 L373.85,295.08 L374.20,289.39 L374.47,287.66 L374.74,290.27 L375.01,285.75 L375.38,285.08 L375.55,283.35 L375.82,285.41 L376.09,285.09 L376.36,287.72 L376.63,284.55 L376.92,288.15 L377.17,285.75 L377.44,291.34 L377.71,283.24 L377.98,277.27 L378.25,280.75 L378.46,278.15 L378.79,281.44 L379.06,284.92 L379.33,284.08 L379.54,285.08 L379.87,282.37 L380.14,285.59 L380.41,283.06 L380.68,276.73 L380.95,280.98 L381.08,278.92 L381.22,279.23 L381.49,283.50 L381.76,281.84 L382.03,285.73 L382.30,285.94 L382.57,288.22 L382.84,288.40 L383.08,289.69 L383.38,286.98 L383.65,286.37 L383.85,285.08" fill="none" stroke="#00f400" stroke-width="0.6" stroke-linejoin="round" stroke-linecap="round"/>
<path d="M275.38,331.08 L275.63,329.83 L275.88,328.58 L276.13,327.33 L276.38,326.08 L276.63,324.83 L276.92,323.38 L277.13,326.03 L277.38,329.15 L277.63,332.28 L277.88,335.40 L278.13,338.53 L278.46,342.62 L278.63,340.93 L278.88,338.50 L279.13,336.07 L279.38,333.64 L279.63,331.21 L279.88,328.78 L280.13,326.35 L280.38,323.92 L280.63,321.49 L280.88,319.06 L281.23,315.69 L281.38,317.69 L281.63,320.94 L281.88,324.19 L282.13,327.44 L282.38,330.69 L282.63,333.94 L282.88,337.19 L283.13,340.44 L283.38,343.69 L283.54,345.69 L283.88,341.70 L284.13,338.81 L284.38,335.93 L284.63,333.04 L284.88,330.16 L285.13,327.28 L285.38,324.39 L285.54,322.62 L285.88,326.65 L286.13,329.57 L286.38,332.49 L286.63,335.40 L286.88,338.32 L287.13,341.24 L287.38,344.15 L287.63,347.07 L287.85,349.54 L288.13,346.74 L288.38,344.31 L288.63,341.89 L288.88,339.46 L289.13,337.03 L289.38,334.61 L289.63,332.18 L289.88,329.75 L290.13,327.33 L290.46,324.15 L290.63,325.38 L290.88,327.15 L291.13,328.84 L291.38,330.64 L291.63,332.29 L291.88,334.09 L292.13,335.77 L292.38,337.67 L292.63,339.45 L292.77,340.31 L292.88,339.33 L293.13,337.39 L293.38,335.13 L293.63,333.11 L293.88,331.03 L294.13,328.83 L294.38,326.89 L294.63,324.97 L294.88,322.56 L295.08,321.08 L295.38,323.86 L295.63,325.89 L295.88,328.32 L296.13,330.31 L296.38,332.51 L296.63,334.68 L296.88,336.78 L297.13,338.68 L297.38,341.08 L297.63,339.32 L297.88,336.82 L298.13,335.12 L298.38,333.20 L298.63,330.91 L298.88,329.11 L299.13,327.33 L299.38,325.07 L299.69,322.62 L299.88,323.82 L300.13,325.17 L300.38,327.46 L300.63,329.38 L300.88,331.23 L301.13,332.94 L301.38,335.13 L301.63,336.70 L301.88,338.66 L302.00,339.54 L302.13,338.88 L302.38,336.86 L302.63,335.43 L302.88,334.58 L303.13,332.62 L303.38,330.37 L303.63,329.16 L303.88,327.79 L304.13,326.43 L304.31,324.92 L304.63,326.83 L304.88,328.01 L305.13,329.35 L305.38,331.26 L305.63,332.56 L305.88,333.67 L306.13,335.20 L306.38,336.53 L306.62,338.00 L306.88,336.67 L307.13,334.61 L307.38,333.58 L307.63,332.23 L307.88,330.59 L308.13,328.53 L308.38,327.96 L308.63,325.59 L308.92,324.15 L309.13,325.64 L309.38,326.63 L309.63,327.70 L309.88,330.13 L310.13,331.69 L310.38,333.05 L310.63,334.75 L310.88,335.83 L311.13,337.31 L311.38,339.11 L311.69,341.08 L311.88,340.77 L312.13,338.55 L312.38,336.19 L312.63,335.09 L312.88,332.87 L313.13,331.21 L313.38,330.26 L313.54,328.77 L313.88,329.98 L314.13,330.41 L314.38,331.92 L314.63,333.57 L314.88,334.68 L315.13,336.41 L315.38,336.35 L315.63,338.29 L315.85,338.77 L316.13,337.88 L316.38,336.52 L316.63,336.13 L316.88,334.92 L317.13,333.07 L317.38,333.30 L317.63,330.83 L317.88,330.65 L318.15,329.54 L318.38,330.21 L318.63,331.22 L318.88,331.18 L319.13,332.38 L319.38,333.03 L319.63,334.55 L319.88,334.03 L320.00,334.92 L320.13,334.60 L320.38,333.67 L320.63,332.24 L320.88,334.37 L321.13,331.72 L321.38,330.01 L321.63,331.40 L321.88,328.91 L322.13,329.27 L322.38,328.93 L322.63,327.13 L322.77,327.23 L322.88,327.45 L323.13,328.53 L323.38,330.01 L323.63,330.05 L323.88,331.50 L324.13,333.50 L324.38,335.56 L324.63,336.42 L324.88,338.44 L325.08,338.00 L325.38,337.21 L325.63,335.18 L325.88,334.40 L326.13,331.81 L326.38,331.57 L326.63,330.43 L326.88,330.38 L327.13,329.61 L327.38,328.00 L327.63,328.35 L327.88,329.14 L328.13,329.16 L328.38,331.13 L328.63,332.25 L328.88,333.22 L329.13,333.01 L329.38,336.14 L329.63,336.29 L329.88,336.01 L330.00,336.46 L330.13,335.34 L330.38,334.26 L330.63,333.42 L330.88,332.02 L331.13,331.21 L331.38,330.21 L331.54,328.77 L331.88,332.35 L332.13,333.88 L332.38,334.49 L332.63,336.65 L332.77,337.23 L332.88,336.25 L333.13,334.69 L333.38,335.57 L333.63,332.06 L333.88,332.90 L334.13,329.40 L334.31,328.77 L334.63,330.64 L334.88,332.66 L335.13,332.93 L335.38,334.52 L335.63,335.18 L335.88,336.21 L336.15,338.00 L336.38,337.17 L336.63,335.98 L336.88,337.42 L337.13,334.98 L337.38,336.07 L337.63,331.09 L337.88,332.97 L338.00,332.62 L338.13,333.50 L338.38,333.29 L338.63,335.27 L338.88,335.46 L339.13,335.18 L339.38,336.51 L339.54,336.46 L339.88,338.34 L340.13,335.11 L340.38,334.48 L340.63,333.07 L340.88,332.97 L341.13,330.87 L341.38,331.29 L341.54,331.08 L341.88,334.58 L342.13,333.94 L342.38,334.26 L342.63,335.47 L342.88,337.00 L343.08,335.69 L343.38,335.52 L343.63,336.38 L343.88,334.75 L344.13,333.22 L344.38,334.15 L344.62,331.85 L344.88,328.80 L345.13,329.97 L345.38,330.19 L345.63,328.38 L345.85,328.77 L346.13,329.57 L346.38,329.92 L346.63,330.74 L346.88,334.96 L347.23,333.38 L347.38,333.63 L347.63,332.32 L347.88,333.08 L348.13,330.89 L348.38,331.39 L348.63,330.23 L348.77,329.54 L348.88,331.04 L349.13,327.65 L349.38,329.54 L349.63,328.58 L349.88,326.97 L350.00,328.00 L350.13,329.82 L350.38,329.23 L350.63,333.13 L350.88,333.38 L351.13,334.94 L351.38,335.70 L351.54,336.46 L351.88,336.17 L352.13,332.48 L352.38,333.58 L352.63,331.99 L352.88,332.04 L353.08,331.08 L353.38,330.26 L353.63,330.31 L353.88,328.21 L354.13,330.30 L354.38,330.16 L354.62,327.23 L354.88,328.48 L355.13,330.03 L355.38,331.69 L355.63,334.04 L355.88,336.04 L356.13,334.23 L356.46,337.23 L356.63,336.20 L356.88,335.17 L357.13,334.54 L357.38,333.43 L357.63,334.89 L357.88,332.76 L358.13,334.90 L358.46,332.62 L358.63,333.80 L358.88,332.20 L359.13,332.57 L359.38,333.37 L359.63,335.81 L359.88,333.88 L360.00,334.92 L360.13,332.99 L360.38,333.72 L360.63,333.40 L360.88,331.60 L361.13,333.18 L361.38,331.02 L361.63,330.48 L361.88,328.39 L362.13,328.48 L362.31,328.00 L362.63,328.49 L362.88,326.82 L363.13,329.95 L363.38,328.31 L363.63,330.62 L363.85,331.08 L364.13,330.57 L364.38,335.04 L364.63,334.17 L364.88,335.60 L365.13,336.53 L365.38,336.46 L365.63,334.22 L365.88,332.36 L366.13,333.50 L366.38,333.89 L366.63,332.18 L366.92,331.08 L367.13,332.42 L367.38,333.20 L367.63,331.32 L367.88,333.78 L368.13,336.14 L368.46,334.92 L368.63,333.97 L368.88,331.95 L369.13,333.28 L369.38,332.52 L369.63,332.91 L369.88,331.04 L370.13,331.53 L370.31,331.08 L370.63,329.44 L370.88,333.11 L371.13,334.37 L371.38,334.57 L371.63,332.16 L371.85,334.15 L372.13,334.15 L372.38,330.44 L372.63,333.54 L372.88,332.89 L373.13,331.63 L373.38,332.74 L373.63,332.23 L373.85,331.85 L374.13,333.40 L374.38,333.06 L374.63,333.67 L374.88,331.90 L375.13,333.22 L375.38,334.92 L375.63,333.95 L375.88,334.27 L376.13,333.47 L376.38,334.56 L376.63,331.61 L376.88,331.79 L377.13,331.82 L377.38,331.08 L377.63,330.73 L377.88,331.39 L378.13,330.17 L378.38,332.14 L378.63,330.22 L378.88,331.62 L379.23,330.31 L379.38,330.60 L379.63,332.71 L379.88,330.21 L380.13,332.73 L380.38,332.26 L380.63,333.47 L380.88,335.00 L381.08,334.15 L381.38,332.61 L381.63,332.13 L381.88,332.18 L382.13,333.20 L382.38,330.67 L382.63,332.46 L382.88,330.72 L383.08,331.85 L383.38,330.95 L383.63,332.02 L383.85,332.62" fill="none" stroke="#ffa500" stroke-width="0.6" stroke-linejoin="round" stroke-linecap="round"/><path d="M275.38,331.08 L275.63,329.83 L275.88,328.58 L276.13,327.33 L276.38,326.08 L276.63,324.83 L276.92,323.38 L277.13,326.03 L277.38,329.15 L277.63,332.28 L277.88,335.40 L278.13,338.53 L278.46,342.62 L278.63,340.93 L278.88,338.50 L279.13,336.07 L279.38,333.64 L279.63,331.21 L279.88,328.78 L280.13,326.35 L280.38,323.92 L280.63,321.49 L280.88,319.06 L281.23,315.69 L281.38,317.69 L281.63,320.94 L281.88,324.19 L282.13,327.44 L282.38,330.69 L282.63,333.94 L282.88,337.19 L283.13,340.44 L283.38,343.69 L283.54,345.69 L283.88,341.70 L284.13,338.81 L284.38,335.93 L284.63,333.04 L284.88,330.16 L285.13,327.28 L285.38,324.39 L285.54,322.62 L285.88,326.65 L286.13,329.57 L286.38,332.49 L286.63,335.40 L286.88,338.32 L287.13,341.24 L287.38,344.15 L287.63,347.07 L287.85,349.54 L288.13,346.74 L288.38,344.31 L288.63,341.89 L288.88,339.46 L289.13,337.03 L289.38,334.61 L289.63,332.18 L289.88,329.75 L290.13,327.33 L290.46,324.15 L290.63,325.38 L290.88,327.15 L291.13,328.84 L291.38,330.64 L291.63,332.29 L291.88,334.09 L292.13,335.77 L292.38,337.67 L292.63,339.45 L292.77,340.31 L292.88,339.33 L293.13,337.39 L293.38,335.13 L293.63,333.11 L293.88,331.03 L294.13,328.83 L294.38,326.89 L294.63,324.97 L294.88,322.56 L295.08,321.08 L295.38,323.86 L295.63,325.89 L295.88,328.32 L296.13,330.31 L296.38,332.51 L296.63,334.68 L296.88,336.78 L297.13,338.68 L297.38,341.08 L297.63,339.32 L297.88,336.82 L298.13,335.12 L298.38,333.20 L298.63,330.91 L298.88,329.11 L299.13,327.33 L299.38,325.07 L299.69,322.62 L299.88,323.82 L300.13,325.17 L300.38,327.46 L300.63,329.38 L300.88,331.23 L301.13,332.94 L301.38,335.13 L301.63,336.70 L301.88,338.66 L302.00,339.54 L302.13,338.88 L302.38,336.86 L302.63,335.43 L302.88,334.58 L303.13,332.62 L303.38,330.37 L303.63,329.16 L303.88,327.79 L304.13,326.43 L304.31,324.92 L304.63,326.83 L304.88,328.01 L305.13,329.35 L305.38,331.26 L305.63,332.56 L305.88,333.67 L306.13,335.20 L306.38,336.53 L306.62,338.00 L306.88,336.67 L307.13,334.61 L307.38,333.58 L307.63,332.23 L307.88,330.59 L308.13,328.53 L308.38,327.96 L308.63,325.59 L308.92,324.15 L309.13,325.64 L309.38,326.63 L309.63,327.70 L309.88,330.13 L310.13,331.69 L310.38,333.05 L310.63,334.75 L310.88,335.83 L311.13,337.31 L311.38,339.11 L311.69,341.08 L311.88,340.77 L312.13,338.55 L312.38,336.19 L312.63,335.09 L312.88,332.87 L313.13,331.21 L313.38,330.26 L313.54,328.77 L313.88,329.98 L314.13,330.41 L314.38,331.92 L314.63,333.57 L314.88,334.68 L315.13,336.41 L315.38,336.35 L315.63,338.29 L315.85,338.77 L316.13,337.88 L316.38,336.52 L316.63,336.13 L316.88,334.92 L317.13,333.07 L317.38,333.30 L317.63,330.83 L317.88,330.65 L318.15,329.54 L318.38,330.21 L318.63,331.22 L318.88,331.18 L319.13,332.38 L319.38,333.03 L319.63,334.55 L319.88,334.03 L320.00,334.92 L320.13,334.60 L320.38,333.67 L320.63,332.24 L320.88,334.37 L321.13,331.72 L321.38,330.01 L321.63,331.40 L321.88,328.91 L322.13,329.27 L322.38,328.93 L322.63,327.13 L322.77,327.23 L322.88,327.45 L323.13,328.53 L323.38,330.01 L323.63,330.05 L323.88,331.50 L324.13,333.50 L324.38,335.56 L324.63,336.42 L324.88,338.44 L325.08,338.00 L325.38,337.21 L325.63,335.18 L325.88,334.40 L326.13,331.81 L326.38,331.57 L326.63,330.43 L326.88,330.38 L327.13,329.61 L327.38,328.00 L327.63,328.35 L327.88,329.14 L328.13,329.16 L328.38,331.13 L328.63,332.25 L328.88,333.22 L329.13,333.01 L329.38,336.14 L329.63,336.29 L329.88,336.01 L330.00,336.46 L330.13,335.34 L330.38,334.26 L330.63,333.42 L330.88,332.02 L331.13,331.21 L331.38,330.21 L331.54,328.77 L331.88,332.35 L332.13,333.88 L332.38,334.49 L332.63,336.65 L332.77,337.23 L332.88,336.25 L333.13,334.69 L333.38,335.57 L333.63,332.06 L333.88,332.90 L334.13,329.40 L334.31,328.77 L334.63,330.64 L334.88,332.66 L335.13,332.93 L335.38,334.52 L335.63,335.18 L335.88,336.21 L336.15,338.00 L336.38,337.17 L336.63,335.98 L336.88,337.42 L337.13,334.98 L337.38,336.07 L337.63,331.09 L337.88,332.97 L338.00,332.62 L338.13,333.50 L338.38,333.29 L338.63,335.27 L338.88,335.46 L339.13,335.18 L339.38,336.51 L339.54,336.46 L339.88,338.34 L340.13,335.11 L340.38,334.48 L340.63,333.07 L340.88,332.97 L341.13,330.87 L341.38,331.29 L341.54,331.08 L341.88,334.58 L342.13,333.94 L342.38,334.26 L342.63,335.47 L342.88,337.00 L343.08,335.69 L343.38,335.52 L343.63,336.38 L343.88,334.75 L344.13,333.22 L344.38,334.15 L344.62,331.85 L344.88,328.80 L345.13,329.97 L345.38,330.19 L345.63,328.38 L345.85,328.77 L346.13,329.57 L346.38,329.92 L346.63,330.74 L346.88,334.96 L347.23,333.38 L347.38,333.63 L347.63,332.32 L347.88,333.08 L348.13,330.89 L348.38,331.39 L348.63,330.23 L348.77,329.54 L348.88,331.04 L349.13,327.65 L349.38,329.54 L349.63,328.58 L349.88,326.97 L350.00,328.00 L350.13,329.82 L350.38,329.23 L350.63,333.13 L350.88,333.38 L351.13,334.94 L351.38,335.70 L351.54,336.46 L351.88,336.17 L352.13,332.48 L352.38,333.58 L352.63,331.99 L352.88,332.04 L353.08,331.08 L353.38,330.26 L353.63,330.31 L353.88,328.21 L354.13,330.30 L354.38,330.16 L354.62,327.23 L354.88,328.48 L355.13,330.03 L355.38,331.69 L355.63,334.04 L355.88,336.04 L356.13,334.23 L356.46,337.23 L356.63,336.20 L356.88,335.17 L357.13,334.54 L357.38,333.43 L357.63,334.89 L357.88,332.76 L358.13,334.90 L358.46,332.62 L358.63,333.80 L358.88,332.20 L359.13,332.57 L359.38,333.37 L359.63,335.81 L359.88,333.88 L360.00,334.92 L360.13,332.99 L360.38,333.72 L360.63,333.40 L360.88,331.60 L361.13,333.18 L361.38,331.02 L361.63,330.48 L361.88,328.39 L362.13,328.48 L362.31,328.00 L362.63,328.49 L362.88,326.82 L363.13,329.95 L363.38,328.31 L363.63,330.62 L363.85,331.08 L364.13,330.57 L364.38,335.04 L364.63,334.17 L364.88,335.60 L365.13,336.53 L365.38,336.46 L365.63,334.22 L365.88,332.36 L366.13,333.50 L366.38,333.89 L366.63,332.18 L366.92,331.08 L367.13,332.42 L367.38,333.20 L367.63,331.32 L367.88,333.78 L368.13,336.14 L368.46,334.92 L368.63,333.97 L368.88,331.95 L369.13,333.28 L369.38,332.52 L369.63,332.91 L369.88,331.04 L370.13,331.53 L370.31,331.08 L370.63,329.44 L370.88,333.11 L371.13,334.37 L371.38,334.57 L371.63,332.16 L371.85,334.15 L372.13,334.15 L372.38,330.44 L372.63,333.54 L372.88,332.89 L373.13,331.63 L373.38,332.74 L373.63,332.23 L373.85,331.85 L374.13,333.40 L374.38,333.06 L374.63,333.67 L374.88,331.90 L375.13,333.22 L375.38,334.92 L375.63,333.95 L375.88,334.27 L376.13,333.47 L376.38,334.56 L376.63,331.61 L376.88,331.79 L377.13,331.82 L377.38,331.08 L377.63,330.73 L377.88,331.39 L378.13,330.17 L378.38,332.14 L378.63,330.22 L378.88,331.62 L379.23,330.31 L379.38,330.60 L379.63,332.71 L379.88,330.21 L380.13,332.73 L380.38,332.26 L380.63,333.47 L380.88,335.00 L381.08,334.15 L381.38,332.61 L381.63,332.13 L381.88,332.18 L382.13,333.20 L382.38,330.67 L382.63,332.46 L382.88,330.72 L383.08,331.85 L383.38,330.95 L383.63,332.02 L383.85,332.62" fill="none" stroke="#ffa500" stroke-width="0.6" stroke-linejoin="round" stroke-linecap="round"/>
<path d="M275.08,383.85 L275.30,381.23 L275.52,378.62 L275.74,376.01 L275.96,373.40 L276.18,370.78 L276.31,369.23 L276.62,372.84 L276.84,375.41 L277.06,377.97 L277.28,380.54 L277.50,383.11 L277.72,385.67 L277.94,388.24 L278.15,390.77 L278.38,386.65 L278.60,382.59 L278.82,378.53 L279.04,374.47 L279.26,370.40 L279.48,366.34 L279.70,362.28 L279.92,358.22 L280.15,353.85 L280.36,357.91 L280.58,362.31 L280.80,366.71 L281.02,371.11 L281.24,375.51 L281.46,379.91 L281.68,384.31 L281.90,388.71 L282.12,393.11 L282.34,397.51 L282.46,400.00 L282.78,394.93 L283.00,391.40 L283.22,387.86 L283.44,384.32 L283.66,380.79 L283.88,377.25 L284.10,373.72 L284.32,370.18 L284.62,365.38 L284.76,367.56 L284.98,370.95 L285.20,374.32 L285.42,377.72 L285.64,381.07 L285.86,384.48 L286.08,387.86 L286.30,391.29 L286.62,396.15 L286.74,393.98 L286.96,390.20 L287.18,386.20 L287.40,382.40 L287.62,378.51 L287.84,374.35 L288.06,370.65 L288.28,366.76 L288.50,362.77 L288.62,360.77 L288.72,362.03 L288.94,364.47 L289.16,367.43 L289.38,370.10 L289.60,372.74 L289.82,375.79 L290.04,378.09 L290.26,380.71 L290.48,383.23 L290.77,386.92 L290.92,384.84 L291.14,381.36 L291.36,378.67 L291.58,375.02 L291.80,372.01 L292.02,369.28 L292.24,365.88 L292.46,362.31 L292.68,364.61 L292.90,367.21 L293.12,369.08 L293.34,371.61 L293.56,373.66 L293.78,375.65 L294.00,378.35 L294.22,380.80 L294.44,382.65 L294.62,384.62 L294.88,381.31 L295.10,379.05 L295.32,375.91 L295.54,374.11 L295.76,371.47 L295.98,370.23 L296.20,366.75 L296.42,363.89 L296.62,362.31 L296.86,365.37 L297.08,367.38 L297.30,369.93 L297.52,372.45 L297.74,374.91 L297.96,377.10 L298.18,380.18 L298.40,382.43 L298.62,384.62 L298.84,382.39 L299.06,380.59 L299.28,378.22 L299.50,376.89 L299.72,375.17 L299.94,373.17 L300.16,371.19 L300.38,368.82 L300.60,367.81 L300.77,365.38 L301.04,367.63 L301.26,369.72 L301.48,371.45 L301.70,373.64 L301.92,375.39 L302.14,378.74 L302.36,379.70 L302.58,380.31 L302.77,383.08 L303.02,380.89 L303.24,378.55 L303.46,378.37 L303.68,377.02 L303.90,374.10 L304.12,373.13 L304.34,370.87 L304.56,369.61 L304.77,367.69 L305.00,371.50 L305.22,372.47 L305.44,374.30 L305.66,378.21 L305.88,380.54 L306.10,383.14 L306.32,385.89 L306.62,388.46 L306.76,386.57 L306.98,383.43 L307.20,383.70 L307.42,380.42 L307.64,377.66 L307.86,375.56 L308.08,375.35 L308.30,372.44 L308.62,369.23 L308.74,370.40 L308.96,372.53 L309.18,372.85 L309.40,374.10 L309.62,375.99 L309.84,377.40 L310.06,379.78 L310.28,380.88 L310.46,383.08 L310.72,381.54 L310.94,379.70 L311.16,378.72 L311.38,378.06 L311.60,377.44 L311.82,376.25 L312.04,373.50 L312.26,372.24 L312.46,370.77 L312.70,372.19 L312.92,375.53 L313.14,377.89 L313.36,377.51 L313.58,380.73 L313.80,381.39 L314.02,383.36 L314.24,385.55 L314.46,386.73 L314.62,388.46 L314.90,386.12 L315.12,380.88 L315.34,379.16 L315.56,377.20 L315.78,373.55 L316.00,372.55 L316.31,368.46 L316.44,367.57 L316.66,370.85 L316.88,370.56 L317.10,373.55 L317.32,375.80 L317.54,379.30 L317.76,379.43 L317.98,381.56 L318.20,381.14 L318.42,385.14 L318.62,383.85 L318.86,382.01 L319.08,380.60 L319.30,377.90 L319.52,378.42 L319.74,378.10 L319.96,374.53 L320.18,373.47 L320.40,371.95 L320.62,370.73 L320.92,369.23 L321.06,369.22 L321.28,369.47 L321.50,374.46 L321.72,371.16 L321.94,373.87 L322.16,376.90 L322.38,379.12 L322.60,378.70 L322.77,380.00 L323.04,378.36 L323.26,377.82 L323.48,376.36 L323.70,376.99 L323.92,374.00 L324.14,372.24 L324.36,371.98 L324.58,371.80 L324.77,370.77 L325.02,374.03 L325.24,375.86 L325.46,374.09 L325.68,373.72 L325.90,375.09 L326.12,381.75 L326.34,379.10 L326.56,381.70 L326.78,385.25 L326.92,383.08 L327.22,379.96 L327.44,379.21 L327.66,377.06 L327.88,374.70 L328.10,376.25 L328.32,375.17 L328.54,368.83 L328.76,372.00 L328.92,369.23 L329.20,371.77 L329.42,374.83 L329.64,377.21 L329.86,377.02 L330.00,380.77 L330.30,378.94 L330.52,376.82 L330.74,380.81 L330.96,380.31 L331.23,375.38 L331.40,374.93 L331.62,371.99 L331.84,375.19 L332.06,372.11 L332.31,371.54 L332.50,375.37 L332.72,376.75 L332.94,377.23 L333.16,374.68 L333.38,374.64 L333.60,376.20 L333.85,378.46 L334.04,379.01 L334.26,378.42 L334.48,382.88 L334.70,382.78 L334.92,382.42 L335.08,383.08 L335.36,379.79 L335.58,379.55 L335.80,378.76 L336.02,371.02 L336.15,373.08 L336.46,371.59 L336.68,369.29 L336.90,367.15 L337.12,366.47 L337.38,365.38 L337.56,367.46 L337.78,372.82 L338.00,372.04 L338.22,373.56 L338.46,376.92 L338.66,375.36 L338.88,379.45 L339.10,377.43 L339.32,379.17 L339.54,380.00 L339.76,379.60 L339.98,376.80 L340.20,374.39 L340.42,373.11 L340.64,373.32 L340.77,370.77 L341.08,373.20 L341.30,375.41 L341.52,377.49 L341.74,377.93 L341.96,380.84 L342.18,381.55 L342.31,383.08 L342.62,383.12 L342.84,380.65 L343.06,375.37 L343.28,376.66 L343.54,375.38 L343.72,376.31 L343.94,372.73 L344.16,371.11 L344.38,372.34 L344.62,369.23 L344.82,368.54 L345.04,371.87 L345.26,374.12 L345.48,375.90 L345.70,373.90 L345.92,374.85 L346.15,378.46 L346.36,380.79 L346.58,376.46 L346.80,377.34 L347.02,381.45 L347.24,376.02 L347.46,372.62 L347.69,376.15 L347.90,380.16 L348.12,376.03 L348.34,373.89 L348.56,377.18 L348.78,371.14 L349.00,372.84 L349.23,369.23 L349.44,371.44 L349.66,373.27 L349.88,377.22 L350.10,380.00 L350.32,383.05 L350.46,382.31 L350.76,382.79 L350.98,378.56 L351.20,378.08 L351.42,380.45 L351.64,376.86 L351.85,374.62 L352.08,375.22 L352.30,377.86 L352.52,378.37 L352.74,378.59 L352.96,375.72 L353.08,376.92 L353.18,376.74 L353.40,379.87 L353.62,381.75 L353.84,378.59 L354.06,381.01 L354.31,383.08 L354.50,381.25 L354.72,381.81 L354.94,376.42 L355.16,381.56 L355.38,375.22 L355.60,374.52 L355.85,371.54 L356.04,375.45 L356.26,372.46 L356.48,372.58 L356.70,370.80 L356.92,371.86 L357.14,369.00 L357.38,370.77 L357.58,372.15 L357.80,374.09 L358.02,373.96 L358.24,379.29 L358.46,379.23 L358.68,379.20 L358.90,374.14 L359.12,378.05 L359.34,374.07 L359.56,375.92 L359.78,372.53 L360.00,373.08 L360.22,372.77 L360.44,374.51 L360.66,377.60 L360.88,371.67 L361.10,374.11 L361.32,374.45 L361.54,375.38 L361.76,377.93 L361.98,376.05 L362.20,377.81 L362.42,380.02 L362.64,379.54 L362.86,377.94 L363.08,379.23 L363.30,377.36 L363.52,376.56 L363.74,376.23 L363.96,373.28 L364.18,373.65 L364.40,373.70 L364.62,371.54 L364.84,371.70 L365.06,372.67 L365.28,375.06 L365.50,376.99 L365.72,374.06 L365.94,375.70 L366.15,378.46 L366.38,379.94 L366.60,376.66 L366.82,373.80 L367.04,375.16 L367.26,376.97 L367.48,372.05 L367.69,372.31 L367.92,371.56 L368.14,373.86 L368.36,378.24 L368.58,375.09 L368.80,378.26 L369.02,380.13 L369.23,379.23 L369.46,379.47 L369.68,376.82 L369.90,377.77 L370.12,376.00 L370.34,376.31 L370.56,374.65 L370.77,373.08 L371.00,374.14 L371.22,371.44 L371.44,376.61 L371.66,375.97 L371.88,373.11 L372.10,377.64 L372.31,378.46 L372.54,378.55 L372.76,377.34 L372.98,372.59 L373.20,375.34 L373.42,374.45 L373.64,375.21 L373.85,375.38 L374.08,370.77 L374.30,375.23 L374.52,375.37 L374.74,375.12 L374.96,373.62 L375.18,373.21 L375.38,373.08 L375.62,374.23 L375.84,372.51 L376.06,370.20 L376.28,370.85 L376.50,370.90 L376.62,369.23 L376.72,372.16 L376.94,372.26 L377.16,371.39 L377.38,373.40 L377.60,376.20 L377.82,377.83 L378.00,378.46 L378.26,379.48 L378.48,373.29 L378.70,374.70 L378.92,373.12 L379.14,376.52 L379.36,375.17 L379.54,373.08 L379.80,374.62 L380.02,376.29 L380.24,374.48 L380.46,377.30 L380.68,377.20 L380.90,378.03 L381.08,378.46 L381.34,377.28 L381.56,378.48 L381.78,377.86 L382.00,372.35 L382.31,373.85 L382.44,373.28 L382.66,375.12 L382.88,376.73 L383.10,373.31 L383.32,375.28 L383.54,377.69" fill="none" stroke="#ff0000" stroke-width="0.6" stroke-linejoin="round" stroke-linecap="round"/><path d="M275.08,383.85 L275.30,381.23 L275.52,378.62 L275.74,376.01 L275.96,373.40 L276.18,370.78 L276.31,369.23 L276.62,372.84 L276.84,375.41 L277.06,377.97 L277.28,380.54 L277.50,383.11 L277.72,385.67 L277.94,388.24 L278.15,390.77 L278.38,386.65 L278.60,382.59 L278.82,378.53 L279.04,374.47 L279.26,370.40 L279.48,366.34 L279.70,362.28 L279.92,358.22 L280.15,353.85 L280.36,357.91 L280.58,362.31 L280.80,366.71 L281.02,371.11 L281.24,375.51 L281.46,379.91 L281.68,384.31 L281.90,388.71 L282.12,393.11 L282.34,397.51 L282.46,400.00 L282.78,394.93 L283.00,391.40 L283.22,387.86 L283.44,384.32 L283.66,380.79 L283.88,377.25 L284.10,373.72 L284.32,370.18 L284.62,365.38 L284.76,367.56 L284.98,370.95 L285.20,374.32 L285.42,377.72 L285.64,381.07 L285.86,384.48 L286.08,387.86 L286.30,391.29 L286.62,396.15 L286.74,393.98 L286.96,390.20 L287.18,386.20 L287.40,382.40 L287.62,378.51 L287.84,374.35 L288.06,370.65 L288.28,366.76 L288.50,362.77 L288.62,360.77 L288.72,362.03 L288.94,364.47 L289.16,367.43 L289.38,370.10 L289.60,372.74 L289.82,375.79 L290.04,378.09 L290.26,380.71 L290.48,383.23 L290.77,386.92 L290.92,384.84 L291.14,381.36 L291.36,378.67 L291.58,375.02 L291.80,372.01 L292.02,369.28 L292.24,365.88 L292.46,362.31 L292.68,364.61 L292.90,367.21 L293.12,369.08 L293.34,371.61 L293.56,373.66 L293.78,375.65 L294.00,378.35 L294.22,380.80 L294.44,382.65 L294.62,384.62 L294.88,381.31 L295.10,379.05 L295.32,375.91 L295.54,374.11 L295.76,371.47 L295.98,370.23 L296.20,366.75 L296.42,363.89 L296.62,362.31 L296.86,365.37 L297.08,367.38 L297.30,369.93 L297.52,372.45 L297.74,374.91 L297.96,377.10 L298.18,380.18 L298.40,382.43 L298.62,384.62 L298.84,382.39 L299.06,380.59 L299.28,378.22 L299.50,376.89 L299.72,375.17 L299.94,373.17 L300.16,371.19 L300.38,368.82 L300.60,367.81 L300.77,365.38 L301.04,367.63 L301.26,369.72 L301.48,371.45 L301.70,373.64 L301.92,375.39 L302.14,378.74 L302.36,379.70 L302.58,380.31 L302.77,383.08 L303.02,380.89 L303.24,378.55 L303.46,378.37 L303.68,377.02 L303.90,374.10 L304.12,373.13 L304.34,370.87 L304.56,369.61 L304.77,367.69 L305.00,371.50 L305.22,372.47 L305.44,374.30 L305.66,378.21 L305.88,380.54 L306.10,383.14 L306.32,385.89 L306.62,388.46 L306.76,386.57 L306.98,383.43 L307.20,383.70 L307.42,380.42 L307.64,377.66 L307.86,375.56 L308.08,375.35 L308.30,372.44 L308.62,369.23 L308.74,370.40 L308.96,372.53 L309.18,372.85 L309.40,374.10 L309.62,375.99 L309.84,377.40 L310.06,379.78 L310.28,380.88 L310.46,383.08 L310.72,381.54 L310.94,379.70 L311.16,378.72 L311.38,378.06 L311.60,377.44 L311.82,376.25 L312.04,373.50 L312.26,372.24 L312.46,370.77 L312.70,372.19 L312.92,375.53 L313.14,377.89 L313.36,377.51 L313.58,380.73 L313.80,381.39 L314.02,383.36 L314.24,385.55 L314.46,386.73 L314.62,388.46 L314.90,386.12 L315.12,380.88 L315.34,379.16 L315.56,377.20 L315.78,373.55 L316.00,372.55 L316.31,368.46 L316.44,367.57 L316.66,370.85 L316.88,370.56 L317.10,373.55 L317.32,375.80 L317.54,379.30 L317.76,379.43 L317.98,381.56 L318.20,381.14 L318.42,385.14 L318.62,383.85 L318.86,382.01 L319.08,380.60 L319.30,377.90 L319.52,378.42 L319.74,378.10 L319.96,374.53 L320.18,373.47 L320.40,371.95 L320.62,370.73 L320.92,369.23 L321.06,369.22 L321.28,369.47 L321.50,374.46 L321.72,371.16 L321.94,373.87 L322.16,376.90 L322.38,379.12 L322.60,378.70 L322.77,380.00 L323.04,378.36 L323.26,377.82 L323.48,376.36 L323.70,376.99 L323.92,374.00 L324.14,372.24 L324.36,371.98 L324.58,371.80 L324.77,370.77 L325.02,374.03 L325.24,375.86 L325.46,374.09 L325.68,373.72 L325.90,375.09 L326.12,381.75 L326.34,379.10 L326.56,381.70 L326.78,385.25 L326.92,383.08 L327.22,379.96 L327.44,379.21 L327.66,377.06 L327.88,374.70 L328.10,376.25 L328.32,375.17 L328.54,368.83 L328.76,372.00 L328.92,369.23 L329.20,371.77 L329.42,374.83 L329.64,377.21 L329.86,377.02 L330.00,380.77 L330.30,378.94 L330.52,376.82 L330.74,380.81 L330.96,380.31 L331.23,375.38 L331.40,374.93 L331.62,371.99 L331.84,375.19 L332.06,372.11 L332.31,371.54 L332.50,375.37 L332.72,376.75 L332.94,377.23 L333.16,374.68 L333.38,374.64 L333.60,376.20 L333.85,378.46 L334.04,379.01 L334.26,378.42 L334.48,382.88 L334.70,382.78 L334.92,382.42 L335.08,383.08 L335.36,379.79 L335.58,379.55 L335.80,378.76 L336.02,371.02 L336.15,373.08 L336.46,371.59 L336.68,369.29 L336.90,367.15 L337.12,366.47 L337.38,365.38 L337.56,367.46 L337.78,372.82 L338.00,372.04 L338.22,373.56 L338.46,376.92 L338.66,375.36 L338.88,379.45 L339.10,377.43 L339.32,379.17 L339.54,380.00 L339.76,379.60 L339.98,376.80 L340.20,374.39 L340.42,373.11 L340.64,373.32 L340.77,370.77 L341.08,373.20 L341.30,375.41 L341.52,377.49 L341.74,377.93 L341.96,380.84 L342.18,381.55 L342.31,383.08 L342.62,383.12 L342.84,380.65 L343.06,375.37 L343.28,376.66 L343.54,375.38 L343.72,376.31 L343.94,372.73 L344.16,371.11 L344.38,372.34 L344.62,369.23 L344.82,368.54 L345.04,371.87 L345.26,374.12 L345.48,375.90 L345.70,373.90 L345.92,374.85 L346.15,378.46 L346.36,380.79 L346.58,376.46 L346.80,377.34 L347.02,381.45 L347.24,376.02 L347.46,372.62 L347.69,376.15 L347.90,380.16 L348.12,376.03 L348.34,373.89 L348.56,377.18 L348.78,371.14 L349.00,372.84 L349.23,369.23 L349.44,371.44 L349.66,373.27 L349.88,377.22 L350.10,380.00 L350.32,383.05 L350.46,382.31 L350.76,382.79 L350.98,378.56 L351.20,378.08 L351.42,380.45 L351.64,376.86 L351.85,374.62 L352.08,375.22 L352.30,377.86 L352.52,378.37 L352.74,378.59 L352.96,375.72 L353.08,376.92 L353.18,376.74 L353.40,379.87 L353.62,381.75 L353.84,378.59 L354.06,381.01 L354.31,383.08 L354.50,381.25 L354.72,381.81 L354.94,376.42 L355.16,381.56 L355.38,375.22 L355.60,374.52 L355.85,371.54 L356.04,375.45 L356.26,372.46 L356.48,372.58 L356.70,370.80 L356.92,371.86 L357.14,369.00 L357.38,370.77 L357.58,372.15 L357.80,374.09 L358.02,373.96 L358.24,379.29 L358.46,379.23 L358.68,379.20 L358.90,374.14 L359.12,378.05 L359.34,374.07 L359.56,375.92 L359.78,372.53 L360.00,373.08 L360.22,372.77 L360.44,374.51 L360.66,377.60 L360.88,371.67 L361.10,374.11 L361.32,374.45 L361.54,375.38 L361.76,377.93 L361.98,376.05 L362.20,377.81 L362.42,380.02 L362.64,379.54 L362.86,377.94 L363.08,379.23 L363.30,377.36 L363.52,376.56 L363.74,376.23 L363.96,373.28 L364.18,373.65 L364.40,373.70 L364.62,371.54 L364.84,371.70 L365.06,372.67 L365.28,375.06 L365.50,376.99 L365.72,374.06 L365.94,375.70 L366.15,378.46 L366.38,379.94 L366.60,376.66 L366.82,373.80 L367.04,375.16 L367.26,376.97 L367.48,372.05 L367.69,372.31 L367.92,371.56 L368.14,373.86 L368.36,378.24 L368.58,375.09 L368.80,378.26 L369.02,380.13 L369.23,379.23 L369.46,379.47 L369.68,376.82 L369.90,377.77 L370.12,376.00 L370.34,376.31 L370.56,374.65 L370.77,373.08 L371.00,374.14 L371.22,371.44 L371.44,376.61 L371.66,375.97 L371.88,373.11 L372.10,377.64 L372.31,378.46 L372.54,378.55 L372.76,377.34 L372.98,372.59 L373.20,375.34 L373.42,374.45 L373.64,375.21 L373.85,375.38 L374.08,370.77 L374.30,375.23 L374.52,375.37 L374.74,375.12 L374.96,373.62 L375.18,373.21 L375.38,373.08 L375.62,374.23 L375.84,372.51 L376.06,370.20 L376.28,370.85 L376.50,370.90 L376.62,369.23 L376.72,372.16 L376.94,372.26 L377.16,371.39 L377.38,373.40 L377.60,376.20 L377.82,377.83 L378.00,378.46 L378.26,379.48 L378.48,373.29 L378.70,374.70 L378.92,373.12 L379.14,376.52 L379.36,375.17 L379.54,373.08 L379.80,374.62 L380.02,376.29 L380.24,374.48 L380.46,377.30 L380.68,377.20 L380.90,378.03 L381.08,378.46 L381.34,377.28 L381.56,378.48 L381.78,377.86 L382.00,372.35 L382.31,373.85 L382.44,373.28 L382.66,375.12 L382.88,376.73 L383.10,373.31 L383.32,375.28 L383.54,377.69" fill="none" stroke="#ff0000" stroke-width="0.6" stroke-linejoin="round" stroke-linecap="round"/>
</g>
<g class="ax">
<line x1="117.00" y1="171.40" x2="117.00" y2="401.95"/>
<line x1="240.00" y1="171.40" x2="240.00" y2="401.95"/>
<line x1="116.50" y1="171.90" x2="240.50" y2="171.90"/>
<line x1="116.50" y1="401.45" x2="240.50" y2="401.45"/>
<line x1="117.60" y1="401.45" x2="117.60" y2="406.05"/>
<line x1="148.00" y1="401.45" x2="148.00" y2="406.05"/>
<line x1="178.40" y1="401.45" x2="178.40" y2="406.05"/>
<line x1="208.80" y1="401.45" x2="208.80" y2="406.05"/>
<line x1="239.20" y1="401.45" x2="239.20" y2="406.05"/>
<line x1="123.68" y1="401.45" x2="123.68" y2="403.95"/>
<line x1="129.76" y1="401.45" x2="129.76" y2="403.95"/>
<line x1="135.84" y1="401.45" x2="135.84" y2="403.95"/>
<line x1="141.92" y1="401.45" x2="141.92" y2="403.95"/>
<line x1="154.08" y1="401.45" x2="154.08" y2="403.95"/>
<line x1="160.16" y1="401.45" x2="160.16" y2="403.95"/>
<line x1="166.24" y1="401.45" x2="166.24" y2="403.95"/>
<line x1="172.32" y1="401.45" x2="172.32" y2="403.95"/>
<line x1="184.48" y1="401.45" x2="184.48" y2="403.95"/>
<line x1="190.56" y1="401.45" x2="190.56" y2="403.95"/>
<line x1="196.64" y1="401.45" x2="196.64" y2="403.95"/>
<line x1="202.72" y1="401.45" x2="202.72" y2="403.95"/>
<line x1="214.88" y1="401.45" x2="214.88" y2="403.95"/>
<line x1="220.96" y1="401.45" x2="220.96" y2="403.95"/>
<line x1="227.04" y1="401.45" x2="227.04" y2="403.95"/>
<line x1="233.12" y1="401.45" x2="233.12" y2="403.95"/>
<line x1="111.80" y1="389.35" x2="117.00" y2="389.35"/>
<line x1="111.80" y1="351.63" x2="117.00" y2="351.63"/>
<line x1="111.80" y1="313.91" x2="117.00" y2="313.91"/>
<line x1="111.80" y1="276.19" x2="117.00" y2="276.19"/>
<line x1="111.80" y1="238.47" x2="117.00" y2="238.47"/>
<line x1="111.80" y1="200.75" x2="117.00" y2="200.75"/>
<line x1="273.50" y1="171.20" x2="273.50" y2="401.10"/>
<line x1="384.40" y1="171.20" x2="384.40" y2="401.10"/>
<line x1="273.00" y1="171.70" x2="384.90" y2="171.70"/>
<line x1="273.00" y1="400.60" x2="384.90" y2="400.60"/>
<line x1="273.85" y1="400.60" x2="273.85" y2="405.60"/>
<line x1="301.43" y1="400.60" x2="301.43" y2="405.60"/>
<line x1="329.00" y1="400.60" x2="329.00" y2="405.60"/>
<line x1="356.58" y1="400.60" x2="356.58" y2="405.60"/>
<line x1="384.15" y1="400.60" x2="384.15" y2="405.60"/>
<line x1="279.37" y1="400.60" x2="279.37" y2="403.60"/>
<line x1="284.88" y1="400.60" x2="284.88" y2="403.60"/>
<line x1="290.40" y1="400.60" x2="290.40" y2="403.60"/>
<line x1="295.91" y1="400.60" x2="295.91" y2="403.60"/>
<line x1="306.94" y1="400.60" x2="306.94" y2="403.60"/>
<line x1="312.46" y1="400.60" x2="312.46" y2="403.60"/>
<line x1="317.97" y1="400.60" x2="317.97" y2="403.60"/>
<line x1="323.49" y1="400.60" x2="323.49" y2="403.60"/>
<line x1="334.52" y1="400.60" x2="334.52" y2="403.60"/>
<line x1="340.03" y1="400.60" x2="340.03" y2="403.60"/>
<line x1="345.55" y1="400.60" x2="345.55" y2="403.60"/>
<line x1="351.06" y1="400.60" x2="351.06" y2="403.60"/>
<line x1="362.09" y1="400.60" x2="362.09" y2="403.60"/>
<line x1="367.61" y1="400.60" x2="367.61" y2="403.60"/>
<line x1="373.12" y1="400.60" x2="373.12" y2="403.60"/>
<line x1="378.63" y1="400.60" x2="378.63" y2="403.60"/>
<line x1="268.30" y1="376.45" x2="273.50" y2="376.45"/>
<line x1="268.30" y1="314.73" x2="273.50" y2="314.73"/>
<line x1="268.30" y1="253.01" x2="273.50" y2="253.01"/>
<line x1="268.30" y1="191.29" x2="273.50" y2="191.29"/>
</g>
<g class="tx">
<text x="117.70" y="418.50" text-anchor="middle">0</text>
<text x="148.10" y="418.50" text-anchor="middle">100</text>
<text x="178.50" y="418.50" text-anchor="middle">200</text>
<text x="208.90" y="418.50" text-anchor="middle">300</text>
<text x="239.30" y="418.50" text-anchor="middle">400</text>
<text x="110.20" y="392.95" text-anchor="end">0</text>
<text x="110.20" y="355.23" text-anchor="end">2</text>
<text x="110.20" y="317.51" text-anchor="end">4</text>
<text x="110.20" y="279.79" text-anchor="end">6</text>
<text x="110.20" y="242.07" text-anchor="end">8</text>
<text x="110.20" y="204.35" text-anchor="end">10</text>
<text x="273.95" y="417.60" text-anchor="middle">0</text>
<text x="301.53" y="417.60" text-anchor="middle">50</text>
<text x="329.10" y="417.60" text-anchor="middle">100</text>
<text x="356.68" y="417.60" text-anchor="middle">150</text>
<text x="384.25" y="417.60" text-anchor="middle">200</text>
<text x="266.30" y="380.05" text-anchor="end">0</text>
<text x="266.30" y="318.33" text-anchor="end">1</text>
<text x="266.30" y="256.61" text-anchor="end">2</text>
<text x="266.30" y="194.89" text-anchor="end">3</text>

<text x="186.5" y="185.3">GaP</text>
<text x="221.1" y="185.3">(a)</text>
<text x="193.4" y="200.6">λ=479 nm</text>
<text x="200.1" y="292.5">519 nm</text>
<text x="199.9" y="339">566 nm</text>
<text x="200.9" y="377.4">626 nm</text>
<text x="178.8" y="429.2" text-anchor="middle">time delay (ps)</text>
<text transform="translate(96,315.1) rotate(-90)">ΔR/R (x10<tspan dx="-0.3" dy="-7" font-size="7">-5</tspan><tspan dx="0.2" dy="7">)</tspan></text>
<text x="337" y="182.9">Si</text>
<text x="367.7" y="185.4">(b)</text>
<text x="321.9" y="196">λ=481 nm</text>
<text x="339.6" y="275.7">519 nm</text>
<text x="338.8" y="317.8">565 nm</text>
<text x="342.9" y="360.5">622 nm</text>
<text x="329" y="428.5" text-anchor="middle">time delay (ps)</text>

</g>
</svg>
</body></html>
